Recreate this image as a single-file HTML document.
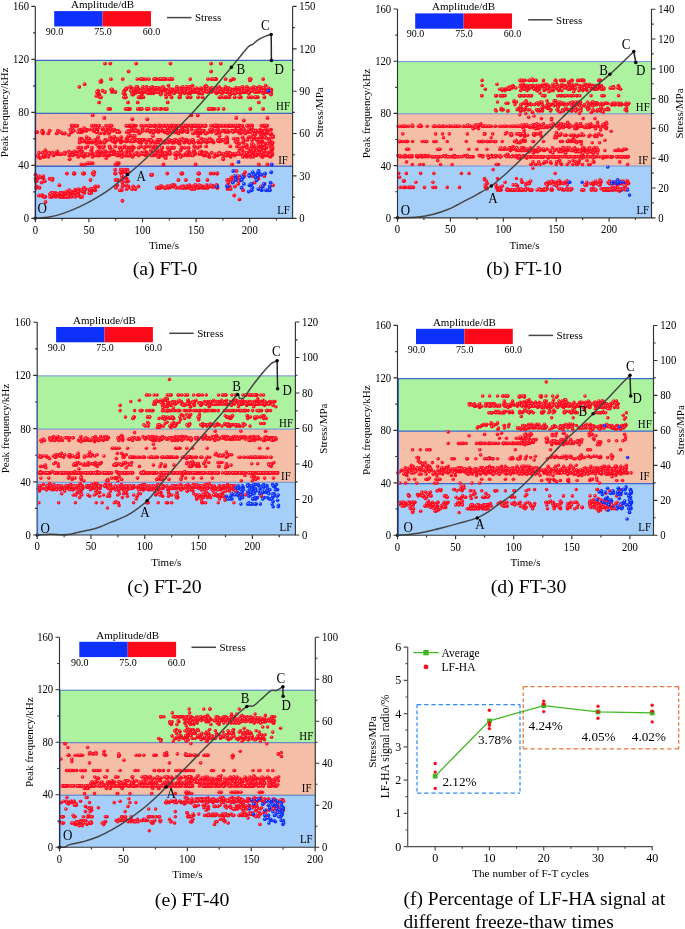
<!DOCTYPE html>
<html lang="en"><head><meta charset="utf-8"><title>Figure</title>
<style>html,body{margin:0;padding:0;background:#fff}svg{display:block;will-change:transform}text{font-family:'Liberation Serif', 'DejaVu Serif', serif;fill:#000}</style>
</head><body>
<svg width="685" height="929" viewBox="0 0 685 929">
<defs>
<radialGradient id="gr" cx="0.38" cy="0.36" r="0.62"><stop offset="0" stop-color="#ffa8bc"/><stop offset="0.36" stop-color="#ff1428"/><stop offset="1" stop-color="#fb081a"/></radialGradient>
<radialGradient id="gb" cx="0.38" cy="0.36" r="0.62"><stop offset="0" stop-color="#b4c2ff"/><stop offset="0.36" stop-color="#1238ff"/><stop offset="1" stop-color="#0a2af4"/></radialGradient>
<marker id="r0" markerUnits="userSpaceOnUse" markerWidth="6" markerHeight="6" refX="3" refY="3" overflow="visible"><circle cx="3" cy="3" r="1.95" fill="url(#gr)"/></marker>
<marker id="b0" markerUnits="userSpaceOnUse" markerWidth="6" markerHeight="6" refX="3" refY="3" overflow="visible"><circle cx="3" cy="3" r="1.95" fill="url(#gb)"/></marker>
<marker id="r1" markerUnits="userSpaceOnUse" markerWidth="6" markerHeight="6" refX="3" refY="3" overflow="visible"><circle cx="3" cy="3" r="1.78" fill="url(#gr)"/></marker>
<marker id="b1" markerUnits="userSpaceOnUse" markerWidth="6" markerHeight="6" refX="3" refY="3" overflow="visible"><circle cx="3" cy="3" r="1.78" fill="url(#gb)"/></marker>
<marker id="r2" markerUnits="userSpaceOnUse" markerWidth="6" markerHeight="6" refX="3" refY="3" overflow="visible"><circle cx="3" cy="3" r="1.78" fill="url(#gr)"/></marker>
<marker id="b2" markerUnits="userSpaceOnUse" markerWidth="6" markerHeight="6" refX="3" refY="3" overflow="visible"><circle cx="3" cy="3" r="1.78" fill="url(#gb)"/></marker>
<marker id="r3" markerUnits="userSpaceOnUse" markerWidth="6" markerHeight="6" refX="3" refY="3" overflow="visible"><circle cx="3" cy="3" r="1.78" fill="url(#gr)"/></marker>
<marker id="b3" markerUnits="userSpaceOnUse" markerWidth="6" markerHeight="6" refX="3" refY="3" overflow="visible"><circle cx="3" cy="3" r="1.78" fill="url(#gb)"/></marker>
<marker id="r4" markerUnits="userSpaceOnUse" markerWidth="6" markerHeight="6" refX="3" refY="3" overflow="visible"><circle cx="3" cy="3" r="1.78" fill="url(#gr)"/></marker>
<marker id="b4" markerUnits="userSpaceOnUse" markerWidth="6" markerHeight="6" refX="3" refY="3" overflow="visible"><circle cx="3" cy="3" r="1.78" fill="url(#gb)"/></marker>
</defs>
<rect width="685" height="929" fill="#fff"/>
<g>
<rect x="35.3" y="60.4" width="257.3" height="53.0" fill="#adf39f"/>
<rect x="35.3" y="113.4" width="257.3" height="53.0" fill="#f5bea7"/>
<rect x="35.3" y="166.3" width="257.3" height="52.0" fill="#a5cff8"/>
<path d="M35.3 60.4H292.6M35.3 113.4H292.6M35.3 166.3H292.6" stroke="#3f62c8" stroke-width="1.4" fill="none"/>
<polyline fill="none" stroke="none" marker-start="url(#r0)" marker-mid="url(#r0)" marker-end="url(#r0)" points="225.8,125.7 154.3,152.8 257.2,147.7 215.0,130.8 266.5,90.8 136.4,139.9 125.5,172.2 164.9,132.1 185.8,125.7 243.1,190.3 155.7,90.8 146.7,154.1 81.7,132.1 144.7,139.9 228.7,90.8 115.4,164.5 240.0,88.2 263.1,152.8 189.7,125.7 160.4,186.5 190.1,90.8 185.6,141.2 218.0,139.9 229.7,89.5 51.0,194.2 154.7,125.7 161.8,186.5 51.6,195.5 215.9,79.1 171.4,79.1 248.8,90.8 114.9,142.5 243.1,128.3 43.5,178.7 129.5,125.7 154.3,89.5 110.1,137.3 205.1,155.4 186.7,187.8 200.4,132.1 141.9,94.6 110.2,108.9 193.1,133.4 108.4,108.9 253.4,154.1 188.6,142.5 214.6,125.7 45.3,150.3 261.6,152.8 230.7,156.7 229.1,93.3 186.3,130.8 178.5,141.2 244.7,152.8 78.2,191.6 141.3,142.5 109.6,146.4 60.9,195.5 200.2,125.7 244.8,89.5 217.0,185.2 242.6,92.0 264.7,125.7 165.8,125.7 233.9,138.6 168.9,187.8 232.0,164.5 132.6,136.0 120.9,155.4 96.0,125.7 187.1,90.8 263.2,133.4 199.5,92.0 246.3,155.4 259.0,92.0 194.9,152.8 170.8,79.1 91.0,189.1 266.0,129.6 97.7,154.1 194.0,89.5 161.6,151.5 165.8,79.1 121.1,173.5 84.3,192.9 115.6,154.1 169.7,129.6 78.4,192.9 98.0,90.8 242.4,130.8 126.3,141.2 240.1,133.4 193.7,152.8 204.7,141.2 259.4,143.8 86.8,142.5 227.3,139.9 191.6,187.8 200.2,186.5 52.6,152.8 102.0,146.4 161.9,130.8 144.0,90.8 82.1,130.8 201.3,142.5 72.8,152.8 212.1,90.8 188.8,151.5 269.9,154.1 185.3,130.8 69.5,195.5 181.7,147.7 165.3,89.5 152.9,136.0 271.2,90.8 240.8,92.0 156.2,89.5 221.4,139.9 191.5,129.6 111.9,154.1 108.5,155.4 177.0,152.8 188.9,141.2 146.8,108.9 112.9,139.9 250.9,89.5 271.2,147.7 160.6,139.9 56.8,133.4 132.3,125.7 141.2,152.8 76.6,152.8 139.9,89.5 86.7,154.1 146.2,142.5 81.3,147.7 228.6,88.2 130.0,125.7 184.0,141.2 138.6,139.9 272.4,154.1 260.6,130.8 72.1,192.9 42.7,152.8 141.7,154.1 80.4,196.8 79.8,141.2 79.6,142.5 175.5,90.8 87.9,163.2 228.4,132.1 141.2,79.1 270.6,146.4 171.6,97.2 188.3,186.5 89.8,129.6 100.1,142.5 164.1,187.8 121.8,147.7 45.3,196.8 108.5,133.4 219.5,141.2 81.7,138.6 268.0,143.8 42.5,177.4 179.6,125.7 126.5,189.1 93.5,172.2 64.7,133.4 172.7,125.7 254.7,133.4 262.3,156.7 49.7,130.8 131.3,141.2 173.1,185.2 252.1,152.8 199.4,187.8 265.3,152.8 81.4,132.1 64.8,152.8 261.1,134.7 257.7,138.6 129.8,155.4 133.1,141.2 205.8,152.8 243.8,130.8 247.9,88.2 190.2,79.1 89.2,142.5 148.4,92.0 238.4,132.1 163.9,125.7 93.0,189.1 269.4,138.6 204.3,125.7 110.2,125.7 213.5,186.5 139.5,141.2 217.1,173.5 219.3,152.8 258.4,178.7 182.9,130.8 271.2,93.3 208.0,155.4 253.8,86.9 159.0,88.2 150.4,88.2 206.8,187.8 171.7,141.2 106.2,158.0 263.1,147.7 164.7,132.1 266.9,92.0 153.4,93.3 95.0,154.1 112.0,92.0 189.1,89.5 55.4,194.2 237.6,138.6 150.6,125.7 127.4,169.7 163.2,155.4 236.8,125.7 211.6,89.5 208.0,154.1 184.7,125.7 113.3,129.6 163.1,88.2 157.1,155.4 142.7,139.9 70.1,192.9 148.9,125.7 267.4,117.9 230.0,125.7 247.3,89.5 273.0,136.0 76.9,190.3 172.7,89.5 244.5,176.1 81.1,130.8 128.7,130.8 179.4,97.2 57.9,130.8 225.6,132.1 178.4,180.0 172.0,141.2 96.1,132.1 212.1,129.6 220.1,92.0 243.2,92.0 211.4,79.1 101.4,81.7 189.2,86.9 190.5,89.5 142.8,130.8 174.2,92.0 186.4,125.7 158.1,152.8 77.9,191.6 78.1,132.1 214.4,108.9 226.7,139.9 153.9,155.4 174.8,141.2 232.0,154.1 53.1,195.5 142.8,139.9 213.5,142.5 120.9,141.2 228.1,180.0 201.1,186.5 147.6,89.5 263.6,155.4 252.3,136.0 154.6,125.7 271.8,145.1 132.1,150.3 163.2,79.1 262.3,90.8 220.7,89.5 53.7,194.2 258.5,151.5 92.7,115.3 234.2,154.1 173.0,142.5 261.3,125.7 266.3,133.4 138.4,186.5 229.4,152.8 77.2,191.6 147.3,119.2 113.6,152.8 258.8,164.5 161.2,90.8 209.8,138.6 122.5,172.2 264.5,125.7 136.4,86.9 189.5,187.8 128.3,172.2 84.0,156.7 229.3,97.2 109.3,152.8 98.0,186.5 262.3,90.8 100.6,152.8 124.6,146.4 115.1,173.5 37.2,132.1 94.1,141.2 255.9,155.4 67.1,196.8 117.6,164.5 158.7,142.5 265.6,155.4 242.6,137.3 271.0,129.6 241.5,132.1 171.9,130.8 102.0,154.1 213.3,186.5 150.6,139.9 121.3,180.0 227.0,155.4 217.3,187.8 125.2,97.2 198.7,92.0"/>
<polyline fill="none" stroke="none" marker-start="url(#r0)" marker-mid="url(#r0)" marker-end="url(#r0)" points="236.7,154.1 39.0,195.5 208.0,141.2 205.1,154.1 220.6,90.8 202.5,97.2 44.7,156.7 226.6,90.8 91.8,152.8 79.0,155.4 227.1,130.8 86.3,155.4 250.3,156.7 229.0,92.0 194.6,125.7 198.1,180.0 37.7,178.7 121.7,152.8 130.1,141.2 197.9,187.8 254.1,130.8 266.6,147.7 178.3,89.5 263.9,125.7 246.9,145.1 84.0,128.3 208.5,108.9 80.8,196.8 176.8,130.8 184.0,186.5 112.8,90.8 172.3,142.5 49.2,152.8 175.7,132.1 215.8,90.8 263.0,147.7 71.7,192.9 183.2,187.8 229.2,125.7 59.5,196.8 204.1,139.9 116.0,139.9 66.9,191.6 209.4,156.7 177.2,125.7 140.7,97.2 174.5,125.7 91.1,192.9 157.8,92.0 118.7,163.2 176.6,130.8 78.1,154.1 75.9,125.7 253.0,151.5 117.9,130.8 210.8,88.2 152.2,130.8 158.1,89.5 186.4,86.9 97.8,128.3 258.3,139.9 105.3,139.9 151.9,141.2 142.9,86.9 168.4,79.1 60.8,196.8 197.7,115.3 188.7,147.7 259.0,132.1 193.3,125.7 159.9,125.7 148.8,79.1 89.0,139.9 179.8,139.9 153.5,130.8 114.5,141.2 141.1,139.9 233.7,90.8 104.4,133.4 159.4,125.7 81.2,190.3 133.9,89.5 261.5,155.4 146.3,130.8 239.5,125.7 203.8,187.8 54.9,195.5 237.9,92.0 92.5,163.2 114.6,138.6 205.3,125.7 134.1,130.8 141.3,142.5 133.2,186.5 91.9,125.7 257.4,147.7 98.0,137.3 188.7,141.2 180.2,90.8 183.8,155.4 199.9,89.5 161.3,90.8 77.6,192.9 159.4,187.8 180.2,88.2 263.8,132.1 139.5,139.9 209.7,141.2 263.3,155.4 125.5,108.9 206.3,186.5 222.4,89.5 179.2,187.8 83.0,190.3 182.3,128.3 164.6,155.4 249.5,152.8 122.2,141.2 240.3,129.6 73.0,154.1 155.1,88.2 221.6,89.5 215.6,79.1 174.8,129.6 69.3,190.3 94.4,190.3 261.0,186.5 203.8,155.4 213.6,173.5 99.3,95.9 144.5,92.0 121.2,151.5 110.3,63.6 251.8,147.7 236.4,90.8 97.4,130.8 234.2,195.5 233.9,79.1 136.9,152.8 239.2,180.0 195.1,186.5 199.0,93.3 95.7,130.8 203.9,152.8 187.7,132.1 213.1,186.5 205.9,90.8 141.4,97.2 160.4,151.5 65.7,195.5 78.4,189.1 150.7,141.2 268.2,155.4 51.5,192.9 178.8,89.5 236.4,88.2 204.9,86.9 170.8,92.0 134.0,130.8 190.2,187.8 155.1,88.2 151.8,89.5 129.4,132.1 161.6,88.2 167.4,186.5 135.1,93.3 126.8,139.9 126.4,151.5 172.2,147.7 250.9,125.7 83.2,130.8 125.5,89.5 237.4,92.0 151.6,174.8 120.8,169.7 69.7,159.3 221.9,93.3 209.4,108.9 146.1,146.4 93.9,125.7 250.8,152.8 81.4,190.3 160.3,187.8 99.6,147.7 269.3,92.0 193.3,125.7 170.3,186.5 96.2,143.8 55.6,192.9 196.0,92.0 150.2,154.1 249.6,79.1 199.7,125.7 63.3,196.8 261.4,89.5 224.9,154.1 60.9,192.9 258.9,149.0 259.7,90.8 194.3,146.4 70.4,129.6 200.5,93.3 197.6,180.0 116.8,154.1 165.8,152.8 236.3,125.7 58.8,154.1 135.2,189.1 39.5,187.8 158.8,139.9 223.2,158.0 146.4,86.9 89.9,190.3 145.2,154.1 125.7,89.5 119.6,132.1 208.1,141.2 205.6,125.7 252.0,143.8 223.5,90.8 159.5,79.1 169.6,154.1 263.4,130.8 159.3,125.7 42.2,195.5 157.5,130.8 258.3,142.5 103.0,154.1 189.2,89.5 82.1,196.8 267.3,130.8 146.2,146.4 84.4,154.1 264.3,130.8 239.5,199.4 265.6,92.0 227.4,142.5 158.1,150.3 240.9,147.7 262.5,88.2 265.7,85.6 179.6,90.8 260.5,90.8 154.0,79.1 204.3,155.4 165.6,94.6 185.7,125.7 88.1,154.1 242.7,92.0 223.8,139.9 257.2,90.8 264.5,149.0 203.8,88.2 71.2,154.1 178.2,92.0 141.1,141.2 148.2,139.9 160.5,155.4 75.3,190.3 218.9,139.9 264.0,154.1 211.7,92.0 219.2,132.1 131.1,130.8 75.2,154.1 102.2,152.8 42.3,130.8 185.9,187.8 220.4,132.1 231.4,177.4 222.2,92.0 110.6,125.7 171.4,125.7 196.8,130.8 211.7,152.8 178.7,125.7 163.4,164.5 219.5,136.0 137.6,139.9 109.9,147.7 150.0,132.1 235.5,90.8 114.2,137.3 271.7,142.5 132.1,88.2 126.7,178.7 65.6,192.9 229.3,89.5 186.1,89.5 176.2,155.4 166.3,125.7 154.9,154.1 156.8,90.8 187.3,132.1 200.3,132.1 43.0,133.4 181.4,186.5 55.1,154.1 160.5,186.5 86.2,130.8 175.7,130.8 153.9,132.1 170.5,130.8 193.4,142.5 150.9,142.5 193.5,92.0 183.2,125.7 249.8,79.1 272.3,143.8 268.6,89.5 177.3,154.1 126.3,125.7 141.3,125.7 51.6,192.9 104.0,146.4 256.2,88.2 156.5,152.8 111.6,151.5 200.4,133.4 260.6,89.5 128.6,71.4 134.9,139.9 79.9,130.8 175.7,132.1 235.7,141.2 56.7,154.1 243.2,142.5 112.7,141.2"/>
<polyline fill="none" stroke="none" marker-start="url(#r0)" marker-mid="url(#r0)" marker-end="url(#r0)" points="186.7,139.9 164.6,156.7 191.2,89.5 216.5,125.7 71.8,125.7 158.4,132.1 83.1,129.6 123.0,185.2 208.6,132.1 212.7,79.1 238.3,176.1 140.0,108.9 126.5,185.2 216.1,79.1 96.2,139.9 144.0,90.8 230.3,125.7 220.1,89.5 260.0,146.4 87.8,141.2 201.2,151.5 147.0,92.0 153.7,147.7 243.5,92.0 60.3,192.9 230.3,94.6 252.9,155.4 195.1,154.1 36.4,132.1 185.3,154.1 256.7,89.5 260.7,89.5 85.5,141.2 70.9,191.6 72.9,129.6 263.1,108.9 182.7,86.9 143.4,97.2 218.0,125.7 124.4,90.8 206.7,142.5 240.9,97.2 174.6,185.2 36.0,181.3 243.3,130.8 183.6,90.8 76.2,152.8 216.5,125.7 231.6,89.5 164.7,130.8 127.8,108.9 181.8,92.0 82.4,155.4 146.8,152.8 75.2,190.3 162.4,79.1 111.2,89.5 82.2,141.2 141.6,125.7 145.6,79.1 142.7,90.8 258.5,90.8 219.7,88.2 189.7,142.5 41.6,182.6 82.2,151.5 130.0,108.9 223.6,108.9 212.2,141.2 156.7,88.2 210.8,130.8 233.1,154.1 144.5,90.8 80.9,154.1 198.2,125.7 239.0,90.8 229.8,186.5 256.5,155.4 265.5,130.8 267.5,90.8 133.0,154.1 261.7,137.3 226.7,139.9 236.4,170.9 251.6,97.2 145.5,155.4 242.9,129.6 207.8,187.8 213.9,125.7 137.3,79.1 165.0,108.9 130.7,155.4 264.6,183.9 251.5,88.2 176.7,86.9 173.0,132.1 210.0,129.6 260.2,132.1 149.7,88.2 162.8,86.9 88.0,155.4 93.4,189.1 86.5,129.6 226.4,97.2 180.0,97.2 235.8,130.8 193.9,142.5 263.1,79.1 180.7,150.3 265.1,137.3 169.6,94.6 78.2,154.1 188.6,93.3 199.3,154.1 150.9,150.3 86.7,137.3 43.1,132.1 240.6,88.2 152.8,88.2 165.8,155.4 251.3,137.3 120.9,154.1 114.2,129.6 160.2,90.8 134.2,187.8 159.0,154.1 132.0,125.7 217.5,155.4 178.1,142.5 140.8,108.9 170.4,79.1 136.1,63.6 206.3,90.8 72.3,192.9 264.4,176.1 199.7,132.1 237.3,90.8 94.2,172.2 251.7,151.5 197.0,92.0 138.7,155.4 125.3,97.2 239.6,130.8 266.1,154.1 246.8,156.7 169.1,132.1 269.5,189.1 141.0,79.1 199.2,92.0 61.3,194.2 221.8,125.7 196.0,130.8 242.3,150.3 126.4,141.2 35.4,174.8 234.9,186.5 237.4,89.5 95.3,190.3 143.0,90.8 257.5,154.1 66.9,173.5 222.5,154.1 206.6,185.2 132.0,189.1 73.9,130.8 69.1,134.7 158.0,130.8 171.4,147.7 165.3,187.8 209.4,90.8 255.2,130.8 51.9,196.8 123.8,93.3 120.4,172.2 158.8,89.5 138.5,92.0 56.7,152.8 226.8,137.3 222.1,90.8 181.8,173.5 211.8,88.2 162.3,147.7 197.6,187.8 206.0,152.8 148.7,125.7 83.9,155.4 140.0,139.9 115.9,187.8 79.2,154.1 115.8,141.2 132.6,156.7 234.7,97.2 109.7,132.1 198.1,97.2 192.1,139.9 211.1,63.6 239.0,181.3 256.4,92.0 218.0,88.2 132.1,141.2 42.4,195.5 93.5,129.6 191.5,189.1 101.0,142.5 40.2,158.0 145.2,88.2 167.4,141.2 197.7,90.8 153.8,108.9 125.6,177.4 271.7,155.4 268.6,154.1 181.6,147.7 194.7,146.4 244.1,129.6 99.2,94.6 74.7,125.7 62.6,196.8 125.1,94.6 228.4,88.2 112.7,154.1 176.4,152.8 82.9,155.4 181.5,125.7 167.4,92.0 151.8,154.1 122.7,79.1 219.2,86.9 255.2,134.7 141.8,108.9 157.7,88.2 78.1,156.7 117.7,180.0 113.3,130.8 79.8,138.6 156.5,79.1 151.1,174.8 151.5,90.8 219.9,125.7 260.8,154.1 45.4,155.4 106.9,155.4 215.2,154.1 270.1,129.6 255.0,97.2 204.7,187.8 242.4,86.9 243.7,89.5 69.0,196.8 59.4,185.2 227.3,185.2 116.0,139.9 197.4,125.7 190.2,93.3 199.9,186.5 226.6,139.9 167.5,125.7 114.3,151.5 269.8,155.4 182.2,130.8 122.4,200.7 171.5,130.8 198.7,132.1 153.4,154.1 257.2,152.8 141.3,97.2 257.6,152.8 202.5,187.8 225.4,89.5 201.5,186.5 271.6,151.5 273.0,185.2 234.2,176.1 224.1,97.2 114.3,137.3 219.1,89.5 131.6,129.6 183.4,89.5 214.7,186.5 160.5,154.1 36.4,181.3 98.1,92.0 262.7,156.7 239.2,143.8 224.4,130.8 212.7,141.2 254.8,90.8 262.7,154.1 128.0,102.4 258.8,102.4 206.1,146.4 257.8,97.2 149.2,89.5 99.5,155.4 230.1,90.8 180.4,94.6 254.2,150.3 182.2,187.8 259.0,86.9 81.8,155.4 195.9,132.1 272.6,142.5 106.2,152.8 92.3,142.5 193.5,125.7 185.9,180.0 115.4,92.0 197.4,89.5 141.7,154.1 138.5,141.2 248.3,132.1 169.9,89.5 220.8,92.0 192.5,186.5 161.0,125.7 121.9,156.7 133.1,94.6 45.5,202.0 246.3,88.2 234.3,178.7 253.5,138.6 227.2,139.9 175.9,158.0 250.8,79.1 166.3,97.2 247.6,88.2 115.6,173.5 82.9,191.6"/>
<polyline fill="none" stroke="none" marker-start="url(#r0)" marker-mid="url(#r0)" marker-end="url(#r0)" points="168.9,89.5 192.4,85.6 200.1,90.8 43.7,196.8 165.9,108.9 246.5,154.1 173.8,125.7 93.5,130.8 191.8,125.7 43.3,156.7 251.2,89.5 183.0,186.5 219.4,141.2 234.7,155.4 64.1,196.8 106.5,154.1 237.0,178.7 127.2,155.4 225.3,154.1 203.8,130.8 246.7,86.9 217.6,92.0 135.8,125.7 102.8,129.6 173.9,142.5 223.5,90.8 160.1,139.9 243.4,92.0 208.4,141.2 248.7,97.2 171.6,90.8 249.4,149.0 211.1,71.4 196.4,92.0 261.2,154.1 209.5,156.7 242.6,92.0 226.5,89.5 188.2,92.0 166.5,130.8 142.0,92.0 226.8,141.2 198.9,173.5 122.5,178.7 71.8,125.7 74.6,151.5 133.7,129.6 205.0,152.8 167.9,92.0 97.0,142.5 201.5,92.0 195.0,185.2 130.1,86.9 159.2,156.7 193.5,154.1 80.0,132.1 242.5,132.1 256.0,130.8 230.8,90.8 201.0,89.5 126.7,88.2 161.5,186.5 155.0,92.0 105.5,141.2 188.2,90.8 90.6,190.3 128.5,186.5 171.3,186.5 84.2,173.5 55.8,196.8 194.0,152.8 189.6,86.9 121.1,137.3 159.5,79.1 248.6,137.3 248.8,89.5 173.3,90.8 255.8,176.1 68.8,151.5 271.3,154.1 149.7,146.4 75.2,194.2 122.2,178.7 64.8,194.2 182.0,138.6 94.5,187.8 138.7,92.0 139.1,92.0 137.8,108.9 264.2,132.1 217.3,132.1 143.7,154.1 229.8,155.4 67.8,191.6 161.9,147.7 66.4,191.6 249.8,90.8 83.5,173.5 117.0,132.1 199.2,185.2 106.0,125.7 105.9,139.9 198.5,180.0 171.2,89.5 263.7,88.2 264.4,151.5 207.9,90.8 141.0,146.4 104.8,141.2 268.5,88.2 126.7,132.1 151.0,88.2 124.0,97.2 190.9,155.4 90.2,189.1 210.5,90.8 160.9,129.6 265.3,143.8 182.3,90.8 134.4,125.7 171.1,125.7 156.4,88.2 204.7,90.8 44.5,196.8 136.4,90.8 85.8,189.1 269.8,133.4 202.5,90.8 167.0,186.5 153.2,132.1 214.8,90.8 216.1,90.8 64.8,152.8 109.3,155.4 139.6,142.5 71.6,132.1 69.2,191.6 76.5,191.6 96.4,95.9 175.6,139.9 141.9,93.3 131.8,141.2 57.1,194.2 63.7,195.5 84.5,141.2 264.2,137.3 202.4,186.5 53.4,155.4 254.0,147.7 250.9,90.8 195.8,185.2 129.4,147.7 185.7,125.7 195.3,125.7 200.5,186.5 125.4,89.5 198.2,136.0 124.1,92.0 63.0,192.9 44.7,181.3 187.5,97.2 270.2,151.5 240.0,93.3 120.8,142.5 246.6,147.7 220.4,141.2 257.8,177.4 242.1,89.5 251.6,146.4 85.3,129.6 205.8,85.6 115.6,180.0 252.1,125.7 122.4,182.6 225.6,154.1 97.6,139.9 65.7,196.8 97.3,151.5 163.4,142.5 78.3,147.7 245.8,155.4 135.2,189.1 169.7,90.8 61.4,194.2 74.4,173.5 164.6,79.1 172.6,141.2 198.4,142.5 208.7,90.8 91.3,191.6 184.3,142.5 94.0,189.1 238.4,152.8 127.7,139.9 191.1,92.0 192.4,154.1 173.8,92.0 98.3,155.4 52.4,194.2 57.1,194.2 207.9,79.1 134.8,90.8 151.7,155.4 109.4,125.7 245.3,88.2 198.1,129.6 253.1,156.7 78.8,195.5 156.6,129.6 263.2,155.4 267.1,152.8 108.5,128.3 272.5,149.0 57.2,194.2 235.9,154.1 166.7,154.1 49.6,178.7 60.7,132.1 169.7,139.9 269.4,139.9 56.8,195.5 230.2,89.5 214.2,156.7 221.4,92.0 102.6,90.8 261.5,143.8 110.3,147.7 152.1,174.8 100.1,133.4 111.6,125.7 83.0,141.2 43.2,176.1 241.4,154.1 181.3,173.5 226.6,152.8 60.9,192.9 77.2,125.7 132.3,119.2 218.3,125.7 179.7,143.8 71.5,196.8 133.4,125.7 131.8,139.9 261.0,137.3 99.7,141.2 174.8,139.9 207.6,155.4 84.9,164.5 183.9,125.7 100.0,97.2 159.0,125.7 170.2,92.0 162.3,130.8 224.2,125.7 150.4,93.3 69.8,154.1 49.4,154.1 68.9,191.6 62.6,133.4 183.9,89.5 74.2,173.5 189.7,142.5 175.0,128.3 244.4,92.0 260.2,129.6 258.2,138.6 137.7,102.4 117.4,152.8 133.9,147.7 122.5,186.5 161.0,93.3 216.0,88.2 136.5,139.9 252.5,146.4 238.6,125.7 254.7,92.0 75.7,192.9 187.6,155.4 77.9,195.5 182.1,90.8 48.3,133.4 194.3,186.5 128.8,151.5 70.0,191.6 174.8,92.0 71.0,191.6 157.3,139.9 128.2,181.3 169.6,90.8 139.7,92.0 189.3,185.2 260.2,89.5 144.4,90.8 248.4,125.7 245.3,154.1 197.7,147.7 130.5,125.7 212.7,88.2 197.0,89.5 87.8,141.2 118.0,155.4 232.9,90.8 176.9,154.1 43.7,155.4 84.6,84.3 236.0,90.8 106.6,130.8 243.0,156.7 155.1,79.1 184.0,125.7 151.3,125.7 239.3,125.7 104.4,117.9 149.1,89.5 151.6,90.8 114.1,154.1 230.7,189.1 146.8,108.9 217.0,154.1 259.3,152.8 239.3,149.0"/>
<polyline fill="none" stroke="none" marker-start="url(#b0)" marker-mid="url(#b0)" marker-end="url(#b0)" points="263.9,183.9 261.7,190.3 271.2,172.2 249.5,185.2 248.7,191.6 271.7,164.5"/>
<polyline fill="none" stroke="none" marker-start="url(#r0)" marker-mid="url(#r0)" marker-end="url(#r0)" points="256.0,132.1 110.9,79.1 267.0,92.0 264.7,89.5 99.2,155.4 133.2,155.4 56.9,152.8 174.1,147.7 82.9,173.5 259.3,89.5 262.3,141.2 164.4,125.7 107.8,155.4 194.4,189.1 162.5,154.1 121.1,141.2 91.4,150.3 92.7,173.5 190.2,89.5 264.4,97.2 226.2,138.6 89.3,192.9 60.3,192.9 161.0,154.1 225.6,79.1 124.8,155.4 251.7,125.7 167.2,173.5 219.5,97.2 254.1,137.3 125.8,97.2 161.1,108.9 188.3,92.0 180.0,154.1 119.2,155.4 211.9,186.5 252.5,176.1 101.2,80.4 101.0,97.2 252.0,139.9 139.1,133.4 217.5,187.8 238.2,183.9 175.4,130.8 193.7,90.8 62.6,195.5 216.4,185.2 263.8,90.8 265.0,137.3 245.8,145.1 166.9,108.9 129.4,152.8 136.3,154.1 230.2,146.4 258.0,90.8 228.4,125.7 142.8,139.9 211.4,139.9 251.3,125.7 236.4,92.0 226.2,155.4 266.6,92.0 106.0,129.6 250.3,108.9 201.4,138.6 117.0,163.2 201.3,125.7 195.2,125.7 155.0,142.5 198.2,173.5 93.8,174.8 202.1,92.0 248.8,155.4 248.2,130.8 246.1,89.5 266.2,125.7 245.3,133.4 176.5,89.5 167.2,125.7 98.2,155.4 126.2,181.3 209.3,186.5 205.5,152.8 250.0,130.8 253.8,145.1 205.8,133.4 259.0,130.8 203.5,89.5 223.7,154.1 114.3,129.6 243.6,139.9 223.2,89.5 52.6,178.7 35.6,178.7 230.7,80.4 79.3,86.9 182.1,132.1 91.1,189.1 259.9,86.9 175.1,90.8 260.4,151.5 145.2,151.5 227.1,130.8 200.7,154.1 265.1,137.3 270.3,93.3 153.3,146.4 94.2,130.8 259.5,143.8 174.3,154.1 273.0,137.3 237.6,139.9 46.2,152.8 99.1,125.7 184.8,93.3 204.0,125.7 112.0,89.5 255.9,88.2 270.2,156.7 157.6,92.0 136.2,154.1 227.5,189.1 92.6,154.1 192.9,155.4 170.0,152.8 68.9,195.5 215.8,125.7 135.0,129.6 267.4,164.5 230.6,154.1 36.6,186.5 127.7,147.7 175.3,89.5 193.1,139.9 254.4,149.0 138.0,130.8 253.9,130.8 39.0,152.8 102.7,128.3 220.1,89.5 196.4,125.7 143.0,79.1 204.1,90.8 195.2,125.7 260.5,150.3 160.4,89.5 124.7,146.4 236.8,142.5 129.1,154.1 226.0,130.8 243.6,141.2 214.0,125.7 98.4,93.3 73.7,173.5 156.1,108.9 188.9,186.5 84.0,155.4 218.1,129.6 257.4,90.8 167.7,102.4 134.2,141.2 208.6,90.8 141.9,79.1 48.4,156.7 53.7,195.5 164.8,152.8 125.7,89.5 175.3,130.8 116.1,164.5 174.5,186.5 178.6,142.5 264.7,147.7 154.9,88.2 87.4,146.4 142.5,128.3 69.3,155.4 122.0,152.8 50.0,194.2 152.3,86.9 189.5,152.8 163.4,125.7 263.8,125.7 112.6,150.3 186.7,90.8 226.4,141.2 103.1,147.7 122.9,147.7 227.1,130.8 58.1,195.5 201.1,92.0 104.9,92.0 164.4,90.8 132.4,125.7 169.2,150.3 156.3,146.4 103.2,155.4 190.3,89.5 181.0,90.8 148.6,108.9 176.2,187.8 220.0,154.1 75.1,196.8 231.2,180.0 268.4,90.8 249.9,80.4 76.1,154.1 263.3,93.3 175.9,125.7 137.0,130.8 94.8,129.6 234.6,130.8 245.0,172.2 139.2,97.2 263.6,154.1 89.4,141.2 89.8,190.3 251.4,90.8 126.5,138.6 225.9,92.0 268.1,90.8 250.7,149.0 217.4,173.5 198.4,132.1 171.0,125.7 79.7,150.3 109.9,139.9 190.7,97.2 197.2,133.4 52.3,180.0 254.7,182.6 155.1,79.1 105.6,151.5 210.6,173.5 138.7,147.7 232.8,125.7 147.0,146.4 115.2,146.4 164.8,141.2 267.8,152.8 41.4,195.5 151.2,90.8 237.6,88.2 199.5,129.6 37.9,155.4 268.0,155.4 115.1,169.7 218.3,141.2 220.6,125.7 178.6,133.4 117.0,155.4 157.3,187.8 265.3,130.8 250.5,154.1 154.8,125.7 200.4,88.2 127.3,155.4 128.5,125.7 223.9,125.7 225.4,142.5 130.9,90.8 91.4,141.2 267.1,138.6 159.6,187.8 270.9,134.7 186.8,186.5 172.7,141.2 150.7,139.9 52.3,195.5 243.7,146.4 144.5,154.1 258.7,139.9 248.9,129.6 220.8,63.6 271.6,149.0 104.2,132.1 260.8,141.2 168.8,130.8 227.1,180.0 264.9,125.7 199.5,130.8 132.4,93.3 134.8,136.0 199.7,130.8 107.6,155.4 265.1,130.8 191.6,125.7 168.1,186.5 261.1,146.4 95.3,139.9 185.8,154.1 71.2,154.1 262.0,90.8 184.9,147.7 168.9,89.5 60.6,154.1 62.5,194.2 160.1,108.9 262.0,90.8 225.5,86.9 56.4,194.2 188.4,89.5 76.4,154.1 214.9,79.1 126.0,154.1 167.7,147.7 145.2,125.7 197.4,89.5 132.0,90.8 236.3,117.9 230.8,154.1 211.6,132.1 216.4,133.4 237.7,130.8 58.9,194.2 203.8,132.1 91.9,147.7 71.1,130.8 81.5,164.5 245.1,89.5"/>
<polyline fill="none" stroke="none" marker-start="url(#b0)" marker-mid="url(#b0)" marker-end="url(#b0)" points="255.6,177.4 241.6,187.8 269.0,190.3 265.0,173.5 256.7,180.0 249.2,174.8 252.7,172.2 251.5,183.9 238.5,161.9"/>
<polyline fill="none" stroke="none" marker-start="url(#r0)" marker-mid="url(#r0)" marker-end="url(#r0)" points="199.1,173.5 216.4,93.3 127.4,137.3 51.0,194.2 92.6,156.7 185.0,139.9 188.0,151.5 89.9,163.2 186.4,186.5 95.2,186.5 168.5,85.6 242.2,125.7 160.8,79.1 180.8,156.7 181.6,89.5 128.5,108.9 51.7,196.8 129.4,136.0 97.0,132.1 205.2,125.7 222.5,130.8 188.0,125.7 267.2,125.7 137.7,130.8 194.0,150.3 271.1,133.4 128.1,125.7 130.6,147.7 216.0,89.5 57.3,151.5 206.1,186.5 132.3,94.6 182.5,139.9 242.3,90.8 179.8,89.5 127.8,108.9 116.9,180.0 239.3,97.2 136.4,130.8 172.3,185.2 259.3,89.5 247.1,152.8 235.3,129.6 123.9,92.0 160.7,94.6 54.8,194.2 233.4,93.3 72.6,125.7 50.1,196.8 121.7,190.3 125.5,141.2 52.9,192.9 251.4,90.8 128.2,187.8 160.4,125.7 173.5,186.5 214.4,125.7 83.9,187.8 119.8,139.9 260.8,155.4 232.1,125.7 269.7,141.2 38.2,156.7 256.0,130.8 187.8,90.8 234.2,125.7 130.2,141.2 206.9,92.0 98.3,146.4 155.6,152.8 187.9,92.0 198.5,125.7 212.8,108.9 64.5,154.1 72.6,155.4 226.1,92.0 147.9,93.3 186.3,125.7 164.1,79.1 168.1,128.3 271.2,89.5 215.5,90.8 161.0,129.6 184.6,90.8 201.6,130.8 70.1,152.8 166.8,141.2 89.7,192.9 163.7,88.2 246.6,92.0 202.7,130.8 80.8,129.6 119.9,190.3 117.6,138.6 263.2,143.8 263.9,90.8 84.6,190.3 246.9,89.5 258.6,145.1 265.4,130.8 119.5,147.7 125.2,155.4 264.2,88.2 155.1,125.7 150.1,130.8 153.0,90.8 180.8,92.0 223.2,159.3 100.6,151.5 230.1,92.0 144.4,90.8 262.5,145.1 150.6,90.8 211.7,130.8 230.4,89.5 191.3,115.3 170.4,63.6 122.0,169.7 85.5,147.7 237.0,146.4 227.2,125.7 153.7,132.1 183.1,187.8 138.2,89.5 174.0,125.7 89.3,138.6 78.5,191.6 198.3,141.2 151.8,141.2 235.5,93.3 176.6,89.5 79.5,155.4 211.0,125.7 154.1,125.7 105.0,63.6 110.7,129.6 251.7,128.3 120.0,138.6 268.9,90.8 176.8,141.2 217.0,92.0 138.1,141.2 205.8,133.4 247.4,139.9 42.2,132.1 149.1,89.5 206.9,86.9 271.0,94.6 105.6,141.2 137.3,86.9 243.4,174.8 245.4,90.8 184.2,141.2 256.8,139.9 259.5,146.4 210.6,185.2 205.8,139.9 238.6,92.0 231.1,125.7 118.0,132.1 112.0,154.1 95.6,155.4 235.5,125.7 165.7,154.1 58.1,194.2 174.2,93.3 168.3,142.5 62.0,194.2 171.4,125.7 91.4,189.1 108.4,154.1 162.8,89.5 236.8,125.7 181.1,130.8 129.1,155.4 191.2,125.7 171.2,89.5 204.4,154.1 186.9,152.8 192.7,89.5 123.7,93.3 260.8,145.1 176.5,152.8 200.1,146.4 261.8,152.8 236.6,142.5 133.6,139.9 194.1,90.8 190.8,125.7 158.6,92.0 191.8,90.8 207.4,180.0 81.6,190.3 190.3,90.8 128.6,155.4 228.5,182.6 167.6,133.4 243.8,120.5 82.5,191.6 264.8,132.1 128.8,136.0 215.4,125.7 166.3,187.8 235.2,88.2 196.2,88.2 226.0,155.4 218.2,108.9 120.9,150.3 83.8,154.1 165.8,158.0 99.1,102.4 260.0,141.2 171.0,129.6 64.6,133.4 38.8,176.1 52.4,195.5 210.3,141.2 122.0,176.1 104.4,151.5 79.2,129.6 238.8,154.1 266.4,154.1 195.6,164.5 250.5,154.1 231.4,130.8 140.7,132.1 165.1,142.5 197.6,90.8 144.3,147.7 138.6,97.2 133.1,141.2 158.3,156.7 169.6,125.7 97.0,92.0 256.1,97.2 211.2,108.9 178.8,130.8 260.6,134.7 206.4,141.2 199.7,152.8 155.4,142.5 169.2,186.5 250.7,132.1 270.8,90.8 90.5,180.0 132.4,146.4 217.3,125.7 158.1,88.2 218.0,90.8 61.2,154.1 91.9,154.1 134.3,89.5 272.5,147.7 235.9,125.7 178.5,154.1 67.7,196.8 217.9,129.6 253.9,150.3 126.8,147.7 156.9,187.8 187.3,129.6 125.0,169.7 220.9,97.2 249.0,93.3 104.6,142.5 261.3,139.9 74.6,190.3 100.3,81.7 141.0,90.8 40.4,177.4 146.3,89.5 201.1,125.7 147.5,129.6 214.9,125.7 172.4,79.1 94.3,141.2 148.6,88.2 170.6,186.5 270.0,155.4 247.0,125.7 202.4,93.3 237.8,125.7 211.8,129.6 172.1,130.8 232.2,79.1 160.4,151.5 233.1,132.1 182.4,173.5 36.3,187.8 171.0,186.5 212.1,186.5 117.2,185.2 264.0,145.1 196.3,130.8 158.3,125.7 91.3,152.8"/>
<polyline fill="none" stroke="none" marker-start="url(#b0)" marker-mid="url(#b0)" marker-end="url(#b0)" points="243.9,183.9 260.8,189.1 241.2,180.0 270.6,182.6 252.3,187.8 258.5,170.9 258.3,189.1 232.8,182.6 227.2,186.5 241.8,176.1 261.3,174.8 257.5,173.5 241.8,180.0 266.0,190.3 269.8,190.3 268.5,90.8 258.5,172.2 227.6,186.5 243.0,177.4 251.7,190.3 254.0,174.8 251.4,183.9 217.0,186.5 269.7,186.5 258.3,174.8 233.3,170.9 235.5,176.1 235.6,178.7 249.4,176.1 257.8,176.1 262.8,186.5 235.6,180.0"/>
<path d="M35.3 218.3C37.8 218.1 45.3 217.8 50.3 216.8C55.3 215.9 60.3 214.3 65.3 212.6C70.3 210.9 75.4 208.8 80.4 206.4C85.4 204.0 90.5 201.4 95.5 198.4C100.5 195.4 105.2 192.6 110.6 188.6C115.9 184.6 122.6 178.8 127.6 174.6C132.6 170.4 136.0 167.4 140.7 163.2C145.4 159.0 150.6 154.3 155.8 149.3C161.0 144.3 166.0 139.5 172.1 133.4C178.2 127.3 186.6 118.9 192.3 112.9C198.0 106.9 201.7 102.7 206.4 97.3C211.1 91.9 216.2 85.4 220.4 80.4C224.6 75.4 228.1 71.3 231.4 67.3C234.7 63.3 237.3 59.9 240.2 56.4C243.1 52.9 246.5 48.5 248.6 46.5C250.7 44.5 251.2 45.4 252.8 44.3C254.5 43.1 256.4 41.0 258.5 39.6C260.6 38.2 263.4 37.0 265.5 36.1C267.6 35.2 270.2 34.7 271.2 34.4" fill="none" stroke="#454545" stroke-width="1.5" stroke-linejoin="round"/>
<path d="M271.2 34.4 L271.4 60.6" fill="none" stroke="#2a2a2a" stroke-width="1.5"/>
<circle cx="35.3" cy="218.3" r="1.75" fill="#000"/>
<circle cx="127.6" cy="174.6" r="1.75" fill="#000"/>
<circle cx="231.4" cy="67.3" r="1.75" fill="#000"/>
<circle cx="271.2" cy="34.4" r="1.75" fill="#000"/>
<circle cx="271.4" cy="60.6" r="1.75" fill="#000"/>
<g stroke="#333" stroke-width="1.15" fill="none">
<path d="M35.3 6.4 V218.3 H292.6 V6.4"/>
<path d="M35.3 218.3h-4.0M35.3 191.8h-2.2M35.3 165.3h-4.0M35.3 138.8h-2.2M35.3 112.4h-4.0M35.3 85.9h-2.2M35.3 59.4h-4.0M35.3 32.9h-2.2M35.3 6.4h-4.0M292.6 218.3h4.0M292.6 197.1h2.2M292.6 175.9h4.0M292.6 154.7h2.2M292.6 133.5h4.0M292.6 112.4h2.2M292.6 91.2h4.0M292.6 70.0h2.2M292.6 48.8h4.0M292.6 27.6h2.2M292.6 6.4h4.0M35.3 218.3v4.0M62.1 218.3v2.2M88.9 218.3v4.0M115.7 218.3v2.2M142.5 218.3v4.0M169.3 218.3v2.2M196.1 218.3v4.0M222.9 218.3v2.2M249.7 218.3v4.0M276.5 218.3v2.2"/>
</g>
<line x1="35.5" y1="60.4" x2="35.5" y2="218.3" stroke="#1d2f63" stroke-width="1.3"/>
<g font-size="11.5">
<text transform="translate(29.0 222.2) scale(.93 1)" text-anchor="end">0</text>
<text transform="translate(29.0 169.2) scale(.93 1)" text-anchor="end">40</text>
<text transform="translate(29.0 116.3) scale(.93 1)" text-anchor="end">80</text>
<text transform="translate(29.0 63.3) scale(.93 1)" text-anchor="end">120</text>
<text transform="translate(29.0 10.3) scale(.93 1)" text-anchor="end">160</text>
<text transform="translate(299.3 222.2) scale(.93 1)">0</text>
<text transform="translate(299.3 179.8) scale(.93 1)">30</text>
<text transform="translate(299.3 137.4) scale(.93 1)">60</text>
<text transform="translate(299.3 95.1) scale(.93 1)">90</text>
<text transform="translate(299.3 52.7) scale(.93 1)">120</text>
<text transform="translate(299.3 10.3) scale(.93 1)">150</text>
<text transform="translate(35.3 233.6) scale(.93 1)" text-anchor="middle">0</text>
<text transform="translate(88.9 233.6) scale(.93 1)" text-anchor="middle">50</text>
<text transform="translate(142.5 233.6) scale(.93 1)" text-anchor="middle">100</text>
<text transform="translate(196.1 233.6) scale(.93 1)" text-anchor="middle">150</text>
<text transform="translate(249.7 233.6) scale(.93 1)" text-anchor="middle">200</text>
</g>
<text x="164.0" y="249.3" font-size="11" text-anchor="middle">Time/s</text>
<text transform="translate(7.5 112.4) rotate(-90)" font-size="11" text-anchor="middle">Peak frequency/kHz</text>
<text transform="translate(322.5 112.4) rotate(-90)" font-size="11" text-anchor="middle">Stress/MPa</text>
<rect x="54.2" y="11.1" width="48.4" height="15.3" fill="#0d31fb"/>
<rect x="102.6" y="11.1" width="48.4" height="15.3" fill="#fd0a1a"/>
<text x="102.6" y="7.9" font-size="11" text-anchor="middle">Amplitude/dB</text>
<g font-size="10" text-anchor="middle"><text x="54.6" y="34.8">90.0</text><text x="103.0" y="34.8">75.0</text><text x="151.4" y="34.8">60.0</text></g>
<line x1="167.0" y1="17.6" x2="191.5" y2="17.6" stroke="#454545" stroke-width="1.5"/>
<text x="195.0" y="21.3" font-size="11">Stress</text>
<g font-size="14.6">
<text transform="translate(37.5 213.0) scale(.89 1)">O</text>
<text transform="translate(136.6 181.2) scale(.89 1)">A</text>
<text transform="translate(236.4 73.7) scale(.89 1)">B</text>
<text transform="translate(260.9 30.0) scale(.89 1)">C</text>
<text transform="translate(274.4 74.0) scale(.89 1)">D</text>
<text transform="translate(276.1 110.2) scale(.89 1)" font-size="12.2">HF</text>
<text transform="translate(278.2 163.8) scale(.89 1)" font-size="12.2">IF</text>
<text transform="translate(277.2 214.1) scale(.89 1)" font-size="12.2">LF</text>
</g>
<text x="165.0" y="274.5" font-size="19.8" text-anchor="middle">(a) FT-0</text>
</g>
<g>
<rect x="397.5" y="61.6" width="254.0" height="52.2" fill="#adf39f"/>
<rect x="397.5" y="113.8" width="254.0" height="52.2" fill="#f5bea7"/>
<rect x="397.5" y="166.0" width="254.0" height="51.8" fill="#a5cff8"/>
<path d="M397.5 61.6H651.5M397.5 113.8H651.5M397.5 166.0H651.5" stroke="#6a8fe0" stroke-width="0.95" fill="none"/>
<polyline fill="none" stroke="none" marker-start="url(#r1)" marker-mid="url(#r1)" marker-end="url(#r1)" points="513.2,184.9 528.3,104.6 506.0,89.3 626.3,149.2 619.7,161.9 523.2,126.2 618.5,188.7 428.0,156.8 533.5,127.5 590.5,151.7 521.1,84.2 623.7,149.2 589.6,127.5 625.1,182.3 579.2,80.4 556.2,164.5 522.8,127.5 606.3,128.8 605.8,156.8 570.8,188.7 580.2,125.0 590.0,135.2 442.5,133.9 545.7,183.6 594.0,103.3 521.8,190.0 510.6,150.5 627.3,104.6 589.9,156.8 504.6,147.9 572.6,104.6 596.0,103.3 569.3,161.9 589.1,164.5 405.5,155.6 521.9,182.3 540.3,102.0 537.4,156.8 526.1,86.7 628.6,183.6 558.8,156.8 595.7,190.0 565.4,125.0 621.8,150.5 528.7,89.3 564.7,95.7 579.1,156.8 520.8,86.7 529.8,190.0 503.6,95.7 542.5,156.8 570.7,103.3 399.6,177.2 516.6,147.9 510.1,190.0 565.1,153.0 512.9,126.2 507.1,88.0 574.1,156.8 409.1,187.4 589.7,147.9 542.7,156.8 541.4,118.6 508.0,103.3 571.5,95.7 554.5,182.3 600.4,85.5 601.1,104.6 420.2,125.0 510.3,150.5 526.8,125.0 498.4,164.5 551.2,163.2 541.0,127.5 556.7,161.9 584.9,126.2 499.9,187.4 536.7,88.0 474.7,126.2 537.0,103.3 548.2,104.6 570.4,103.3 613.6,86.7 468.6,156.8 571.0,84.2 528.2,109.7 484.9,133.9 507.7,154.3 594.0,188.7 621.2,156.8 593.1,156.8 471.4,156.8 513.5,86.7 559.6,88.0 543.9,127.5 496.1,156.8 539.6,150.5 524.6,190.0 537.6,151.7 626.4,156.8 468.9,149.2 627.9,156.8 514.8,190.0 555.5,80.4 607.7,103.3 583.5,190.0 573.3,135.2 408.5,149.2 518.4,126.2 512.8,155.6 591.3,86.7 605.1,127.5 591.2,190.0 594.8,136.4 495.3,126.2 560.6,183.6 522.3,190.0 562.5,190.0 437.7,160.6 531.1,104.6 574.7,103.3 453.7,155.6 502.4,186.1 500.1,188.7 526.7,158.1 423.3,156.8 588.2,149.2 567.1,147.9 543.4,107.1 558.3,156.8 495.4,109.7 521.3,179.8 533.0,88.0 520.2,110.9 421.2,155.6 497.4,190.0 622.4,150.5 556.6,126.2 594.4,88.0 574.0,126.2 478.5,126.2 489.0,156.8 605.3,156.8 566.2,156.8 559.9,135.2 501.3,89.3 586.4,156.8 536.8,90.6 588.4,149.2 408.5,126.2 605.4,103.3 543.0,149.2 614.8,190.0 561.0,133.9 557.1,103.3 561.6,150.5 534.5,127.5 485.3,89.3 594.0,190.0 589.0,108.4 535.8,156.8 557.4,103.3 510.3,133.9 523.2,156.8 584.6,150.5 612.7,188.7 434.6,126.2 530.4,190.0 581.0,110.9 403.4,181.0 590.6,86.7 526.0,100.7 611.4,104.6 555.5,135.2 442.8,126.2 618.9,103.3 597.3,149.2 481.7,95.7 411.8,156.8 531.9,126.2 489.4,156.8 489.3,126.2 412.3,126.2 500.4,95.7 602.0,88.0 580.6,102.0 436.1,156.8 603.6,88.0 561.9,80.4 403.1,126.2 596.0,150.5 537.3,150.5 585.8,84.2 548.2,85.5 558.2,149.2 443.1,126.2 510.2,126.2 621.6,156.8 550.4,151.7 527.9,126.2 523.9,147.9 577.0,126.2 627.3,156.8 439.4,149.2 534.3,135.2 607.7,188.7 574.7,149.2 566.7,150.5 607.5,190.0 619.7,181.0 577.9,109.7 574.7,104.6 587.0,160.6 484.7,126.2 596.1,103.3 574.4,135.2 443.8,155.6 575.8,156.8 592.9,149.2 580.9,150.5 606.9,156.8 549.8,182.3 566.7,183.6 517.6,186.1 525.1,141.5 463.8,126.2 592.8,102.0 563.7,86.7 521.6,95.7 563.9,182.3 527.4,86.7 561.7,103.3 566.5,188.7 524.2,125.0 502.2,95.7 574.7,89.3 571.7,156.8 427.1,126.2 594.9,118.6 587.7,125.0 599.7,182.3 487.0,141.5 553.3,156.8 534.5,125.0 516.1,140.3 540.1,85.5 501.2,190.0 535.7,133.9 406.0,141.5 402.6,141.5 543.4,156.8 589.0,125.0 560.6,103.3 568.9,156.8 586.2,127.5 578.0,127.5 617.6,156.8 437.9,156.8 603.9,88.0 546.6,161.9 439.3,126.2 524.5,109.7 618.0,88.0 538.2,128.8 543.5,141.5 519.4,95.7 596.8,86.7 600.9,182.3 574.8,85.5 603.6,89.3 521.1,190.0 602.7,95.7 551.1,190.0 601.2,89.3 539.0,150.5 571.5,85.5 556.8,88.0 533.3,153.0 494.4,141.5 597.3,110.9 576.2,151.7 551.4,127.5 570.4,156.8 582.1,158.1 524.3,85.5 558.9,128.8 594.2,103.3 567.2,181.0 595.9,190.0 588.7,150.5 584.6,149.2 590.0,104.6 602.0,126.2 562.5,156.8 531.6,164.5 483.4,126.2"/>
<polyline fill="none" stroke="none" marker-start="url(#r1)" marker-mid="url(#r1)" marker-end="url(#r1)" points="610.0,188.7 565.8,126.2 499.8,149.2 617.8,182.3 588.3,149.2 420.4,126.2 522.9,88.0 517.9,158.1 523.2,95.7 551.8,181.0 561.8,90.6 531.6,95.7 535.6,126.2 540.4,149.2 557.7,105.8 512.3,190.0 524.5,95.7 518.1,188.7 532.9,168.3 581.6,156.8 524.0,130.1 521.0,150.5 539.3,125.0 437.6,149.2 582.3,126.2 520.8,110.9 553.0,156.8 537.1,190.0 450.9,149.2 515.9,88.0 621.5,188.7 525.5,156.8 525.2,80.4 548.1,182.3 495.3,141.5 528.9,80.4 533.4,133.9 514.0,190.0 510.8,135.2 563.3,127.5 561.9,103.3 519.3,158.1 532.3,85.5 404.9,156.8 599.9,179.8 595.9,135.2 624.4,156.8 586.7,184.9 599.7,80.4 466.9,155.6 489.7,141.5 405.7,141.5 572.6,150.5 516.9,147.9 627.5,181.0 519.7,142.8 520.7,109.7 609.6,181.0 496.4,95.7 556.5,86.7 593.0,109.7 559.2,188.7 563.5,110.9 419.8,164.5 504.1,149.2 532.4,150.5 593.0,183.6 575.0,140.3 596.7,147.9 580.4,104.6 529.4,126.2 594.0,161.9 520.4,141.5 554.6,103.3 554.6,137.7 408.2,187.4 572.4,88.0 536.6,109.7 600.6,182.3 567.5,109.7 620.7,104.6 618.2,149.2 447.3,156.8 600.4,104.6 499.2,126.2 591.1,95.7 558.3,110.9 512.1,86.7 421.4,126.2 438.6,156.8 585.2,151.7 530.5,104.6 611.0,188.7 509.7,86.7 466.3,156.8 482.9,155.6 459.9,156.8 574.4,141.5 480.8,155.6 502.8,95.7 520.6,85.5 590.6,86.7 575.0,126.2 520.1,95.7 592.8,153.0 592.1,88.0 507.2,188.7 517.1,126.2 524.5,109.7 541.8,86.7 580.9,80.4 582.1,149.2 589.3,150.5 528.0,109.7 606.9,156.8 569.2,125.0 580.5,151.7 592.5,183.6 618.7,104.6 491.1,137.7 519.3,190.0 581.3,141.5 598.2,183.6 595.6,89.3 479.7,155.6 542.5,109.7 439.7,126.2 570.9,190.0 543.1,156.8 537.4,90.6 516.3,126.2 501.8,89.3 514.0,102.0 544.1,156.8 579.4,126.2 524.5,89.3 530.7,181.0 491.8,155.6 570.3,135.2 601.1,108.4 547.9,85.5 534.8,127.5 518.9,155.6 514.4,141.5 503.2,109.7 540.1,110.9 438.9,156.8 538.2,156.8 535.5,80.4 500.5,95.7 598.6,88.0 554.3,156.8 399.9,141.5 445.9,155.6 476.8,126.2 525.1,140.3 464.0,155.6 600.8,127.5 578.5,126.2 521.0,110.9 579.4,113.5 547.5,88.0 538.1,147.9 626.8,110.9 625.4,182.3 575.5,110.9 558.8,90.6 531.0,190.0 535.4,128.8 601.4,135.2 571.5,95.7 465.7,126.2 505.2,95.7 604.2,125.0 516.1,184.9 533.5,86.7 546.3,89.3 596.6,104.6 404.7,187.4 612.7,188.7 452.0,126.2 627.9,104.6 561.6,149.2 533.2,125.0 580.5,123.7 398.8,173.4 524.8,136.4 560.2,182.3 593.5,85.5 494.9,141.5 554.2,105.8 482.7,141.5 527.3,156.8 421.1,155.6 551.0,182.3 472.9,156.8 539.2,126.2 570.0,84.2 592.6,85.5 614.8,103.3 582.6,190.0 600.9,107.1 548.8,156.8 525.8,113.5 548.4,126.2 612.8,190.0 615.8,187.4 586.4,125.0 593.4,184.9 563.9,80.4 489.9,156.8 601.0,181.0 592.3,105.8 558.4,188.7 558.6,182.3 524.2,135.2 617.9,103.3 548.0,108.4 533.5,150.5 558.3,86.7 407.6,141.5 438.2,126.2 533.4,85.5 400.2,187.4 612.3,156.8 552.5,190.0 518.4,108.4 500.0,156.8 611.9,156.8 525.0,85.5 432.9,187.4 575.3,156.8 547.3,188.7 600.3,184.9 487.2,141.5 601.9,95.7 588.2,126.2 618.8,183.6 448.9,126.2 565.2,156.8 582.3,80.4 546.2,107.1 469.7,156.8 620.7,89.3 523.9,86.7 555.0,156.8 541.2,156.8 454.9,126.2 534.4,135.2 422.0,156.8 576.0,156.8 560.2,112.2 528.2,88.0 555.4,86.7 561.5,164.5 592.5,183.6 550.5,126.2 522.2,147.9 526.1,183.6 454.7,155.6 495.3,156.8 620.1,104.6 538.2,103.3 476.1,125.0 399.9,141.5 467.4,155.6 609.7,183.6 620.3,190.0 578.5,151.7 402.1,126.2 592.3,126.2 453.8,126.2 580.6,156.8 501.2,126.2 516.4,178.5 594.9,88.0 572.4,149.2 493.1,169.6 604.4,109.7 539.2,109.7 535.3,126.2 577.1,95.7 624.6,149.2 548.2,126.2 454.7,156.8 513.6,86.7 434.0,126.2 535.5,125.0 506.7,132.6 603.8,125.0 554.2,100.7 489.5,156.8 558.3,85.5 550.4,161.9 529.7,88.0 605.7,188.7 524.4,88.0"/>
<polyline fill="none" stroke="none" marker-start="url(#r1)" marker-mid="url(#r1)" marker-end="url(#r1)" points="603.9,103.3 523.2,140.3 611.7,156.8 456.1,126.2 573.7,91.8 592.1,85.5 420.0,126.2 530.2,190.0 399.5,141.5 535.5,164.5 556.7,186.1 541.3,136.4 563.2,127.5 422.1,141.5 482.7,141.5 541.8,125.0 499.7,89.3 518.2,126.2 579.6,126.2 616.3,156.8 489.5,126.2 564.4,95.7 610.1,88.0 554.7,182.3 541.9,86.7 500.8,147.9 540.0,133.9 563.4,104.6 559.0,151.7 482.6,156.8 588.0,156.8 596.3,183.6 609.6,190.0 520.3,156.8 564.3,190.0 524.6,85.5 512.8,85.5 584.1,150.5 511.6,133.9 521.7,126.2 563.8,147.9 583.7,156.8 549.6,156.8 535.9,88.0 486.9,149.2 556.2,104.6 569.0,127.5 572.1,84.2 553.3,90.6 539.1,86.7 606.7,190.0 589.9,149.2 566.8,125.0 569.1,125.0 528.6,151.7 505.6,89.3 625.1,186.1 593.2,183.6 574.5,141.5 476.9,149.2 405.3,126.2 583.3,88.0 580.0,151.7 586.4,88.0 410.1,187.4 599.4,183.6 591.0,156.8 554.8,156.8 439.0,156.8 508.1,110.9 484.3,133.9 555.5,149.2 554.9,156.8 551.5,118.6 558.5,156.8 623.9,188.7 576.0,108.4 589.0,136.4 546.5,84.2 601.3,103.3 496.3,164.5 539.4,89.3 559.6,181.0 555.7,100.7 602.7,125.0 409.2,156.8 491.5,126.2 400.3,156.8 594.4,151.7 482.2,141.5 466.0,126.2 502.3,95.7 566.8,181.0 501.5,149.2 506.7,190.0 433.3,126.2 582.6,154.3 549.8,105.8 602.9,188.7 530.5,190.0 487.7,155.6 536.1,150.5 619.2,156.8 434.2,141.5 536.2,85.5 468.6,126.2 584.5,156.8 543.0,84.2 491.4,155.6 563.7,125.0 524.2,126.2 555.4,156.8 593.9,88.0 453.3,156.8 435.6,133.9 500.1,156.8 511.7,190.0 550.7,125.0 559.5,183.6 551.7,190.0 582.8,88.0 528.1,182.3 573.7,95.7 588.9,104.6 497.5,102.0 500.1,190.0 521.2,86.7 608.0,108.4 552.4,147.9 603.8,190.0 581.0,135.2 608.1,182.3 607.3,190.0 593.4,156.8 502.6,95.7 442.1,126.2 479.8,141.5 598.5,126.2 550.4,183.6 617.1,190.0 553.2,103.3 555.8,182.3 572.2,80.4 482.1,85.5 591.3,103.3 547.0,149.2 567.6,150.5 519.0,155.6 574.6,150.5 543.7,190.0 526.3,104.6 547.4,184.9 415.9,182.3 561.8,84.2 519.4,133.9 520.8,80.4 492.7,156.8 570.5,88.0 612.6,103.3 537.9,110.9 598.0,88.0 562.0,95.7 628.3,156.8 617.8,184.9 487.2,188.7 509.3,156.8 566.6,88.0 487.6,126.2 428.5,155.6 509.8,89.3 544.0,86.7 606.2,122.4 569.2,147.9 603.9,156.8 522.9,140.3 622.7,181.0 567.7,188.7 536.1,80.4 567.2,164.5 501.2,108.4 609.2,183.6 405.2,187.4 618.0,156.8 584.2,149.2 570.1,85.5 539.7,156.8 518.5,133.9 626.5,104.6 555.9,156.8 554.7,150.5 581.9,133.9 547.5,182.3 433.0,156.8 545.3,85.5 418.2,156.8 403.6,156.8 622.7,156.8 510.8,88.0 523.4,84.2 516.6,102.0 567.6,122.4 624.1,182.3 473.2,156.8 598.1,109.7 569.7,141.5 529.8,95.7 548.6,86.7 540.7,132.6 596.1,136.4 601.4,85.5 574.0,135.2 620.2,190.0 398.2,126.2 521.0,104.6 620.8,190.0 581.6,86.7 519.4,95.7 445.0,156.8 482.1,80.4 524.5,103.3 412.2,125.0 602.1,89.3 535.7,86.7 628.9,103.3 572.7,102.0 538.5,104.6 540.2,149.2 542.1,190.0 545.6,85.5 572.9,150.5 601.9,104.6 539.9,156.8 525.6,190.0 541.6,156.8 421.8,156.8 510.5,126.2 431.6,156.8 532.8,150.5 526.3,88.0 532.0,190.0 524.9,109.7 521.9,109.7 539.3,126.2 537.5,133.9 522.5,149.2 505.1,182.3 478.5,128.8 567.5,182.3 556.3,82.9 597.0,156.8 580.4,88.0 562.7,125.0 567.5,156.8 564.5,80.4 596.1,150.5 521.4,141.5 505.0,90.6 426.3,141.5 573.4,137.7 575.9,151.7 411.6,156.8 497.1,164.5 564.3,104.6 542.6,110.9 597.6,103.3 597.5,122.4 545.0,95.7 521.5,147.9 521.9,126.2 615.3,104.6 433.0,156.8 574.8,128.8 596.1,103.3 514.9,190.0 527.3,149.2 565.7,108.4 608.7,190.0 591.3,85.5 481.4,141.5 620.5,156.8 565.9,135.2 530.6,156.8 513.1,146.6 605.9,103.3 473.1,126.2 597.1,150.5 433.9,173.4 490.4,141.5 574.5,147.9 525.7,184.9 559.0,104.6 572.7,164.5 606.3,103.3 528.3,183.6 505.4,155.6 536.7,123.7 536.8,126.2"/>
<polyline fill="none" stroke="none" marker-start="url(#r1)" marker-mid="url(#r1)" marker-end="url(#r1)" points="560.3,104.6 519.3,126.2 420.6,173.4 520.2,190.0 593.5,153.0 547.4,105.8 564.2,86.7 516.7,156.8 523.8,95.7 506.6,149.2 542.2,190.0 582.0,88.0 506.1,103.3 619.5,191.2 607.5,188.7 586.6,184.9 543.3,156.8 520.7,90.6 581.5,156.8 559.5,156.8 602.6,156.8 538.7,161.9 512.3,88.0 518.1,156.8 570.1,125.0 583.9,80.4 561.3,156.8 514.9,141.5 562.5,141.5 574.8,109.7 585.3,184.9 534.9,151.7 565.3,85.5 601.5,86.7 572.1,150.5 594.9,127.5 570.3,103.3 484.6,133.9 522.7,88.0 590.8,123.7 497.5,190.0 534.0,116.0 535.5,126.2 596.0,103.3 507.1,126.2 557.6,89.3 478.5,141.5 567.9,156.8 556.5,137.7 540.0,164.5 457.5,156.8 436.8,156.8 541.4,156.8 435.6,187.4 526.4,102.0 565.5,126.2 613.1,88.0 498.1,188.7 605.8,190.0 510.6,190.0 594.6,126.2 569.7,190.0 594.6,88.0 569.8,89.3 481.9,95.7 484.4,179.8 592.6,86.7 538.6,86.7 530.2,127.5 597.1,104.6 523.0,80.4 563.4,183.6 613.3,183.6 618.5,104.6 626.7,182.3 495.1,155.6 521.1,150.5 597.0,136.4 418.7,156.8 599.2,86.7 516.5,133.9 588.7,105.8 542.5,104.6 521.7,108.4 582.0,149.2 485.2,126.2 559.6,103.3 529.9,103.3 557.8,86.7 424.7,141.5 529.9,127.5 547.7,156.8 525.6,86.7 513.0,190.0 619.5,150.5 562.6,109.7 570.6,103.3 433.9,141.5 523.5,88.0 586.9,149.2 606.7,127.5 527.6,135.2 565.5,86.7 555.1,173.4 570.0,89.3 539.8,86.7 592.2,88.0 502.2,90.6 627.5,156.8 552.2,156.8 570.8,126.2 594.4,135.2 556.9,109.7 575.9,110.9 577.8,149.2 576.2,126.2 583.6,88.0 567.7,182.3 560.5,126.2 568.1,140.3 416.9,156.8 568.4,82.9 467.9,125.0 593.3,110.9 619.4,183.6 531.3,86.7 504.6,126.2 585.4,89.3 590.5,126.2 411.7,156.8 556.4,88.0 587.1,90.6 544.4,95.7 577.1,136.4 576.3,164.5 434.3,156.8 564.8,109.7 532.6,80.4 612.5,156.8 539.3,188.7 523.2,103.3 554.0,156.8 496.2,110.9 560.6,80.4 586.2,86.7 593.2,182.3 587.4,102.0 596.9,110.9 411.9,155.6 591.9,149.2 567.4,126.2 529.9,126.2 567.6,156.8 520.9,135.2 516.0,184.9 516.6,150.5 598.2,150.5 404.4,181.0 591.3,89.3 585.2,85.5 524.2,132.6 560.9,95.7 502.9,109.7 601.1,188.7 524.0,133.9 486.4,187.4 544.8,150.5 563.5,103.3 435.6,126.2 608.5,190.0 583.8,190.0 520.5,156.8 539.5,156.8 470.0,126.2 583.9,147.9 403.5,126.2 554.0,184.9 499.6,190.0 548.9,88.0 612.0,104.6 591.9,126.2 539.4,103.3 540.2,127.5 572.2,86.7 531.9,190.0 518.5,190.0 531.8,104.6 484.5,178.5 560.9,86.7 578.3,104.6 440.6,164.5 565.8,86.7 501.0,109.7 452.2,156.8 560.7,141.5 530.4,147.9 520.7,156.8 551.3,126.2 589.7,135.2 534.2,156.8 586.9,182.3 571.8,110.9 547.8,103.3 593.2,158.1 583.6,135.2 542.2,149.2 454.9,156.8 551.1,156.8 621.8,183.6 606.0,127.5 579.9,95.7 519.8,80.4 524.3,156.8 621.3,104.6 599.0,184.9 487.7,141.5 529.1,151.7 560.6,163.2 496.4,187.4 546.3,126.2 622.0,104.6 443.5,137.7 609.3,182.3 571.5,156.8 532.1,79.1 604.9,150.5 474.1,127.5 531.3,156.8 493.5,141.5 541.2,109.7 626.5,108.4 595.0,150.5 591.4,112.2 576.7,84.2 599.2,156.8 531.5,156.8 603.1,112.2 538.4,125.0 614.6,104.6 565.8,135.2 478.3,126.2 550.4,104.6 615.3,188.7 519.9,95.7 467.6,126.2 558.1,125.0 540.0,86.7 530.0,156.8 609.4,188.7 581.4,86.7 579.9,89.3 559.5,102.0 412.6,141.5 522.3,190.0 574.9,104.6 595.8,181.0 571.9,141.5 571.3,140.3 550.9,109.7 558.3,107.1 486.2,188.7 536.6,109.7 479.1,155.6 525.3,86.7 608.6,190.0 618.1,104.6 541.6,127.5 626.3,103.3 563.6,86.7 592.8,102.0 521.6,190.0 610.9,88.0 603.4,125.0 605.1,125.0 588.3,108.4 548.0,158.1 533.3,156.8 524.3,103.3 487.4,183.6 528.1,95.7 444.9,126.2 603.6,104.6 604.8,156.8 521.2,86.7 517.0,190.0 578.9,90.6 534.8,104.6 604.4,156.8 475.3,125.0 582.8,90.6 558.2,86.7 568.0,123.7 483.6,141.5 575.5,88.0"/>
<polyline fill="none" stroke="none" marker-start="url(#b1)" marker-mid="url(#b1)" marker-end="url(#b1)" points="616.3,183.6 620.5,183.6 615.5,182.3"/>
<polyline fill="none" stroke="none" marker-start="url(#r1)" marker-mid="url(#r1)" marker-end="url(#r1)" points="582.3,80.4 445.8,126.2 588.6,126.2 403.6,181.0 545.6,107.1 571.4,95.7 570.8,103.3 553.8,86.7 480.9,123.7 564.6,150.5 527.4,85.5 577.6,80.4 459.5,187.4 604.3,123.7 626.1,108.4 550.8,109.7 576.0,102.0 548.8,126.2 600.4,80.4 496.0,184.9 398.7,141.5 471.8,156.8 520.4,135.2 579.2,141.5 544.8,86.7 542.6,156.8 522.1,80.4 612.8,86.7 400.0,126.2 514.1,126.2 622.8,182.3 548.8,86.7 449.9,126.2 547.8,108.4 573.8,105.8 625.0,104.6 554.3,103.3 627.6,183.6 435.3,141.5 495.4,126.2 517.1,109.7 580.7,123.7 532.3,112.2 571.3,110.9 514.9,104.6 418.4,126.2 577.2,95.7 582.5,164.5 563.8,80.4 523.3,150.5 521.3,109.7 447.2,141.5 628.2,182.3 587.4,85.5 522.5,182.3 558.3,149.2 447.2,187.4 571.3,135.2 424.5,187.4 441.6,156.8 420.6,126.2 590.5,103.3 552.9,153.0 467.3,133.9 560.3,127.5 583.3,149.2 599.3,85.5 559.2,160.6 457.6,156.8 610.8,183.6 548.9,108.4 521.9,141.5 619.1,86.7 547.5,127.5 525.8,126.2 593.2,161.9 497.0,84.2 552.8,89.3 403.3,187.4 400.0,156.8 588.2,85.5 557.7,183.6 530.6,156.8 522.1,140.3 416.9,156.8 486.4,181.0 530.5,85.5 508.2,89.3 520.4,133.9 525.7,188.7 564.7,135.2 576.6,142.8 530.0,156.8 559.0,188.7 482.7,156.8 579.4,126.2 600.4,110.9 616.6,150.5 542.4,95.7 547.0,100.7 413.5,187.4 551.3,104.6 521.4,125.0 531.6,126.2 575.0,126.2 533.0,80.4 403.3,156.8 495.6,95.7 557.2,156.8 544.1,90.6 568.7,103.3 560.0,135.2 627.6,104.6 507.5,110.9 533.5,126.2 504.2,89.3 527.7,188.7 567.2,141.5 544.1,188.7 522.0,86.7 612.4,182.3 537.4,156.8 564.0,85.5 524.2,125.0 558.7,181.0 555.8,104.6 493.9,156.8 550.5,104.6 605.1,156.8 564.8,95.7 561.3,103.3 609.9,188.7 558.9,123.7 572.2,103.3 624.2,156.8 525.9,190.0 538.0,85.5 524.4,89.3 601.5,108.4 551.6,188.7 595.3,156.8 586.2,89.3 533.0,161.9 582.4,80.4 432.9,182.3 626.0,103.3 436.1,141.5 473.1,128.8 613.1,88.0 502.2,141.5 552.0,182.3 542.1,190.0 508.8,89.3 537.4,127.5 626.0,156.8 606.9,123.7 567.3,150.5 519.7,114.8 614.0,104.6 408.4,156.8 540.0,93.1 594.1,89.3 523.8,126.2 611.5,156.8 535.2,89.3 559.7,86.7 566.4,149.2 532.7,125.0 523.4,155.6 463.0,126.2 545.1,89.3 581.5,190.0 603.3,190.0 567.3,184.9 412.8,126.2 561.1,126.2 594.7,104.6 525.8,126.2 409.7,155.6 588.7,164.5 513.5,126.2 591.3,112.2 503.0,89.3 579.9,85.5 406.1,156.8 575.9,149.2 609.3,183.6 583.8,105.8 580.1,156.8 578.7,163.2 528.8,156.8 524.5,85.5 485.8,126.2 604.9,140.3 620.8,188.7 526.5,156.8 536.2,164.5 573.1,160.6 533.1,156.8 559.1,149.2 406.6,149.2 592.0,88.0 527.0,95.7 592.7,126.2 520.1,86.7 544.7,190.0 482.5,126.2 490.9,156.8 584.3,84.2 559.9,188.7 533.6,141.5 411.3,187.4 509.4,89.3 589.1,85.5 536.5,103.3 588.7,85.5 518.3,108.4 526.1,150.5 470.3,126.2 511.4,149.2 524.7,103.3 593.2,88.0 612.7,103.3 559.1,89.3 517.1,142.8 600.6,130.1 505.3,155.6 581.5,150.5 558.9,183.6 578.8,161.9 517.6,190.0 563.2,110.9 499.9,155.6 527.2,149.2 597.3,125.0 607.4,108.4 527.7,149.2 594.8,156.8 400.2,141.5 547.8,88.0 547.6,85.5 564.3,103.3 579.3,160.6 406.2,126.2 571.3,80.4 531.3,190.0 579.5,126.2 485.6,187.4 590.7,183.6 579.3,86.7 547.4,107.1 584.9,184.9 497.5,178.5 584.5,127.5 545.9,188.7 575.4,161.9 521.5,141.5 535.1,150.5 611.6,104.6 557.9,135.2 501.6,109.7 538.4,104.6 550.8,126.2 521.1,104.6 505.4,133.9 529.4,183.6 506.8,156.8 407.6,149.2 540.0,190.0 563.4,150.5 510.0,190.0 562.6,147.9 578.1,135.2 535.9,156.8 602.9,158.1 513.6,149.2 523.2,84.2 420.2,155.6 618.2,85.5 570.7,149.2 628.1,156.8 529.8,109.7 578.9,156.8 620.3,156.8 543.4,150.5 565.8,86.7 542.1,107.1 479.7,141.5 568.5,95.7 618.6,95.7"/>
<polyline fill="none" stroke="none" marker-start="url(#b1)" marker-mid="url(#b1)" marker-end="url(#b1)" points="621.8,190.0 629.5,195.1 620.2,182.3 614.8,182.3 611.7,190.0 614.9,182.3 624.4,182.3"/>
<polyline fill="none" stroke="none" marker-start="url(#r1)" marker-mid="url(#r1)" marker-end="url(#r1)" points="559.7,160.6 621.5,183.6 543.7,163.2 532.6,112.2 586.3,107.1 558.0,107.1 550.8,90.6 581.1,80.4 412.3,164.5 416.6,155.6 543.4,123.7 555.8,80.4 625.5,190.0 624.9,186.1 532.9,80.4 572.3,86.7 536.8,103.3 574.7,149.2 604.5,188.7 404.4,155.6 611.2,104.6 571.2,104.6 618.1,88.0 585.0,88.0 568.2,156.8 597.8,109.7 447.8,156.8 511.2,147.9 550.5,156.8 597.2,103.3 593.3,126.2 627.4,188.7 480.0,125.0 522.6,150.5 544.5,95.7 546.1,126.2 449.3,133.9 534.1,89.3 569.0,81.6 423.3,164.5 551.7,126.2 615.1,103.3 512.7,190.0 578.8,102.0 546.0,190.0 587.5,153.0 618.4,190.0 533.0,141.5 557.8,95.7 603.4,125.0 600.0,109.7 466.3,141.5 610.2,183.6 550.6,110.9 625.8,156.8 581.9,89.3 556.5,132.6 583.2,118.6 426.8,141.5 604.3,95.7 562.0,188.7 449.8,156.8 527.9,95.7 541.9,102.0 625.1,109.7 521.1,188.7 448.8,126.2 587.2,127.5 546.6,105.8 572.0,188.7 551.5,119.9 599.6,142.8 459.0,126.2 478.2,125.0 620.5,190.0 534.3,133.9 561.4,151.7 575.5,126.2 457.5,126.2 582.9,149.2 507.5,190.0 580.4,126.2 613.9,88.0 502.4,126.2 425.5,155.6 547.1,184.9 488.6,158.1 624.5,156.8 612.4,187.4 526.8,125.0 544.5,161.9 575.0,156.8 496.1,155.6 563.5,85.5 577.3,164.5 557.3,135.2 564.2,149.2 543.8,149.2 552.9,84.2 610.5,156.8 505.1,126.2 403.5,126.2 548.9,91.8 507.6,190.0 439.9,149.2 549.4,104.6 508.2,190.0 547.6,156.8 590.8,151.7 614.9,183.6 558.9,181.0 499.7,187.4 573.5,156.8 563.6,125.0 614.8,150.5 567.3,104.6 454.3,156.8 592.4,88.0 611.2,190.0 621.2,103.3 597.1,89.3 594.2,147.9 535.9,126.2 522.2,190.0 597.4,153.0 560.5,141.5 533.7,149.2 581.1,108.4 530.9,95.7 482.6,126.2 574.6,105.8 590.8,86.7 567.2,190.0 503.3,149.2 614.0,182.3 517.9,149.2 549.9,150.5 598.8,133.9 521.4,156.8 512.6,86.7 590.2,164.5 623.0,188.7 519.7,156.8 477.3,126.2 539.6,156.8 580.2,126.2 576.4,95.7 576.2,123.7 625.9,181.0 462.1,156.8 461.4,173.4 525.4,108.4 406.4,173.4 568.3,89.3 591.3,188.7 571.9,108.4 511.8,135.2 576.5,128.8 495.9,141.5 608.9,109.7 560.5,95.7 485.5,184.9 603.9,190.0 529.9,80.4 561.5,123.7 597.3,103.3 555.1,80.4 566.4,95.7 544.2,84.2 449.8,156.8 514.1,100.7 610.0,156.8 519.0,150.5 610.1,156.8 568.1,85.5 592.8,86.7 467.9,156.8 579.8,105.8 598.7,80.4 528.7,117.3 602.5,104.6 584.7,156.8 551.7,86.7 489.0,126.2 588.0,126.2 589.5,84.2 621.8,183.6 597.4,86.7 585.8,156.8 520.6,107.1 593.2,105.8 622.4,156.8 544.5,89.3 543.5,80.4 569.6,109.7 564.5,88.0 589.0,156.8 587.8,109.7 538.8,150.5 417.1,155.6 584.5,104.6 553.4,156.8 587.6,86.7 612.9,188.7 567.6,141.5 558.1,95.7 530.7,164.5 397.9,155.6 544.2,127.5 578.7,141.5 576.6,156.8 617.1,156.8 599.3,80.4 558.9,156.8 411.2,187.4 591.8,188.7 515.1,156.8 609.9,156.8 568.9,156.8 531.7,126.2 566.2,108.4 522.0,126.2 595.3,103.3 485.1,186.1 580.9,135.2 611.2,131.3 524.1,109.7 399.8,155.6 511.9,156.8 571.0,150.5 577.3,104.6 546.1,149.2 452.0,164.5 572.2,85.5 425.6,156.8 424.1,155.6 627.6,164.5 581.4,144.1 565.8,126.2 407.3,141.5 533.7,156.8 558.7,150.5 574.2,126.2 469.0,173.4 592.2,142.8 522.4,156.8 495.9,95.7 602.0,156.8 406.5,161.9 516.1,155.6 526.5,105.8 595.6,128.8 562.9,156.8 530.9,86.7 553.3,123.7 405.6,141.5 573.1,150.5 582.6,147.9 565.8,153.0 532.0,126.2 402.8,133.9 575.6,127.5 591.6,190.0 595.6,85.5 492.7,133.9 594.9,88.0 536.4,156.8 476.1,127.5 556.8,156.8 412.0,187.4 604.6,190.0 572.0,105.8 574.4,149.2 606.7,109.7 527.1,90.6 509.4,147.9 496.1,95.7 455.4,156.8 459.1,126.2 501.1,156.8 456.2,126.2 439.3,126.2"/>
<polyline fill="none" stroke="none" marker-start="url(#b1)" marker-mid="url(#b1)" marker-end="url(#b1)" points="612.7,182.3 618.5,182.3 569.8,182.3 569.1,182.3 617.6,179.8 617.1,183.6 611.9,182.3 627.6,190.0 618.3,182.3 582.1,182.3 616.5,182.3 621.4,182.3 607.8,167.0 612.2,183.6 618.1,182.3"/>
<path d="M397.5 217.8C401.0 217.7 412.3 217.6 418.3 217.0C424.3 216.4 428.4 215.5 433.4 214.2C438.4 212.9 443.4 211.3 448.4 209.2C453.4 207.1 458.5 204.2 463.5 201.6C468.5 199.0 474.0 196.2 478.6 193.6C483.2 191.0 487.7 188.5 491.3 186.0C494.9 183.5 497.2 181.3 500.4 178.5C503.6 175.7 507.3 172.5 510.7 169.3C514.1 166.1 517.5 162.8 520.9 159.5C524.3 156.2 527.7 152.8 531.1 149.3C534.5 145.8 537.9 142.2 541.3 138.7C544.7 135.2 548.1 131.9 551.5 128.5C554.9 125.1 558.3 121.5 561.7 118.2C565.1 114.9 568.6 111.6 572.0 108.4C575.4 105.2 578.8 102.0 582.2 98.8C585.6 95.6 589.0 92.3 592.4 89.2C595.8 86.1 599.7 82.9 602.6 80.4C605.5 77.9 606.4 77.5 609.9 74.3C613.4 71.1 619.5 65.3 623.5 61.5C627.5 57.7 632.1 53.2 633.8 51.5" fill="none" stroke="#454545" stroke-width="1.5" stroke-linejoin="round"/>
<path d="M633.8 51.5 L635.8 62.5" fill="none" stroke="#2a2a2a" stroke-width="1.5"/>
<circle cx="397.5" cy="217.8" r="1.75" fill="#000"/>
<circle cx="491.3" cy="186.0" r="1.75" fill="#000"/>
<circle cx="609.9" cy="74.3" r="1.75" fill="#000"/>
<circle cx="633.8" cy="51.5" r="1.75" fill="#000"/>
<circle cx="635.8" cy="62.5" r="1.75" fill="#000"/>
<g stroke="#333" stroke-width="1.15" fill="none">
<path d="M397.5 9.1 V217.8 H651.5 V9.1"/>
<path d="M397.5 217.8h-4.0M397.5 191.7h-2.2M397.5 165.6h-4.0M397.5 139.5h-2.2M397.5 113.4h-4.0M397.5 87.3h-2.2M397.5 61.2h-4.0M397.5 35.1h-2.2M397.5 9.0h-4.0M651.5 217.8h4.0M651.5 202.9h2.2M651.5 188.0h4.0M651.5 173.1h2.2M651.5 158.2h4.0M651.5 143.3h2.2M651.5 128.4h4.0M651.5 113.5h2.2M651.5 98.6h4.0M651.5 83.7h2.2M651.5 68.8h4.0M651.5 53.9h2.2M651.5 39.0h4.0M651.5 24.1h2.2M651.5 9.2h4.0M397.5 217.8v4.0M423.9 217.8v2.2M450.4 217.8v4.0M476.9 217.8v2.2M503.3 217.8v4.0M529.8 217.8v2.2M556.2 217.8v4.0M582.6 217.8v2.2M609.1 217.8v4.0M635.5 217.8v2.2"/>
</g>
<g font-size="11.5">
<text transform="translate(391.2 221.7) scale(.93 1)" text-anchor="end">0</text>
<text transform="translate(391.2 169.5) scale(.93 1)" text-anchor="end">40</text>
<text transform="translate(391.2 117.3) scale(.93 1)" text-anchor="end">80</text>
<text transform="translate(391.2 65.1) scale(.93 1)" text-anchor="end">120</text>
<text transform="translate(391.2 12.9) scale(.93 1)" text-anchor="end">160</text>
<text transform="translate(658.2 221.7) scale(.93 1)">0</text>
<text transform="translate(658.2 191.9) scale(.93 1)">20</text>
<text transform="translate(658.2 162.1) scale(.93 1)">40</text>
<text transform="translate(658.2 132.3) scale(.93 1)">60</text>
<text transform="translate(658.2 102.5) scale(.93 1)">80</text>
<text transform="translate(658.2 72.7) scale(.93 1)">100</text>
<text transform="translate(658.2 42.9) scale(.93 1)">120</text>
<text transform="translate(658.2 13.1) scale(.93 1)">140</text>
<text transform="translate(397.5 233.1) scale(.93 1)" text-anchor="middle">0</text>
<text transform="translate(450.4 233.1) scale(.93 1)" text-anchor="middle">50</text>
<text transform="translate(503.3 233.1) scale(.93 1)" text-anchor="middle">100</text>
<text transform="translate(556.2 233.1) scale(.93 1)" text-anchor="middle">150</text>
<text transform="translate(609.1 233.1) scale(.93 1)" text-anchor="middle">200</text>
</g>
<text x="524.5" y="248.8" font-size="11" text-anchor="middle">Time/s</text>
<text transform="translate(369.5 113.5) rotate(-90)" font-size="11" text-anchor="middle">Peak frequency/kHz</text>
<text transform="translate(682.5 113.5) rotate(-90)" font-size="11" text-anchor="middle">Stress/MPa</text>
<rect x="415.2" y="13.4" width="48.4" height="15.3" fill="#0d31fb"/>
<rect x="463.6" y="13.4" width="48.4" height="15.3" fill="#fd0a1a"/>
<text x="463.6" y="10.2" font-size="11" text-anchor="middle">Amplitude/dB</text>
<g font-size="10" text-anchor="middle"><text x="415.6" y="37.1">90.0</text><text x="464.0" y="37.1">75.0</text><text x="512.4" y="37.1">60.0</text></g>
<line x1="528.1" y1="19.8" x2="552.6" y2="19.8" stroke="#454545" stroke-width="1.5"/>
<text x="556.1" y="23.5" font-size="11">Stress</text>
<g font-size="14.6">
<text transform="translate(400.8 214.8) scale(.89 1)">O</text>
<text transform="translate(488.2 203.2) scale(.89 1)">A</text>
<text transform="translate(599.2 74.7) scale(.89 1)">B</text>
<text transform="translate(621.8 49.2) scale(.89 1)">C</text>
<text transform="translate(636.1 75.2) scale(.89 1)">D</text>
<text transform="translate(635.8 111.2) scale(.89 1)" font-size="12.2">HF</text>
<text transform="translate(638.3 163.5) scale(.89 1)" font-size="12.2">IF</text>
<text transform="translate(636.5 213.5) scale(.89 1)" font-size="12.2">LF</text>
</g>
<text x="524.0" y="274.5" font-size="19.8" text-anchor="middle">(b) FT-10</text>
</g>
<g>
<rect x="37.2" y="375.9" width="258.2" height="53.2" fill="#adf39f"/>
<rect x="37.2" y="429.1" width="258.2" height="53.2" fill="#f5bea7"/>
<rect x="37.2" y="482.3" width="258.2" height="52.7" fill="#a5cff8"/>
<path d="M37.2 375.9H295.4M37.2 429.1H295.4M37.2 482.3H295.4" stroke="#6a90d8" stroke-width="1.0" fill="none"/>
<polyline fill="none" stroke="none" marker-start="url(#r2)" marker-mid="url(#r2)" marker-end="url(#r2)" points="231.7,454.7 105.6,485.9 226.4,404.1 190.6,489.8 80.0,440.4 52.2,437.8 109.2,472.9 201.6,489.8 249.0,395.0 91.4,463.8 222.0,496.3 203.0,502.8 259.4,404.1 158.2,489.8 140.1,410.6 156.0,472.9 76.7,456.0 238.9,405.4 174.6,488.5 255.9,457.3 226.7,417.1 115.6,488.5 177.2,457.3 234.1,402.8 254.0,478.1 153.2,472.9 168.6,489.8 121.6,487.2 260.6,423.5 225.3,401.5 243.8,410.6 250.9,404.1 130.1,487.2 98.2,439.1 234.8,472.9 208.7,401.5 61.3,472.9 96.5,489.8 214.4,472.9 88.3,472.9 200.0,472.9 40.6,485.9 147.6,422.2 57.3,485.9 100.9,485.9 251.4,457.3 79.6,485.9 259.4,410.6 175.0,404.1 231.5,424.8 108.6,437.8 97.9,440.4 255.2,439.1 176.3,488.5 264.7,404.1 252.4,480.7 168.2,405.4 257.0,410.6 120.9,437.8 170.4,410.6 167.3,410.6 76.6,472.9 100.7,436.5 173.9,423.5 233.6,439.1 47.2,485.9 177.0,485.9 97.8,472.9 222.1,404.1 270.8,472.9 175.6,485.9 233.0,410.6 38.3,472.9 210.4,402.8 162.6,436.5 254.0,436.5 273.3,437.8 63.9,472.9 77.8,462.5 223.8,437.8 132.7,488.5 155.8,472.9 226.4,457.3 61.6,472.9 66.3,487.2 47.8,487.2 187.7,410.6 203.6,472.9 40.9,478.1 254.8,418.4 120.6,488.5 185.6,487.2 180.6,419.6 185.7,436.5 218.9,439.1 222.1,488.5 250.5,417.1 229.2,472.9 96.0,484.6 240.6,437.8 204.5,401.5 237.9,493.7 236.1,426.1 184.3,457.3 223.3,437.8 218.8,488.5 133.1,457.3 205.0,436.5 213.6,400.2 125.7,487.2 206.2,487.2 216.8,402.8 252.5,437.8 133.4,487.2 154.6,401.5 165.3,405.4 272.3,463.8 189.7,439.1 122.5,436.5 232.4,415.8 202.7,426.1 134.4,417.1 254.6,476.8 193.7,487.2 224.4,410.6 88.5,454.7 267.5,448.2 188.3,400.2 76.4,488.5 109.0,484.6 242.5,402.8 61.0,437.8 132.0,472.9 263.5,472.9 163.0,402.8 128.1,487.2 239.0,426.1 50.3,472.9 39.2,456.0 270.7,402.8 159.9,476.8 221.0,401.5 88.3,440.4 226.4,472.9 194.4,472.9 183.8,457.3 94.3,483.3 119.9,437.8 149.2,472.9 106.7,480.7 263.4,472.9 162.6,485.9 235.7,437.8 219.6,495.0 151.5,457.3 162.1,457.3 245.3,402.8 154.9,472.9 158.1,424.8 61.3,453.4 265.4,457.3 80.2,493.7 58.3,488.5 41.0,440.4 163.2,485.9 196.8,466.4 75.9,457.3 60.7,456.0 87.0,439.1 185.1,472.9 159.4,440.4 64.9,472.9 207.4,410.6 181.5,472.9 227.7,426.1 249.9,457.3 107.4,508.0 196.2,457.3 154.4,472.9 231.8,417.1 65.1,437.8 187.1,485.9 252.1,404.1 151.8,439.1 218.3,472.9 195.4,437.8 201.0,485.9 212.5,436.5 139.7,457.3 210.5,426.1 223.9,401.5 46.9,472.9 154.7,487.2 207.1,439.1 190.0,472.9 189.8,423.5 166.7,410.6 199.5,414.5 266.8,457.3 223.2,487.2 164.2,400.2 197.5,395.0 176.8,472.9 242.1,472.9 113.3,487.2 83.5,472.9 159.6,401.5 124.2,463.8 69.2,487.2 180.4,489.8 172.1,437.8 242.5,402.8 174.5,485.9 197.4,496.3 195.0,472.9 159.5,476.8 249.5,457.3 174.6,437.8 246.1,395.0 84.1,439.1 173.9,465.1 178.0,395.0 90.8,487.2 168.0,487.2 230.7,401.5 162.3,487.2 106.7,472.9 50.4,485.9 177.8,439.1 207.2,448.2 64.3,487.2 113.9,488.5 254.0,402.8 196.5,496.3 171.3,410.6 92.3,472.9 142.0,410.6 172.6,472.9 118.8,472.9 254.3,402.8 101.3,462.5 136.4,487.2 190.8,439.1 157.4,485.9 69.9,457.3 250.6,404.1 264.2,423.5 200.0,410.6 173.4,408.0 150.7,457.3 139.2,488.5 227.0,417.1 264.0,401.5 229.3,485.9 124.7,472.9 204.5,489.8 157.4,489.8 236.1,436.5 264.1,401.5 128.0,463.8 237.4,401.5 200.2,487.2 39.8,485.9 167.4,472.9 90.9,440.4 254.9,402.8 174.7,440.4 195.9,400.2 222.4,436.5 63.5,488.5 211.3,472.9 186.9,457.3 123.2,489.8 268.9,437.8 51.7,489.8 88.4,465.1 198.0,410.6 167.6,489.8 233.0,424.8 263.0,457.3 194.4,405.4 87.3,487.2 162.8,472.9 72.5,489.8 154.1,404.1 107.6,472.9 255.6,457.3 169.1,402.8 187.5,437.8 173.5,472.9 167.7,410.6 219.1,487.2 138.5,489.8 191.2,472.9 261.3,457.3 229.7,418.4 173.2,418.4 244.3,410.6 196.0,439.1 171.1,405.4 151.3,457.3 267.3,439.1 228.4,489.8 227.6,472.9 161.1,426.1 260.8,395.0 242.1,404.1 182.4,457.3 204.3,437.8 39.6,491.1 154.3,488.5 76.2,472.9 117.8,480.7 91.7,484.6 197.3,495.0 96.0,472.9 137.9,439.1 183.0,404.1 189.8,472.9 249.5,395.0 187.2,439.1 206.0,404.1 268.5,463.8 162.8,410.6 266.9,410.6 251.4,472.9 143.8,424.8 263.4,404.1 269.4,401.5 210.2,423.5 136.2,498.9 170.3,404.1 126.8,493.7 68.1,488.5 168.6,457.3 169.4,487.2 207.0,488.5 198.4,439.1 81.2,476.8 229.6,437.8 249.9,493.7 261.1,401.5 53.1,439.1 186.7,414.5 247.5,415.8 123.8,462.5 179.7,401.5 245.4,472.9 223.8,485.9 206.6,402.8 171.6,495.0 234.5,404.1 115.4,478.1 183.0,404.1 169.1,410.6 40.3,485.9 248.4,402.8"/>
<polyline fill="none" stroke="none" marker-start="url(#r2)" marker-mid="url(#r2)" marker-end="url(#r2)" points="167.2,395.0 198.7,395.0 53.6,489.8 139.5,485.9 166.9,457.3 236.7,400.2 198.1,463.8 81.8,488.5 161.0,492.4 212.8,404.1 256.4,472.9 160.6,472.9 58.1,463.8 220.3,495.0 274.4,472.9 96.2,502.8 143.4,457.3 257.8,472.9 238.7,410.6 215.9,424.8 170.6,402.8 235.9,472.9 162.1,439.1 167.4,406.7 147.7,472.9 69.1,440.4 69.5,488.5 189.8,437.8 257.0,402.8 202.1,472.9 187.9,400.2 58.4,472.9 156.4,400.2 276.0,439.1 74.4,463.8 206.9,426.1 182.9,472.9 245.5,437.8 194.5,472.9 185.7,404.1 272.9,404.1 95.7,472.9 222.0,426.1 59.6,487.2 248.8,472.9 76.7,465.1 112.4,487.2 130.2,463.8 181.8,436.5 233.5,437.8 49.9,487.2 141.6,485.9 171.1,395.0 258.3,478.1 88.4,439.1 95.9,487.2 129.6,439.1 234.7,410.6 114.3,502.8 124.1,457.3 199.3,466.4 69.7,437.8 181.2,478.1 190.9,406.7 180.6,487.2 58.8,440.4 215.1,487.2 167.8,502.8 64.7,454.7 175.9,495.0 139.6,439.1 180.6,437.8 123.0,457.3 164.9,476.8 155.9,440.4 200.4,410.6 176.9,472.9 181.8,440.4 232.7,410.6 55.7,439.1 227.6,404.1 98.9,472.9 201.8,502.8 78.3,472.9 173.8,418.4 205.3,488.5 144.0,437.8 58.7,502.8 123.8,456.0 59.6,487.2 205.6,466.4 241.1,410.6 213.4,424.8 90.9,472.9 68.1,488.5 193.1,491.1 211.1,485.9 115.4,485.9 168.1,439.1 240.4,472.9 253.8,405.4 185.4,485.9 168.9,437.8 209.1,437.8 216.0,453.4 264.6,478.1 201.5,457.3 48.6,472.9 164.8,417.1 167.4,410.6 211.5,472.9 59.0,456.0 169.0,493.7 125.5,472.9 95.4,484.6 233.4,489.8 99.6,463.8 167.1,422.2 207.4,457.3 233.4,472.9 43.5,439.1 59.3,485.9 137.3,496.3 190.2,406.7 78.6,440.4 41.4,456.0 210.1,472.9 220.9,437.8 186.8,395.0 38.7,489.8 257.8,398.9 146.4,395.0 263.7,418.4 172.7,417.1 69.0,476.8 146.5,485.9 226.4,452.1 74.4,472.9 94.8,456.0 236.4,426.1 196.5,472.9 51.9,471.6 251.8,463.8 116.3,458.6 230.1,485.9 162.3,417.1 204.6,485.9 97.1,466.4 247.2,402.8 131.0,457.3 142.6,484.6 161.2,463.8 227.3,436.5 54.8,488.5 154.4,472.9 126.1,467.7 68.5,456.0 255.5,439.1 146.6,410.6 122.1,465.1 70.4,487.2 245.0,401.5 266.5,437.8 233.5,402.8 236.0,424.8 266.5,410.6 219.7,487.2 251.6,457.3 212.3,478.1 87.5,487.2 221.9,462.5 71.7,485.9 199.6,487.2 169.0,395.0 256.2,457.3 191.6,466.4 192.2,461.2 233.8,472.9 175.6,488.5 208.5,472.9 122.6,440.4 165.0,466.4 124.0,489.8 270.2,401.5 166.4,400.2 217.5,424.8 202.5,395.0 189.2,466.4 182.1,472.9 225.0,395.0 162.6,410.6 273.2,472.9 277.8,472.9 223.5,488.5 270.7,457.3 40.4,457.3 56.4,472.9 137.2,457.3 155.4,404.1 273.9,462.5 63.4,472.9 55.4,462.5 80.5,472.9 213.2,404.1 261.6,410.6 89.5,454.7 198.5,465.1 183.2,415.8 129.2,488.5 205.9,488.5 94.2,437.8 160.0,485.9 87.6,472.9 115.4,448.2 204.7,495.0 181.9,437.8 142.1,472.9 222.9,492.4 106.8,436.5 207.0,437.8 179.1,472.9 208.7,462.5 183.3,488.5 183.7,472.9 162.1,472.9 253.6,401.5 203.0,439.1 117.8,472.9 204.9,472.9 91.3,454.7 99.8,463.8 268.2,437.8 213.6,487.2 154.1,395.0 57.5,487.2 258.9,404.1 87.1,485.9 272.0,437.8 257.1,395.0 230.5,404.1 177.2,410.6 128.2,439.1 215.0,410.6 152.8,472.9 143.8,472.9 193.0,401.5 120.0,437.8 96.9,483.3 213.2,437.8 269.1,465.1 266.0,436.5 245.2,439.1 232.5,472.9 187.2,462.5 186.7,463.8 261.3,495.0 149.4,485.9 179.8,410.6 95.7,491.1 173.4,472.9 198.3,472.9 47.1,485.9 116.0,488.5 167.2,457.3 276.2,472.9 269.4,404.1 220.5,489.8 110.6,484.6 232.3,404.1 77.3,487.2 43.5,488.5 213.1,437.8 68.0,472.9 70.6,472.9 239.3,488.5 67.6,437.8 84.4,456.0 78.1,453.4 151.9,436.5 133.6,485.9 199.1,472.9 220.5,496.3 198.1,463.8 180.0,448.2 140.5,493.7 229.9,439.1 175.1,472.9 173.3,422.2 227.7,410.6 85.8,437.8 88.3,485.9 209.6,404.1 131.0,465.1 233.6,436.5 234.3,472.9 147.9,417.1 82.9,488.5 226.5,463.8 141.7,410.6 115.7,465.1 244.0,457.3 231.8,395.0 144.3,487.2 256.3,404.1 254.3,440.4 53.9,484.6 194.6,401.5 81.3,479.4 241.3,480.7 225.6,472.9 145.3,426.1 90.6,456.0 151.0,436.5 219.9,454.7 171.7,502.8 155.7,436.5 215.2,495.0 207.2,457.3 243.3,472.9 258.6,472.9 132.8,472.9 257.5,439.1 175.1,401.5 181.7,485.9 45.9,472.9 39.1,456.0 198.4,402.8 50.1,488.5 206.6,492.4 162.9,408.0 259.7,457.3 160.6,437.8 81.2,440.4 208.1,437.8 106.7,437.8 160.9,484.6 201.7,472.9 130.4,457.3 251.9,439.1 225.1,424.8 223.6,454.7 262.4,402.8 230.1,426.1 148.2,426.1 206.9,424.8 175.7,448.2 74.8,487.2 172.1,485.9 248.9,401.5 86.0,465.1 126.7,472.9 186.0,472.9 162.7,496.3 109.0,472.9 160.1,426.1 40.5,471.6 88.1,462.5"/>
<polyline fill="none" stroke="none" marker-start="url(#r2)" marker-mid="url(#r2)" marker-end="url(#r2)" points="161.4,401.5 141.8,487.2 172.3,401.5 196.0,410.6 208.7,402.8 237.8,472.9 235.4,395.0 96.9,439.1 180.0,437.8 186.9,424.8 62.4,472.9 226.0,472.9 243.6,472.9 190.8,414.5 149.5,472.9 164.8,466.4 118.4,439.1 249.0,404.1 163.9,457.3 70.5,488.5 248.6,401.5 167.5,417.1 252.9,395.0 270.6,437.8 57.9,487.2 57.0,487.2 218.3,410.6 171.1,395.0 252.3,472.9 157.4,427.4 202.3,404.1 217.8,437.8 126.3,454.7 208.0,496.3 41.9,472.9 176.4,424.8 166.9,457.3 195.8,495.0 122.4,439.1 237.5,472.9 246.0,404.1 154.7,401.5 202.7,426.1 258.0,404.1 190.2,472.9 260.9,472.9 183.1,439.1 251.6,472.9 53.5,487.2 38.0,488.5 97.6,487.2 139.4,400.2 74.5,488.5 225.0,404.1 196.3,472.9 61.7,493.7 230.4,404.1 240.4,437.8 55.6,454.7 138.4,457.3 230.4,439.1 217.3,472.9 187.9,472.9 207.2,401.5 218.4,472.9 90.6,456.0 160.5,479.4 72.5,456.0 150.0,439.1 42.4,472.9 222.2,488.5 85.3,440.4 239.9,410.6 190.9,437.8 275.0,401.5 80.6,472.9 264.8,440.4 171.6,457.3 105.6,484.6 200.5,457.3 235.5,400.2 113.7,465.1 194.2,402.8 142.9,489.8 178.6,410.6 264.2,415.8 107.5,485.9 87.8,456.0 239.1,437.8 215.6,404.1 274.5,401.5 218.5,395.0 142.6,472.9 221.7,493.7 69.4,485.9 221.8,401.5 218.0,472.9 146.5,502.8 233.9,502.8 80.2,439.1 70.7,484.6 214.0,404.1 157.1,472.9 217.4,495.0 226.4,437.8 92.9,487.2 124.4,491.1 146.3,437.8 201.3,489.8 245.8,395.0 253.3,436.5 163.2,418.4 167.6,472.9 156.7,437.8 240.2,426.1 74.9,472.9 184.8,405.4 229.1,424.8 133.5,457.3 77.9,456.0 51.1,485.9 43.4,484.6 123.4,472.9 222.4,487.2 127.4,472.9 119.1,505.4 89.7,496.3 103.5,495.0 118.8,472.9 70.1,454.7 54.0,440.4 216.6,489.8 205.3,435.2 127.1,485.9 190.5,402.8 166.0,400.2 134.5,457.3 183.3,457.3 120.3,487.2 46.3,472.9 225.6,439.1 167.3,439.1 244.4,457.3 153.5,404.1 40.3,457.3 230.7,418.4 216.4,424.8 177.6,440.4 122.5,472.9 162.8,418.4 157.6,484.6 107.0,439.1 225.7,491.1 169.6,418.4 95.5,465.1 219.2,466.4 167.8,402.8 265.5,431.3 138.1,437.8 223.1,437.8 222.6,437.8 147.4,417.1 81.0,487.2 104.4,485.9 227.8,454.7 207.8,493.7 222.8,495.0 260.4,439.1 209.0,483.3 231.4,439.1 250.1,436.5 143.6,485.9 256.7,478.1 232.9,402.8 161.7,485.9 258.5,410.6 170.9,457.3 81.3,493.7 226.0,395.0 238.9,457.3 202.4,489.8 187.5,491.1 61.8,487.2 99.0,472.9 166.1,418.4 239.5,404.1 254.3,472.9 53.9,463.8 134.6,437.8 107.8,479.4 115.8,501.5 43.2,472.9 224.5,436.5 263.6,395.0 254.5,457.3 171.0,417.1 151.8,488.5 118.4,502.8 209.5,402.8 175.3,437.8 217.9,462.5 88.4,485.9 162.8,410.6 109.6,495.0 212.2,489.8 39.0,472.9 73.0,489.8 251.0,395.0 144.5,484.6 232.7,415.8 225.2,415.8 149.4,417.1 260.7,457.3 192.8,465.1 169.0,495.0 137.6,478.1 106.0,439.1 229.5,437.8 82.5,485.9 111.3,487.2 108.3,472.9 73.7,488.5 240.1,437.8 252.6,410.6 186.2,485.9 201.3,437.8 189.2,404.1 65.4,472.9 193.2,478.1 102.1,502.8 100.1,488.5 146.4,448.2 254.5,472.9 213.2,491.1 160.4,472.9 230.8,401.5 221.8,495.0 260.5,417.1 105.5,484.6 230.1,410.6 209.1,406.7 184.6,437.8 47.0,457.3 192.7,457.3 235.2,485.9 225.3,487.2 273.1,405.4 203.7,463.8 152.4,436.5 199.9,410.6 86.2,472.9 52.2,488.5 204.9,410.6 171.7,437.8 133.1,418.4 160.9,400.2 211.0,401.5 242.5,404.1 152.6,457.3 164.3,472.9 206.9,493.7 147.3,502.8 127.6,448.2 250.8,440.4 117.7,495.0 78.3,457.3 220.2,462.5 217.9,489.8 147.6,472.9 213.6,436.5 205.7,424.8 174.6,410.6 273.9,437.8 90.2,488.5 188.6,485.9 138.8,487.2 176.0,402.8 81.1,491.1 131.6,462.5 132.4,487.2 177.3,487.2 170.5,404.1 118.5,437.8 227.7,466.4 225.8,395.0 223.3,485.9 120.1,405.4 106.8,439.1 139.7,488.5 127.4,496.3 178.7,410.6 74.2,487.2 238.3,424.8 143.9,489.8 205.8,459.9 62.9,472.9 158.2,502.8 247.5,492.4 215.2,472.9 57.6,472.9 204.6,424.8 271.2,466.4 74.2,488.5 83.3,465.1 98.9,485.9 270.2,439.1 67.8,472.9 200.6,424.8 200.9,405.4 241.5,472.9 243.0,395.0 210.3,439.1 164.8,405.4 240.7,410.6 174.0,426.1 169.0,479.4 262.7,457.3 171.6,488.5 53.5,436.5 185.0,487.2 81.1,472.9 100.3,463.8 119.8,463.8 222.5,472.9 228.5,454.7 248.1,410.6 177.0,437.8 90.5,489.8 75.8,495.0 252.7,439.1 163.8,472.9 276.0,439.1 76.1,487.2 41.2,440.4 264.7,437.8 189.7,457.3 60.9,472.9 161.5,495.0 177.4,472.9 154.4,440.4 193.7,487.2 212.1,472.9 189.9,457.3 187.6,488.5 261.1,472.9 225.7,410.6 179.0,400.2 97.7,472.9 198.8,488.5 116.4,471.6 80.2,483.3 72.1,472.9 200.6,402.8 184.7,418.4 87.9,495.0 165.1,478.1 214.7,440.4"/>
<polyline fill="none" stroke="none" marker-start="url(#r2)" marker-mid="url(#r2)" marker-end="url(#r2)" points="199.2,472.9 157.6,437.8 122.9,439.1 41.7,472.9 197.8,472.9 217.2,404.1 165.3,398.9 221.4,400.2 63.8,472.9 267.4,402.8 245.4,495.0 226.1,466.4 238.8,404.1 124.6,485.9 75.6,495.0 65.0,487.2 232.0,439.1 186.0,457.3 261.4,496.3 254.7,417.1 206.3,410.6 181.6,395.0 72.1,479.4 91.1,472.9 196.9,498.9 228.7,437.8 105.6,472.9 240.3,457.3 256.5,395.0 220.1,488.5 224.2,496.3 238.2,401.5 76.2,457.3 229.4,488.5 209.6,405.4 228.3,472.9 165.8,472.9 218.6,466.4 81.5,489.8 165.1,423.5 91.5,472.9 195.6,410.6 273.4,440.4 134.6,410.6 239.6,439.1 275.5,437.8 93.4,463.8 119.2,476.8 170.5,472.9 191.6,487.2 225.2,402.8 211.4,485.9 158.8,485.9 69.7,488.5 205.0,410.6 45.0,488.5 79.0,469.0 162.9,404.1 145.4,437.8 48.2,457.3 198.3,465.1 254.0,437.8 162.3,479.4 143.3,489.8 182.9,487.2 230.1,404.1 224.7,497.6 125.7,462.5 130.8,472.9 254.4,457.3 223.4,496.3 229.9,472.9 104.6,472.9 217.3,423.5 139.4,489.8 244.1,410.6 38.9,502.8 70.4,487.2 161.0,487.2 93.0,488.5 176.5,496.3 163.8,487.2 232.9,485.9 219.4,401.5 264.3,401.5 123.5,493.7 187.7,395.0 222.5,395.0 74.9,465.1 90.7,472.9 271.5,463.8 191.1,457.3 96.8,488.5 74.6,472.9 173.1,488.5 103.9,456.0 259.1,457.3 255.7,395.0 107.2,487.2 218.5,404.1 191.8,485.9 89.9,440.4 209.8,405.4 222.4,487.2 178.7,395.0 99.0,485.9 255.6,457.3 268.8,404.1 49.5,472.9 259.5,401.5 159.7,492.4 234.8,472.9 180.0,488.5 57.2,439.1 172.9,485.9 145.3,439.1 248.8,404.1 148.6,472.9 107.6,496.3 94.7,441.7 268.6,437.8 268.7,472.9 196.4,472.9 153.9,472.9 179.5,487.2 247.5,457.3 80.1,439.1 41.3,472.9 46.2,472.9 65.1,488.5 149.1,472.9 59.2,454.7 97.2,471.6 209.7,495.0 188.4,426.1 157.5,457.3 210.3,401.5 85.7,472.9 141.3,472.9 111.7,478.1 175.5,404.1 168.5,492.4 186.4,458.6 219.5,497.6 259.6,448.2 101.5,439.1 192.7,472.9 129.8,485.9 52.8,488.5 161.0,437.8 253.8,476.8 172.0,440.4 61.6,485.9 66.7,437.8 232.8,424.8 219.3,424.8 117.3,453.4 235.3,439.1 206.1,488.5 115.5,463.8 250.7,395.0 176.9,402.8 174.2,410.6 67.8,487.2 204.7,462.5 255.6,395.0 82.8,487.2 122.3,497.6 44.4,466.4 236.4,472.9 57.8,454.7 80.9,436.5 78.4,456.0 119.3,493.7 196.2,457.3 183.9,487.2 106.6,472.9 143.0,489.8 48.5,488.5 253.8,472.9 265.5,472.9 130.7,457.3 105.5,485.9 170.0,472.9 219.5,485.9 116.6,448.2 178.7,439.1 118.7,491.1 156.0,487.2 41.7,472.9 257.7,472.9 272.0,440.4 219.5,404.1 58.4,466.4 145.5,472.9 181.0,479.4 264.5,405.4 186.8,448.2 175.4,436.5 177.9,497.6 272.7,401.5 77.8,472.9 229.2,417.1 103.3,472.9 140.7,472.9 40.5,466.4 149.4,410.6 217.5,496.3 147.3,487.2 195.6,465.1 212.4,437.8 133.6,417.1 209.7,457.3 236.0,410.6 188.1,457.3 191.0,463.8 245.0,475.5 172.0,424.8 184.2,472.9 248.3,437.8 161.5,439.1 116.8,465.1 267.8,410.6 162.9,457.3 229.0,488.5 271.1,457.3 177.0,497.6 174.3,487.2 144.4,457.3 215.6,493.7 194.6,472.9 226.7,400.2 56.0,439.1 237.5,439.1 170.9,427.4 276.3,472.9 217.0,424.8 78.5,472.9 206.1,404.1 231.5,424.8 250.2,401.5 201.9,485.9 190.9,440.4 106.6,472.9 46.4,489.8 86.9,487.2 49.6,483.3 47.7,487.2 116.4,478.1 258.7,437.8 73.1,437.8 73.0,437.8 157.1,395.0 201.7,472.9 77.3,492.4 235.6,424.8 200.4,497.6 209.6,439.1 230.2,426.1 255.4,418.4 173.9,457.3 85.7,472.9 231.4,437.8 263.5,423.5 111.9,488.5 155.0,488.5 203.3,410.6 71.6,472.9 218.2,456.0 73.2,495.0 94.1,463.8 57.1,487.2 114.9,465.1 182.3,475.5 240.9,431.3 239.4,401.5 137.0,439.1 260.8,472.9 261.3,404.1 235.8,401.5 110.3,472.9 112.3,448.2 273.4,478.1 246.7,405.4 176.5,497.6 254.6,395.0 112.8,448.2 155.7,495.0 146.4,488.5 157.2,401.5 225.2,437.8 162.1,400.2 205.4,410.6 253.4,472.9 206.3,395.0 206.0,487.2 92.2,487.2 66.7,487.2 257.1,400.2 187.4,472.9 157.2,457.3 69.6,489.8 205.7,484.6 111.1,487.2 108.1,480.7 191.6,439.1 125.6,487.2 149.7,395.0 259.9,472.9 173.8,472.9 193.1,401.5 255.6,479.4 148.1,472.9 120.1,410.6 181.2,404.1 202.2,472.9 77.4,488.5 161.7,475.5 46.4,456.0 189.9,489.8 115.5,489.8 43.4,466.4 143.0,436.5 246.0,410.6 156.7,479.4 179.9,417.1 275.9,406.7 143.5,471.6 199.2,485.9 236.8,436.5 172.4,457.3 213.0,410.6 222.1,437.8 227.9,423.5"/>
<polyline fill="none" stroke="none" marker-start="url(#b2)" marker-mid="url(#b2)" marker-end="url(#b2)" points="237.5,492.4 231.7,495.0 235.4,491.1 274.3,493.7 275.0,487.2 262.7,485.9 272.5,497.6 239.7,493.7 239.4,488.5 230.6,496.3 268.3,491.1 277.7,489.8 273.4,485.9 239.1,496.3 253.4,491.1 252.9,498.9 267.1,485.9 259.0,485.9 278.5,505.4 250.7,485.9 272.1,504.1 249.0,502.8 242.4,495.0"/>
<polyline fill="none" stroke="none" marker-start="url(#r2)" marker-mid="url(#r2)" marker-end="url(#r2)" points="240.0,472.9 96.4,493.7 255.5,457.3 118.9,476.8 188.1,410.6 225.1,500.2 94.8,440.4 260.8,410.6 152.6,472.9 107.2,439.1 83.2,440.4 176.6,457.3 102.4,439.1 54.9,488.5 245.4,410.6 188.7,404.1 267.4,437.8 172.7,439.1 115.8,487.2 193.7,493.7 107.3,439.1 214.0,495.0 241.3,404.1 80.9,441.7 39.6,472.9 168.4,496.3 148.3,502.8 99.1,440.4 264.5,472.9 161.9,457.3 216.5,495.0 86.6,485.9 189.8,457.3 225.5,467.7 153.4,444.3 248.9,472.9 106.6,472.9 209.0,487.2 75.0,478.1 194.9,487.2 201.7,404.1 215.2,431.3 81.8,495.0 267.2,472.9 49.8,439.1 104.5,436.5 147.1,395.0 91.5,488.5 130.0,485.9 227.4,417.1 72.5,478.1 122.3,488.5 203.6,497.6 192.2,465.1 42.1,472.9 110.6,491.1 159.0,418.4 175.3,426.1 121.4,435.2 152.5,472.9 149.9,417.1 153.8,439.1 128.1,465.1 201.9,457.3 42.0,472.9 152.6,440.4 206.8,485.9 263.0,400.2 132.2,437.8 243.0,426.1 198.3,463.8 149.0,457.3 199.7,495.0 250.8,402.8 63.6,457.3 162.5,405.4 151.5,457.3 257.3,400.2 74.6,472.9 155.8,457.3 165.0,410.6 242.9,437.8 252.3,492.4 92.4,454.7 166.8,410.6 84.2,463.8 72.9,456.0 158.9,437.8 99.7,492.4 134.7,457.3 99.3,487.2 147.0,488.5 187.9,484.6 263.6,472.9 121.0,487.2 92.7,463.8 132.9,457.3 165.4,472.9 218.4,424.8 185.3,410.6 152.1,485.9 216.8,401.5 194.8,485.9 210.7,497.6 83.8,480.7 249.6,402.8 145.7,472.9 128.6,472.9 119.3,448.2 172.1,423.5 121.3,437.8 154.0,485.9 225.9,472.9 177.0,492.4 162.7,457.3 203.6,472.9 210.0,485.9 173.3,423.5 56.9,489.8 193.6,395.0 203.6,493.7 219.3,404.1 209.9,424.8 229.1,424.8 179.0,422.2 205.6,493.7 121.7,487.2 142.2,488.5 268.1,472.9 247.7,401.5 191.8,462.5 204.7,489.8 196.2,472.9 73.0,472.9 158.7,478.1 163.0,488.5 115.7,478.1 181.3,414.5 195.4,472.9 131.2,457.3 161.9,439.1 184.2,410.6 143.0,487.2 54.5,472.9 205.7,502.8 134.6,432.6 192.5,448.2 241.7,401.5 269.8,472.9 68.3,472.9 159.9,495.0 144.3,457.3 131.0,487.2 94.3,495.0 152.3,487.2 264.1,437.8 151.9,489.8 275.9,472.9 207.6,472.9 173.9,457.3 250.0,426.1 55.8,457.3 182.3,436.5 133.3,487.2 136.8,439.1 60.3,456.0 183.1,488.5 222.1,487.2 176.4,402.8 149.6,489.8 49.2,472.9 44.5,440.4 186.8,491.1 45.9,467.7 196.7,498.9 229.8,454.7 98.3,492.4 227.6,484.6 219.6,498.9 56.8,472.9 185.7,487.2 151.5,457.3 92.5,487.2 190.5,462.5 123.1,454.7 129.9,457.3 216.2,424.8 95.1,487.2 93.9,484.6 231.6,402.8 257.2,404.1 130.9,457.3 182.0,488.5 204.1,410.6 202.7,487.2 97.5,472.9 148.6,423.5 234.1,472.9 190.9,463.8 48.1,485.9 256.4,417.1 153.1,410.6 266.4,404.1 245.1,436.5 65.8,485.9 138.4,493.7 219.2,485.9 74.7,487.2 170.2,437.8 179.1,401.5 120.3,488.5 176.1,423.5 67.6,487.2 108.3,488.5 63.0,456.0 148.2,489.8 257.7,417.1 190.9,466.4 147.8,488.5 118.0,437.8 130.7,488.5 228.3,424.8 180.5,484.6 167.4,398.9 71.0,472.9 145.2,487.2 259.3,472.9 267.1,410.6 259.4,472.9 205.2,487.2 73.6,465.1 172.8,418.4 244.3,472.9 158.4,488.5 64.7,491.1 97.1,454.7 132.9,418.4 179.5,439.1 207.5,497.6 141.8,472.9 114.5,478.1 210.8,424.8 126.4,487.2 49.6,437.8 97.7,463.8 174.8,426.1 93.8,472.9 189.6,417.1 121.7,479.4 196.6,487.2 230.1,472.9 41.2,457.3 268.3,439.1 266.2,418.4 125.4,417.1 92.0,485.9 199.5,395.0 213.9,437.8 168.4,402.8 252.4,457.3 117.8,502.8 257.8,436.5 161.6,488.5 188.3,417.1 165.0,437.8 75.4,463.8 258.5,437.8 96.1,472.9 197.6,437.8 54.9,472.9 84.5,457.3 148.0,436.5 77.8,485.9 216.5,436.5 69.4,454.7 212.2,472.9 203.1,472.9 166.8,485.9 59.1,440.4 169.5,379.4 201.3,498.9 258.9,472.9 141.0,487.2 111.7,472.9 139.4,466.4 225.6,436.5 196.8,484.6 151.4,410.6 177.3,495.0 54.9,440.4 207.4,493.7 178.9,448.2 181.3,487.2 190.4,410.6 204.4,472.9 231.1,465.1 167.2,472.9 220.4,495.0 49.5,458.6 217.4,472.9 273.3,472.9 185.6,472.9 198.8,410.6 151.3,439.1 152.9,439.1 231.8,485.9 160.0,466.4 211.7,410.6 257.8,400.2 193.1,462.5 235.8,472.9 193.8,404.1 129.9,439.1 51.6,439.1 75.3,487.2 68.3,478.1 74.2,488.5 195.8,463.8 210.8,401.5 103.3,440.4 247.0,415.8 53.2,456.0 118.9,485.9 227.2,439.1 211.9,424.8 204.2,436.5 105.0,485.9 162.6,487.2 79.6,497.6 229.4,488.5 202.6,423.5 153.4,465.1 206.2,487.2 193.6,487.2 167.5,401.5 205.1,437.8"/>
<polyline fill="none" stroke="none" marker-start="url(#b2)" marker-mid="url(#b2)" marker-end="url(#b2)" points="243.5,489.8 236.2,488.5 271.2,498.9 254.1,492.4 278.3,506.7 255.9,504.1 251.4,493.7 255.1,497.6 243.2,487.2 276.4,489.8 272.9,493.7 273.3,495.0 259.7,493.7 252.7,493.7 227.9,498.9 263.2,492.4 266.5,492.4 248.8,496.3 263.8,487.2 238.3,485.9 275.3,489.8"/>
<polyline fill="none" stroke="none" marker-start="url(#r2)" marker-mid="url(#r2)" marker-end="url(#r2)" points="192.3,489.8 222.9,456.0 166.1,410.6 154.7,487.2 216.4,435.2 257.9,457.3 161.2,402.8 99.6,496.3 165.1,457.3 215.3,488.5 182.7,437.8 276.5,472.9 118.8,440.4 48.0,472.9 55.2,437.8 198.8,419.6 102.8,472.9 216.5,439.1 202.5,495.0 214.2,485.9 207.1,485.9 132.8,439.1 95.2,462.5 180.3,401.5 249.0,440.4 88.3,472.9 184.8,471.6 178.7,436.5 181.4,437.8 220.9,456.0 166.4,439.1 163.5,426.1 213.9,495.0 197.0,437.8 50.6,440.4 262.4,415.8 155.8,457.3 169.8,426.1 74.4,488.5 243.2,423.5 111.9,488.5 233.8,400.2 210.8,410.6 121.9,472.9 133.6,502.8 127.3,489.8 242.8,410.6 54.7,487.2 202.2,424.8 264.9,404.1 189.7,424.8 184.9,395.0 214.7,426.1 185.6,478.1 243.1,436.5 133.7,495.0 239.7,404.1 73.6,485.9 41.7,441.7 176.8,437.8 176.3,457.3 48.8,478.1 189.4,410.6 183.4,439.1 277.3,472.9 208.6,496.3 218.2,502.8 58.0,436.5 94.3,440.4 78.0,462.5 207.7,424.8 89.8,452.1 81.2,485.9 223.5,436.5 85.8,439.1 238.3,406.7 164.9,419.6 120.9,465.1 113.2,487.2 215.1,454.7 205.2,484.6 165.4,398.9 176.9,402.8 94.3,440.4 257.7,463.8 198.1,417.1 250.6,402.8 181.5,489.8 201.8,501.5 239.9,495.0 245.2,424.8 188.0,415.8 258.1,437.8 204.8,495.0 108.7,487.2 133.4,485.9 163.8,417.1 159.5,427.4 268.4,439.1 59.3,487.2 263.4,440.4 67.3,485.9 78.9,488.5 171.7,488.5 180.3,472.9 75.8,485.9 110.2,488.5 217.4,401.5 190.4,457.3 173.0,418.4 261.0,472.9 204.5,410.6 266.7,439.1 218.2,404.1 80.8,488.5 167.8,410.6 254.8,404.1 247.7,418.4 164.7,406.7 109.6,496.3 187.7,402.8 71.6,472.9 208.5,410.6 240.7,436.5 207.7,488.5 226.0,472.9 77.3,472.9 119.4,472.9 106.0,437.8 194.4,457.3 212.3,488.5 104.9,472.9 188.8,457.3 227.2,487.2 159.6,424.8 157.1,479.4 170.7,457.3 208.1,437.8 204.9,436.5 217.9,472.9 193.4,484.6 200.9,402.8 76.5,488.5 79.1,472.9 223.0,401.5 121.6,453.4 156.5,493.7 265.0,404.1 96.4,439.1 166.2,502.8 210.9,487.2 99.7,472.9 154.9,491.1 168.3,410.6 224.8,423.5 271.1,472.9 43.6,456.0 227.7,456.0 193.6,485.9 166.2,405.4 246.1,395.0 131.0,488.5 218.0,410.6 168.3,457.3 222.7,404.1 229.5,491.1 181.4,401.5 218.4,439.1 223.1,395.0 226.4,485.9 183.1,405.4 265.0,401.5 67.2,485.9 198.2,496.3 166.0,472.9 216.6,454.7 271.1,465.1 235.3,402.8 152.1,410.6 141.1,410.6 231.9,488.5 227.4,456.0 250.8,472.9 126.8,489.8 172.8,402.8 121.4,484.6 41.3,472.9 73.4,487.2 92.9,437.8 208.2,495.0 75.3,487.2 67.1,437.8 130.8,401.5 144.6,472.9 270.5,410.6 103.3,439.1 204.2,495.0 171.1,457.3 196.7,497.6 99.5,472.9 222.2,487.2 109.7,472.9 207.5,485.9 176.7,448.2 148.7,437.8 215.8,404.1 144.6,437.8 230.8,437.8 78.8,489.8 201.4,478.1 108.8,493.7 168.3,488.5 190.2,457.3 60.9,489.8 133.1,485.9 144.0,472.9 169.3,457.3 77.4,492.4 66.3,472.9 60.3,489.8 71.9,472.9 187.9,457.3 235.9,491.1 119.4,472.9 199.3,417.1 106.5,472.9 80.3,463.8 95.4,436.5 117.0,463.8 203.7,472.9 266.5,472.9 117.1,489.8 210.3,472.9 132.6,440.4 227.9,489.8 232.9,472.9 52.2,488.5 187.6,404.1 253.7,406.7 75.4,502.8 153.9,457.3 253.0,437.8 259.0,410.6 193.6,410.6 78.1,456.0 39.5,488.5 142.4,457.3 154.5,448.2 143.0,457.3 167.4,472.9 167.4,457.3 71.7,472.9 165.3,465.1 125.0,472.9 74.7,471.6 252.8,402.8 200.0,404.1 246.0,404.1 193.2,402.8 232.2,487.2 45.3,465.1 46.9,489.8 189.0,457.3 251.9,476.8 205.1,489.8 226.7,404.1 62.4,440.4 242.5,400.2 231.4,405.4 41.6,488.5 138.7,485.9 230.8,410.6 163.0,437.8 225.2,402.8 273.9,439.1 257.4,400.2 125.9,492.4 182.3,436.5 196.9,487.2 80.9,478.1 151.4,439.1 54.8,457.3"/>
<polyline fill="none" stroke="none" marker-start="url(#b2)" marker-mid="url(#b2)" marker-end="url(#b2)" points="273.4,496.3 250.1,493.7 240.0,498.9 240.3,497.6 236.1,487.2 256.1,504.1 231.9,498.9 264.2,497.6 260.4,504.1 238.0,488.5 254.9,504.1 258.2,484.6 269.9,489.8 271.9,498.9 266.2,485.9 230.1,498.9 254.6,489.8 254.0,493.7 247.6,504.1 253.3,487.2 238.8,493.7 241.0,489.8 255.3,489.8 251.9,489.8 267.7,488.5 255.8,484.6 257.4,497.6 251.9,489.8 253.0,498.9 263.0,491.1 272.6,484.6 247.5,485.9 255.8,498.9 232.1,493.7 253.9,484.6 277.0,496.3 265.2,491.1 251.2,492.4 250.8,495.0 249.9,488.5 255.8,491.1 262.8,498.9 248.2,491.1 242.2,492.4 240.9,504.1 252.4,504.1 226.4,496.3 269.0,493.7 242.3,485.9 262.9,492.4 255.5,488.5 248.0,484.6 252.7,498.9 274.1,495.0 249.4,504.1 273.2,496.3 269.3,498.9 273.4,485.9 248.3,493.7 267.2,497.6 273.2,506.7 263.6,484.6 277.6,500.2 251.1,504.1 237.5,495.0 255.5,498.9 278.2,495.0 247.9,485.9 255.5,497.6 273.1,501.5 242.6,497.6 251.6,485.9 258.9,491.1 234.6,495.0 276.4,484.6 260.3,488.5"/>
<path d="M37.2 535.0C39.4 534.9 46.1 534.2 50.2 534.2C54.3 534.2 58.6 534.7 62.0 534.7C65.3 534.7 67.2 534.7 70.3 534.2C73.3 533.7 76.9 532.5 80.3 531.7C83.7 531.0 87.1 530.5 90.4 529.7C93.8 528.9 97.1 527.9 100.4 526.7C103.8 525.5 107.2 523.8 110.5 522.4C113.8 521.0 117.2 519.9 120.5 518.4C123.8 516.9 126.2 516.3 130.6 513.4C135.0 510.5 141.4 506.5 147.1 500.8C152.8 495.1 158.9 486.3 165.0 479.0C171.1 471.7 177.1 464.4 183.7 456.8C190.2 449.2 197.5 441.3 204.3 433.5C211.1 425.7 219.1 416.6 224.6 410.1C230.1 403.6 234.9 396.6 237.4 394.6C239.9 392.6 238.4 397.9 239.6 398.3C240.8 398.7 242.9 398.6 244.5 397.2C246.1 395.8 246.5 393.9 249.2 390.2C251.9 386.5 257.3 379.3 260.8 375.0C264.3 370.7 268.1 366.6 270.2 364.5C272.3 362.4 272.5 362.8 273.7 362.2C274.9 361.6 276.5 361.0 277.1 360.8" fill="none" stroke="#454545" stroke-width="1.5" stroke-linejoin="round"/>
<path d="M277.1 360.8 L277.6 388.8" fill="none" stroke="#2a2a2a" stroke-width="1.5"/>
<circle cx="37.2" cy="535.0" r="1.75" fill="#000"/>
<circle cx="147.1" cy="500.8" r="1.75" fill="#000"/>
<circle cx="237.4" cy="394.6" r="1.75" fill="#000"/>
<circle cx="277.1" cy="360.8" r="1.75" fill="#000"/>
<circle cx="277.6" cy="388.8" r="1.75" fill="#000"/>
<g stroke="#333" stroke-width="1.15" fill="none">
<path d="M37.2 322.1 V535.0 H295.4 V322.1"/>
<path d="M37.2 535.0h-4.0M37.2 508.4h-2.2M37.2 481.8h-4.0M37.2 455.2h-2.2M37.2 428.6h-4.0M37.2 402.0h-2.2M37.2 375.4h-4.0M37.2 348.8h-2.2M37.2 322.2h-4.0M295.4 535.0h4.0M295.4 517.2h2.2M295.4 499.5h4.0M295.4 481.8h2.2M295.4 464.0h4.0M295.4 446.2h2.2M295.4 428.5h4.0M295.4 410.8h2.2M295.4 393.0h4.0M295.4 375.2h2.2M295.4 357.5h4.0M295.4 339.8h2.2M295.4 322.0h4.0M37.2 535.0v4.0M64.1 535.0v2.2M91.0 535.0v4.0M117.9 535.0v2.2M144.8 535.0v4.0M171.7 535.0v2.2M198.6 535.0v4.0M225.5 535.0v2.2M252.4 535.0v4.0M279.3 535.0v2.2"/>
</g>
<line x1="37.4" y1="375.9" x2="37.4" y2="535.0" stroke="#4565b8" stroke-width="1.3"/>
<g font-size="11.5">
<text transform="translate(30.9 538.9) scale(.93 1)" text-anchor="end">0</text>
<text transform="translate(30.9 485.7) scale(.93 1)" text-anchor="end">40</text>
<text transform="translate(30.9 432.5) scale(.93 1)" text-anchor="end">80</text>
<text transform="translate(30.9 379.3) scale(.93 1)" text-anchor="end">120</text>
<text transform="translate(30.9 326.1) scale(.93 1)" text-anchor="end">160</text>
<text transform="translate(302.1 538.9) scale(.93 1)">0</text>
<text transform="translate(302.1 503.4) scale(.93 1)">20</text>
<text transform="translate(302.1 467.9) scale(.93 1)">40</text>
<text transform="translate(302.1 432.4) scale(.93 1)">60</text>
<text transform="translate(302.1 396.9) scale(.93 1)">80</text>
<text transform="translate(302.1 361.4) scale(.93 1)">100</text>
<text transform="translate(302.1 325.9) scale(.93 1)">120</text>
<text transform="translate(37.2 550.3) scale(.93 1)" text-anchor="middle">0</text>
<text transform="translate(91.0 550.3) scale(.93 1)" text-anchor="middle">50</text>
<text transform="translate(144.8 550.3) scale(.93 1)" text-anchor="middle">100</text>
<text transform="translate(198.6 550.3) scale(.93 1)" text-anchor="middle">150</text>
<text transform="translate(252.4 550.3) scale(.93 1)" text-anchor="middle">200</text>
</g>
<text x="166.3" y="566.0" font-size="11" text-anchor="middle">Time/s</text>
<text transform="translate(9.0 428.6) rotate(-90)" font-size="11" text-anchor="middle">Peak frequency/kHz</text>
<text transform="translate(326.5 428.6) rotate(-90)" font-size="11" text-anchor="middle">Stress/MPa</text>
<rect x="56.1" y="327.0" width="48.4" height="15.3" fill="#0d31fb"/>
<rect x="104.5" y="327.0" width="48.4" height="15.3" fill="#fd0a1a"/>
<text x="104.5" y="323.8" font-size="11" text-anchor="middle">Amplitude/dB</text>
<g font-size="10" text-anchor="middle"><text x="56.5" y="350.7">90.0</text><text x="104.9" y="350.7">75.0</text><text x="153.3" y="350.7">60.0</text></g>
<line x1="169.2" y1="333.3" x2="193.7" y2="333.3" stroke="#454545" stroke-width="1.5"/>
<text x="197.2" y="337.0" font-size="11">Stress</text>
<g font-size="14.6">
<text transform="translate(40.5 532.8) scale(.89 1)">O</text>
<text transform="translate(140.2 517.0) scale(.89 1)">A</text>
<text transform="translate(232.2 390.5) scale(.89 1)">B</text>
<text transform="translate(271.9 356.4) scale(.89 1)">C</text>
<text transform="translate(282.5 395.0) scale(.89 1)">D</text>
<text transform="translate(279.1 426.8) scale(.89 1)" font-size="12.2">HF</text>
<text transform="translate(281.1 479.5) scale(.89 1)" font-size="12.2">IF</text>
<text transform="translate(279.6 531.2) scale(.89 1)" font-size="12.2">LF</text>
</g>
<text x="164.5" y="592.7" font-size="19.8" text-anchor="middle">(c) FT-20</text>
</g>
<g>
<rect x="397.5" y="378.7" width="256.0" height="52.5" fill="#adf39f"/>
<rect x="397.5" y="431.1" width="256.0" height="52.4" fill="#f5bea7"/>
<rect x="397.5" y="483.6" width="256.0" height="51.6" fill="#a5cff8"/>
<path d="M397.5 378.7H653.5M397.5 431.1H653.5M397.5 483.6H653.5" stroke="#3a68d0" stroke-width="1.2" fill="none"/>
<polyline fill="none" stroke="none" marker-start="url(#r3)" marker-mid="url(#r3)" marker-end="url(#r3)" points="469.9,471.6 526.4,456.2 565.3,411.4 412.5,502.3 470.5,506.1 519.9,471.6 522.5,405.0 594.1,439.6 579.6,474.1 539.3,402.4 572.9,442.1 433.7,474.1 573.9,405.0 521.9,466.4 595.6,504.9 623.3,426.8 620.0,494.6 565.5,470.3 469.6,508.7 467.2,508.7 526.9,411.4 536.9,403.7 580.3,457.5 508.9,469.0 486.6,458.8 581.3,440.8 612.4,474.1 402.9,502.3 599.4,472.9 573.1,467.7 609.4,490.8 560.9,469.0 472.0,472.9 402.5,504.9 568.0,405.0 467.7,470.3 625.6,417.8 550.3,472.9 471.7,506.1 407.1,469.0 502.5,503.6 523.8,402.4 528.6,470.3 545.2,426.8 495.3,471.6 535.3,467.7 484.8,497.2 579.3,406.3 589.2,472.9 492.6,474.1 581.9,475.4 400.3,503.6 446.5,497.2 528.2,471.6 561.0,439.6 625.3,425.5 574.6,411.4 534.7,425.5 491.6,470.3 507.8,396.0 615.7,429.3 603.7,470.3 570.6,439.6 496.6,424.2 598.5,402.4 528.1,411.4 547.4,479.3 481.8,443.4 543.9,411.4 467.0,471.6 549.5,405.0 524.6,396.0 624.4,419.1 550.7,407.5 600.5,403.7 567.5,472.9 591.0,501.0 416.7,483.1 611.2,454.9 523.2,466.4 437.1,490.8 570.1,507.4 610.0,425.5 549.9,411.4 452.1,470.3 627.5,472.9 562.3,440.8 542.2,412.7 577.1,480.5 526.3,474.1 480.3,426.8 602.8,401.1 472.0,472.9 549.9,479.3 477.3,428.0 601.3,426.8 495.5,411.4 562.8,429.3 516.2,438.3 591.4,428.0 503.2,503.6 570.5,405.0 448.0,470.3 495.5,412.7 489.4,470.3 563.9,470.3 442.1,470.3 457.6,503.6 613.3,469.0 429.7,466.4 615.1,428.0 465.0,471.6 532.6,406.3 513.1,458.8 485.1,443.4 471.0,504.9 503.0,443.4 567.4,469.0 583.6,425.5 517.0,472.9 530.5,472.9 460.8,471.6 533.3,471.6 506.7,469.0 488.0,504.9 418.4,461.3 604.8,506.1 524.0,402.4 475.2,471.6 548.1,466.4 520.7,472.9 526.7,466.4 569.2,503.6 426.7,449.8 519.0,443.4 522.1,405.0 417.8,494.6 597.4,467.7 612.5,469.0 601.3,507.4 547.3,474.1 565.3,405.0 606.0,471.6 521.4,471.6 446.2,467.7 574.0,402.4 609.8,472.9 587.0,469.0 564.6,440.8 420.9,462.6 447.1,503.6 497.0,490.8 436.0,511.3 530.1,470.3 499.7,412.7 487.1,506.1 522.1,443.4 451.4,470.3 512.1,443.4 525.3,503.6 534.2,460.0 524.5,429.3 501.8,504.9 460.6,498.5 427.9,479.3 535.3,402.4 510.4,471.6 455.9,504.9 430.7,495.9 594.9,469.0 587.9,470.3 568.4,406.3 571.1,456.2 565.5,439.6 542.0,403.7 576.4,405.0 512.3,503.6 616.7,508.7 606.0,508.7 505.1,469.0 439.6,489.5 449.4,470.3 581.1,471.6 442.9,470.3 412.6,512.5 520.6,438.3 517.4,406.3 622.4,472.9 451.4,475.4 505.8,396.0 604.9,507.4 545.8,502.3 495.5,443.4 531.3,402.4 481.7,479.3 522.2,443.4 437.5,506.1 612.6,470.3 598.2,428.0 456.3,471.6 465.3,470.3 472.3,474.1 535.9,406.3 579.3,428.0 560.3,405.0 503.3,396.0 535.9,470.3 520.4,456.2 524.1,438.3 525.3,443.4 522.5,412.7 583.3,407.5 603.5,501.0 568.9,456.2 552.3,426.8 484.8,472.9 562.5,442.1 577.6,474.1 470.4,495.9 422.7,470.3 595.5,426.8 526.3,471.6 559.0,401.1 426.7,497.2 516.6,443.4 407.2,472.9 539.2,403.7 490.3,424.2 438.8,479.3 438.1,470.3 571.9,405.0 520.4,470.3 458.4,443.4 616.2,466.4 483.8,470.3 503.8,470.3 504.1,425.5 527.6,469.0 479.8,483.1 564.2,442.1 529.7,467.7 546.2,401.1 526.9,405.0 602.3,502.3 585.9,428.0 479.6,407.5 531.0,403.7 594.9,467.7 590.9,430.6 557.5,396.0 525.7,472.9 559.1,403.7 520.1,502.3 580.6,402.4 530.0,428.0 413.9,472.9 454.7,471.6 419.9,467.7 545.9,396.0 610.0,471.6 598.8,506.1 587.7,449.8 555.0,480.5 619.5,428.0 558.7,403.7 459.1,512.5 529.1,470.3 470.4,508.7 460.1,470.3 534.7,503.6 565.7,406.3 565.7,424.2 423.0,465.2 425.2,471.6 455.7,470.3 471.3,498.5 597.4,403.7 469.6,469.0 531.4,474.1 558.5,472.9 619.1,472.9 558.6,457.5 581.8,439.6 564.4,405.0 620.8,474.1 507.8,406.3 465.8,469.0 482.7,497.2 612.4,456.2 533.5,426.8 445.5,471.6 537.0,467.7 484.1,470.3 594.0,507.4 473.2,470.3 525.0,439.6 606.5,424.2 561.6,471.6 505.2,502.3 516.9,466.4 549.0,407.5 511.1,458.8 620.0,489.5 545.2,403.7 541.3,470.3 589.3,433.2 621.7,428.0 438.5,470.3 493.7,403.7 589.2,435.7 617.6,403.7 471.9,470.3 521.3,396.0 568.1,469.0 576.6,502.3 564.3,426.8 537.2,469.0 481.9,467.7 484.8,472.9 559.1,405.0 536.2,470.3 502.0,471.6 556.0,443.4 609.1,472.9 616.3,472.9 482.7,396.0 526.9,426.8 399.2,503.6 585.9,406.3 462.0,489.5 560.8,503.6 590.2,405.0 533.6,442.1 486.5,471.6 437.9,502.3 532.1,469.0 594.4,403.7 482.9,469.0 566.7,470.3 620.8,466.4 544.6,472.9 548.5,472.9 436.1,510.0"/>
<polyline fill="none" stroke="none" marker-start="url(#r3)" marker-mid="url(#r3)" marker-end="url(#r3)" points="607.1,469.0 470.3,403.7 569.6,469.0 600.5,469.0 526.2,507.4 550.7,501.0 508.4,426.8 616.3,469.0 564.3,411.4 420.7,511.3 479.7,406.3 455.0,470.3 457.7,503.6 535.8,469.0 445.5,471.6 606.3,469.0 430.5,492.1 601.3,402.4 517.0,467.7 603.8,471.6 420.7,494.6 524.8,444.7 600.6,507.4 624.3,472.9 616.0,467.7 597.4,444.7 553.5,399.9 525.7,434.4 483.9,504.9 602.9,467.7 460.6,443.4 497.3,406.3 525.9,406.3 518.3,458.8 553.2,412.7 606.2,472.9 507.2,506.1 601.4,467.7 547.0,407.5 532.7,508.7 503.6,443.4 562.4,439.6 465.7,497.2 428.6,502.3 463.5,470.3 613.4,428.0 609.1,470.3 607.8,417.8 556.4,406.3 508.8,406.3 599.7,444.7 400.4,502.3 625.9,425.5 504.3,425.5 527.7,405.0 547.4,458.8 599.2,442.1 599.8,472.9 479.9,403.7 532.2,403.7 588.3,449.8 488.7,470.3 532.2,426.8 529.8,435.7 523.3,425.5 527.2,467.7 608.0,467.7 524.7,472.9 482.5,508.7 602.8,425.5 589.6,425.5 522.7,402.4 452.1,458.8 577.4,406.3 600.8,457.5 579.2,471.6 483.7,507.4 491.1,422.9 433.9,504.9 607.7,474.1 501.4,466.4 519.5,503.6 449.6,471.6 475.1,469.0 573.3,471.6 476.0,497.2 567.9,403.7 586.8,471.6 583.7,470.3 464.9,497.2 495.3,490.8 422.0,492.1 528.3,469.0 589.9,480.5 572.4,425.5 547.7,405.0 569.9,403.7 622.9,440.8 603.0,411.4 599.8,405.0 514.6,497.2 579.2,406.3 631.1,472.9 554.7,411.4 440.3,470.3 560.8,470.3 461.6,497.2 603.6,428.0 426.2,474.1 573.5,443.4 555.9,403.7 573.4,469.0 474.3,470.3 621.0,471.6 514.0,405.0 579.5,458.8 552.6,396.0 568.9,425.5 494.7,490.8 522.1,428.0 505.2,466.4 570.2,406.3 464.4,470.3 488.8,412.7 453.2,471.6 455.4,475.4 562.8,426.8 620.6,449.8 473.1,470.3 504.0,405.0 566.4,458.8 441.9,469.0 567.9,442.1 555.7,506.1 520.2,472.9 566.7,470.3 520.8,429.3 522.6,425.5 528.8,438.3 525.3,495.9 489.5,504.9 522.8,467.7 467.2,470.3 598.1,498.5 597.9,412.7 566.8,403.7 562.0,405.0 467.0,458.8 559.9,472.9 553.5,410.1 511.4,497.2 543.0,412.7 585.6,402.4 440.8,490.8 521.1,471.6 559.9,471.6 550.5,442.1 529.1,399.9 498.1,411.4 525.3,470.3 446.1,495.9 500.5,412.7 527.7,428.0 529.4,467.7 563.5,470.3 608.3,407.5 597.5,489.5 492.4,467.7 512.4,467.7 486.3,467.7 485.3,471.6 506.2,396.0 466.1,472.9 543.8,426.8 604.3,472.9 586.0,471.6 527.9,402.4 612.1,426.8 518.4,458.8 557.9,504.9 590.0,506.1 503.9,411.4 585.8,406.3 559.4,428.0 447.4,497.2 453.7,469.0 524.9,428.0 524.8,425.5 492.7,458.8 563.5,407.5 623.2,426.8 487.9,495.9 551.8,444.7 539.2,428.0 553.0,475.4 607.6,406.3 526.3,402.4 433.0,474.1 490.3,412.7 588.0,469.0 617.6,425.5 580.4,456.2 493.5,424.2 499.5,438.3 407.2,471.6 560.8,426.8 550.6,470.3 552.4,503.6 447.0,469.0 447.3,470.3 488.8,470.3 562.5,442.1 581.6,471.6 548.8,471.6 428.8,493.3 476.4,443.4 591.3,470.3 529.7,439.6 602.8,426.8 617.4,472.9 488.9,443.4 454.3,458.8 599.7,426.8 570.5,502.3 427.4,479.3 523.7,396.0 525.7,437.0 515.7,469.0 467.9,474.1 593.9,426.8 411.9,502.3 615.0,466.4 555.6,504.9 610.0,408.8 533.4,439.6 600.8,442.1 600.8,510.0 547.1,440.8 577.3,412.7 618.0,403.7 513.7,472.9 578.5,457.5 505.9,472.9 461.6,503.6 434.2,504.9 538.0,426.8 507.0,502.3 486.1,474.1 551.9,456.2 411.4,465.2 607.7,426.8 578.1,504.9 475.2,469.0 601.7,467.7 486.3,425.5 436.1,479.3 592.8,472.9 607.7,405.0 562.7,469.0 524.2,405.0 600.7,503.6 489.7,443.4 408.9,470.3 583.5,470.3 484.6,434.4 571.5,504.9 524.4,470.3 469.2,403.7 521.6,438.3 419.8,462.6 476.6,475.4 596.6,508.7 590.3,470.3 461.2,486.9 600.0,471.6 617.9,470.3 591.2,428.0 481.6,506.1 429.3,449.8 488.0,467.7 483.7,504.9 552.4,440.8 427.0,466.4 448.1,466.4 611.9,425.5 521.1,469.0 425.1,462.6 606.9,474.1 435.6,503.6 462.6,495.9 492.1,403.7 593.6,499.7 613.8,401.1 620.5,471.6 613.3,492.1 481.7,470.3 544.0,472.9 458.0,502.3 481.9,506.1 431.1,470.3 565.2,471.6 591.7,470.3 564.5,443.4 589.2,470.3 619.5,490.8 407.5,503.6 486.3,508.7 536.4,426.8 475.1,406.3 490.3,503.6 572.3,472.9 475.8,458.8 440.7,508.7 457.2,469.0 600.1,442.1 582.1,472.9 529.6,439.6 617.9,426.8 476.5,469.0 445.7,507.4 625.8,424.2 546.0,406.3 552.3,434.4 529.3,471.6 498.0,429.3 589.2,407.5 528.9,426.8 548.5,406.3 603.5,405.0 484.2,470.3 518.8,472.9 410.2,503.6 517.5,405.0 579.3,403.7 554.6,480.5 538.2,406.3 615.6,428.0 475.8,406.3 559.7,405.0 530.1,469.0 576.9,470.3 498.1,503.6 505.8,443.4 580.0,470.3"/>
<polyline fill="none" stroke="none" marker-start="url(#r3)" marker-mid="url(#r3)" marker-end="url(#r3)" points="560.3,457.5 549.2,471.6 598.0,503.6 529.3,403.7 555.6,466.4 579.4,402.4 584.6,410.1 521.3,416.5 546.2,381.9 489.7,403.7 490.0,443.4 555.6,469.0 582.3,428.0 597.1,405.0 529.7,443.4 527.5,467.7 527.6,443.4 594.4,402.4 416.9,469.0 530.8,467.7 447.4,471.6 429.2,494.6 525.5,406.3 595.8,412.7 451.5,469.0 477.9,507.4 590.1,407.5 556.2,433.2 525.6,402.4 430.8,507.4 567.8,472.9 524.1,428.0 605.5,407.5 609.3,470.3 612.7,507.4 590.0,470.3 541.1,406.3 533.4,442.1 492.4,412.7 589.3,471.6 541.9,407.5 532.1,467.7 447.9,472.9 482.3,471.6 616.4,471.6 505.6,443.4 583.5,457.5 504.0,471.6 448.8,471.6 610.7,406.3 487.9,470.3 432.5,502.3 424.1,495.9 412.0,502.3 598.6,511.3 525.3,440.8 518.8,438.3 483.5,424.2 538.4,472.9 414.4,469.0 537.0,469.0 492.0,405.0 479.8,449.8 560.6,508.7 413.5,503.6 585.4,471.6 408.8,479.3 510.8,469.0 480.5,474.1 442.5,472.9 563.0,469.0 549.2,470.3 522.4,440.8 484.5,470.3 488.9,495.9 550.5,449.8 539.2,470.3 489.6,472.9 415.0,502.3 438.5,510.0 505.5,403.7 520.1,458.8 420.3,449.8 554.0,440.8 550.3,469.0 589.3,402.4 461.8,467.7 481.5,470.3 609.1,469.0 491.9,426.8 539.3,426.8 505.3,411.4 580.3,470.3 574.0,502.3 552.8,402.4 590.0,426.8 598.5,470.3 397.9,472.9 535.3,405.0 409.6,502.3 444.1,502.3 609.8,474.1 566.5,437.0 610.4,504.9 517.6,458.8 606.2,471.6 559.7,472.9 576.2,489.5 563.1,456.2 555.7,435.7 544.6,471.6 612.0,476.7 547.4,439.6 560.1,501.0 623.5,470.3 561.8,406.3 421.4,467.7 522.1,469.0 526.1,490.8 602.0,504.9 453.2,479.3 474.9,508.7 481.8,406.3 578.5,457.5 486.7,508.7 478.8,506.1 466.9,470.3 461.6,469.0 471.9,483.1 545.5,405.0 427.9,506.1 506.9,467.7 465.5,470.3 626.3,465.2 459.8,471.6 581.7,456.2 530.9,471.6 537.8,407.5 481.7,490.8 611.9,403.7 420.1,470.3 517.6,471.6 527.6,443.4 591.4,502.3 616.7,440.8 588.8,456.2 517.9,503.6 583.9,457.5 536.2,439.6 417.2,467.7 544.9,426.8 551.6,417.8 568.6,405.0 586.2,403.7 570.9,442.1 543.6,471.6 597.9,442.1 553.5,469.0 470.6,508.7 457.9,470.3 627.2,472.9 448.3,470.3 492.8,470.3 504.7,406.3 463.3,443.4 545.5,428.0 558.0,406.3 599.8,457.5 454.5,489.5 486.1,508.7 412.6,469.0 485.4,506.1 489.5,457.5 525.5,429.3 465.2,469.0 463.8,470.3 524.1,506.1 553.9,442.1 497.4,434.4 526.7,426.8 596.8,469.0 621.0,494.6 536.7,472.9 529.9,470.3 526.5,426.8 410.0,469.0 473.5,508.7 428.0,494.6 412.6,449.8 494.3,470.3 440.9,489.5 538.7,405.0 560.7,470.3 590.4,502.3 589.6,503.6 498.4,471.6 520.0,402.4 531.5,442.1 534.6,489.5 456.1,471.6 564.5,406.3 606.2,507.4 566.9,425.5 603.7,412.7 498.5,443.4 591.6,470.3 568.3,471.6 406.0,469.0 546.2,438.3 595.2,469.0 613.9,469.0 610.9,506.1 476.5,471.6 611.2,502.3 460.6,471.6 534.6,470.3 529.3,435.7 547.3,442.1 535.5,405.0 580.5,456.2 443.3,504.9 449.4,471.6 529.3,439.6 496.1,405.0 493.3,467.7 530.1,440.8 598.4,426.8 556.8,442.1 605.8,493.3 607.2,425.5 487.6,471.6 457.0,490.8 514.2,502.3 558.6,472.9 593.1,425.5 569.5,472.9 616.4,425.5 592.5,503.6 521.1,471.6 611.6,508.7 482.6,467.7 504.7,506.1 598.6,503.6 529.5,403.7 562.1,442.1 563.3,444.7 525.1,472.9 577.1,442.1 602.3,502.3 479.4,472.9 590.1,424.2 425.9,479.3 621.8,426.8 447.4,471.6 414.0,502.3 604.4,402.4 607.7,408.8 413.1,466.4 592.0,471.6 552.4,435.7 470.5,490.8 528.5,405.0 482.5,508.7 554.8,467.7 613.3,428.0 504.9,471.6 599.4,405.0 466.7,470.3 524.2,469.0 533.0,403.7 591.5,470.3 462.2,501.0 611.3,472.9 433.0,506.1 523.8,470.3 521.7,471.6 539.8,469.0 570.4,457.5 574.1,406.3 505.4,479.3 476.1,471.6 427.6,465.2 485.0,472.9 618.6,426.8 541.5,396.0 585.0,474.1 608.9,470.3 408.2,494.6 540.1,426.8 603.6,504.9 526.7,443.4 410.1,507.4 626.4,472.9 519.5,412.7 434.5,483.1 529.8,405.0 431.2,503.6 423.3,495.9 487.9,405.0 556.7,481.8 575.3,458.8 519.2,396.0 421.2,474.1 528.6,425.5 484.5,458.8 503.0,503.6 437.9,502.3 525.8,434.4 546.6,489.5 442.9,504.9 598.2,503.6 484.9,471.6 506.4,474.1 518.7,443.4 598.4,428.0 467.3,471.6 609.4,471.6 583.9,403.7 523.7,438.3 523.8,396.0 490.0,470.3 494.7,470.3 611.7,471.6 612.7,474.1 582.4,507.4 517.5,403.7 511.5,471.6 434.0,508.7 571.5,443.4 534.6,471.6 415.9,471.6 600.5,412.7 600.6,467.7 421.5,494.6 554.5,457.5 517.4,428.0 526.4,470.3 532.8,405.0 614.3,470.3 431.2,503.6 408.0,469.0 484.2,506.1 493.7,403.7 510.1,458.8"/>
<polyline fill="none" stroke="none" marker-start="url(#r3)" marker-mid="url(#r3)" marker-end="url(#r3)" points="456.7,470.3 581.9,507.4 512.7,443.4 448.1,502.3 479.0,508.7 520.2,443.4 595.8,471.6 575.1,474.1 588.5,401.1 440.0,472.9 591.5,434.4 530.5,504.9 512.4,495.9 573.7,470.3 487.4,403.7 598.9,401.1 459.5,470.3 596.0,471.6 436.4,504.9 456.1,497.2 484.4,504.9 406.6,504.9 475.3,471.6 489.4,471.6 624.6,434.4 503.6,412.7 497.5,396.0 580.2,405.0 520.9,405.0 592.7,471.6 528.3,443.4 570.6,472.9 626.2,469.0 598.6,471.6 528.4,470.3 555.2,440.8 607.2,405.0 595.5,402.4 413.0,511.3 565.8,456.2 484.3,497.2 596.9,470.3 626.4,412.7 589.9,503.6 501.5,433.2 493.8,425.5 523.6,471.6 610.7,506.1 399.9,503.6 595.2,405.0 569.2,424.2 590.6,405.0 545.0,428.0 528.7,424.2 543.9,407.5 493.9,470.3 528.8,411.4 524.3,397.3 608.2,504.9 556.4,443.4 549.2,403.7 582.9,469.0 615.9,503.6 554.3,425.5 435.2,472.9 534.6,405.0 508.9,471.6 527.6,472.9 474.1,508.7 452.1,458.8 526.9,467.7 596.1,406.3 583.8,425.5 501.2,471.6 523.1,471.6 435.3,507.4 581.3,471.6 402.5,502.3 441.3,506.1 601.4,474.1 525.0,408.8 437.3,490.8 510.6,471.6 459.2,471.6 519.0,458.8 493.7,443.4 607.6,508.7 548.9,405.0 483.4,470.3 428.2,501.0 598.5,405.0 595.9,435.7 577.3,470.3 463.8,471.6 602.3,407.5 510.6,474.1 592.8,469.0 558.5,443.4 496.9,472.9 470.3,403.7 620.2,470.3 577.2,507.4 425.7,492.1 598.7,426.8 462.2,443.4 588.2,469.0 530.8,506.1 590.9,466.4 567.3,443.4 624.3,425.5 615.8,475.4 531.5,411.4 574.1,442.1 430.5,469.0 523.3,426.8 610.5,403.7 623.4,467.7 526.7,428.0 472.6,405.0 609.5,405.0 568.6,481.8 509.0,424.2 609.8,467.7 529.1,406.3 437.0,479.3 618.9,426.8 441.6,469.0 556.5,442.1 553.2,502.3 567.8,503.6 464.0,488.2 503.7,443.4 506.2,406.3 482.1,506.1 623.8,471.6 506.0,472.9 511.6,457.5 406.1,503.6 497.4,467.7 512.4,457.5 492.0,403.7 476.3,508.7 410.1,470.3 442.0,472.9 556.5,397.3 500.1,467.7 495.1,470.3 474.4,493.3 428.4,470.3 426.4,469.0 455.2,469.0 436.9,475.4 526.8,443.4 564.5,399.9 475.1,469.0 591.9,470.3 463.2,470.3 485.3,469.0 548.2,407.5 533.5,405.0 567.2,470.3 488.4,508.7 618.2,428.0 562.5,428.0 523.4,471.6 513.8,443.4 498.5,469.0 589.9,471.6 509.6,405.0 487.8,497.2 612.7,471.6 422.1,495.9 488.4,403.7 519.2,471.6 581.5,442.1 510.7,406.3 607.9,506.1 544.7,424.2 533.1,442.1 483.7,470.3 519.3,397.3 580.8,472.9 616.5,401.1 460.3,498.5 479.8,443.4 544.5,471.6 590.8,507.4 579.4,405.0 581.7,457.5 597.2,502.3 418.3,495.9 470.3,490.8 600.4,470.3 608.8,440.8 468.5,471.6 406.8,475.4 544.4,470.3 608.3,425.5 617.2,506.1 553.0,405.0 496.3,412.7 485.8,406.3 561.7,442.1 602.8,426.8 569.0,424.2 526.1,443.4 471.4,471.6 475.0,506.1 611.5,470.3 622.9,470.3 589.6,470.3 417.5,494.6 425.6,506.1 538.2,406.3 444.8,469.0 497.5,458.8 562.2,401.1 561.5,442.1 526.8,470.3 446.4,502.3 552.5,428.0 497.6,422.9 547.2,471.6 544.2,428.0 497.6,469.0 487.9,469.0 581.4,428.0 504.3,401.1 562.8,406.3 495.3,490.8 567.8,480.5 547.1,470.3 589.6,403.7 532.1,403.7 609.7,405.0 612.7,402.4 462.5,504.9 591.2,403.7 444.1,506.1 466.9,458.8 622.8,471.6 403.8,504.9 502.0,412.7 550.3,457.5 488.2,470.3 402.2,506.1 605.7,412.7 403.8,474.1 443.2,471.6 458.0,498.5 406.5,503.6 413.4,503.6 597.0,406.3 592.3,479.3 607.4,501.0 611.5,469.0 622.3,425.5 408.7,502.3 520.8,403.7 570.9,443.4 585.2,467.7 524.1,469.0 484.0,508.7 604.7,466.4 571.5,412.7 592.3,502.3 406.8,470.3 438.2,458.8 515.7,469.0 482.3,507.4 565.4,403.7 534.5,428.0 529.8,426.8 499.1,474.1 431.2,495.9 617.0,405.0 618.6,428.0 606.9,510.0 480.8,469.0 528.4,469.0 562.9,470.3 554.5,457.5 623.2,415.2 533.0,428.0 566.8,435.7 513.4,443.4 511.7,471.6 606.3,502.3 503.2,506.1 432.6,504.9 613.8,428.0 533.4,412.7 520.2,506.1 611.7,428.0 566.8,469.0 508.0,407.5 491.9,467.7 472.1,405.0 531.4,471.6 571.4,424.2 517.2,443.4 575.2,412.7 577.2,471.6 548.2,502.3 587.9,456.2 547.1,438.3 596.8,489.5 601.2,426.8 410.7,471.6 493.8,425.5 568.8,471.6 564.4,443.4 442.7,474.1 481.5,472.9 541.6,480.5 509.4,412.7 525.5,458.8 579.3,444.7 498.4,428.0 522.9,403.7 567.4,508.7 413.4,503.6 493.0,458.8 476.5,472.9 563.4,469.0 530.7,457.5 430.0,469.0 489.9,458.8 519.3,428.0 464.7,470.3 448.2,443.4 527.3,474.1 442.2,462.6"/>
<polyline fill="none" stroke="none" marker-start="url(#b3)" marker-mid="url(#b3)" marker-end="url(#b3)" points="631.1,503.6 608.4,510.0 605.2,492.1 620.1,507.4 630.8,490.8 605.8,499.7 628.9,504.9 629.4,512.5 617.8,506.1 601.4,501.0 630.0,504.9"/>
<polyline fill="none" stroke="none" marker-start="url(#r3)" marker-mid="url(#r3)" marker-end="url(#r3)" points="620.4,429.3 564.9,471.6 556.7,471.6 469.7,403.7 438.4,472.9 533.5,506.1 617.3,428.0 437.0,510.0 624.5,425.5 591.2,471.6 520.8,437.0 581.3,454.9 582.2,402.4 521.3,467.7 404.1,502.3 536.1,471.6 480.0,443.4 590.3,470.3 490.9,467.7 578.4,475.4 602.9,507.4 399.8,483.1 472.1,508.7 429.3,471.6 593.0,504.9 548.7,412.7 513.4,479.3 606.8,507.4 517.7,428.0 521.7,469.0 441.8,467.7 585.6,470.3 425.9,466.4 600.7,506.1 469.3,405.0 553.9,471.6 595.3,408.8 487.7,470.3 533.8,406.3 487.2,506.1 610.8,502.3 603.5,403.7 525.3,458.8 498.6,412.7 409.9,471.6 437.7,466.4 529.8,472.9 560.2,402.4 574.9,407.5 524.8,434.4 606.1,474.1 408.0,502.3 568.4,479.3 541.4,412.7 437.0,507.4 567.7,474.1 596.1,471.6 445.3,504.9 605.4,503.6 488.1,443.4 491.1,443.4 564.2,412.7 485.4,508.7 492.4,469.0 571.8,411.4 557.6,405.0 612.4,456.2 590.3,479.3 546.4,426.8 571.6,426.8 554.1,508.7 564.1,470.3 611.0,506.1 572.3,495.9 567.1,506.1 475.6,469.0 525.0,508.7 543.0,428.0 590.7,457.5 414.7,479.3 570.8,412.7 483.2,470.3 521.7,467.7 491.1,471.6 565.2,471.6 480.6,443.4 503.5,403.7 612.7,428.0 589.3,406.3 554.2,469.0 583.8,428.0 503.7,443.4 548.9,469.0 504.2,412.7 522.2,443.4 598.9,457.5 612.3,456.2 564.9,472.9 429.4,478.0 601.9,401.1 513.9,490.8 594.7,456.2 549.9,429.3 528.4,428.0 563.4,433.2 608.7,466.4 413.3,504.9 482.9,425.5 525.7,405.0 459.5,467.7 409.4,495.9 546.5,426.8 527.9,443.4 574.7,508.7 494.5,403.7 403.8,503.6 567.0,470.3 518.3,469.0 573.7,474.1 555.2,426.8 581.0,470.3 458.6,471.6 412.1,504.9 575.1,406.3 536.1,424.2 500.4,502.3 544.3,471.6 473.4,494.6 475.5,471.6 474.5,406.3 529.1,466.4 599.5,483.1 523.3,411.4 522.1,406.3 535.6,402.4 609.7,470.3 567.6,443.4 471.2,506.1 614.5,407.5 588.1,405.0 511.8,503.6 522.1,474.1 468.9,474.1 589.8,501.0 622.8,467.7 616.8,405.0 484.3,443.4 520.8,469.0 591.9,470.3 573.3,467.7 512.6,401.1 472.8,506.1 566.1,411.4 619.9,471.6 423.2,495.9 570.7,465.2 489.6,466.4 560.4,425.5 592.2,434.4 579.2,440.8 588.3,470.3 567.7,507.4 401.7,470.3 608.0,406.3 595.8,469.0 540.8,396.0 507.8,443.4 513.6,503.6 535.5,474.1 470.4,469.0 430.2,504.9 488.3,470.3 575.5,502.3 569.2,426.8 505.4,490.8 530.2,433.2 527.9,502.3 492.2,405.0 623.5,428.0 529.0,407.5 520.0,403.7 433.9,471.6 589.1,470.3 546.4,469.0 575.1,411.4 499.2,471.6 530.4,470.3 548.7,502.3 594.5,502.3 541.6,428.0 470.6,470.3 519.9,403.7 519.7,411.4 562.5,457.5 573.2,417.8 499.7,405.0 513.9,469.0 430.1,449.8 624.9,425.5 525.3,442.1 574.9,470.3 565.1,402.4 483.7,469.0 533.2,426.8 524.5,466.4 485.9,471.6 481.4,506.1 603.1,466.4 599.2,508.7 566.7,470.3 472.2,471.6 618.1,469.0 408.3,503.6 486.6,424.2 512.9,471.6 573.2,471.6 524.0,472.9 565.8,399.9 579.2,428.0 400.0,503.6 523.2,471.6 603.3,407.5 432.4,462.6 556.7,442.1 616.2,466.4 410.5,508.7 456.9,469.0 503.3,471.6 568.6,467.7 553.3,503.6 541.0,397.3 549.1,403.7 577.3,440.8 542.3,412.7 507.8,396.0 423.7,470.3 601.0,412.7 512.7,412.7 505.0,469.0 440.1,479.3 599.8,407.5 487.9,504.9 474.3,403.7 481.4,425.5 480.2,467.7 544.8,406.3 425.2,498.5 445.7,471.6 549.4,481.8 606.7,403.7 596.6,502.3 565.1,469.0 573.0,408.8 459.0,504.9 518.2,470.3 508.6,443.4 534.8,425.5 572.8,424.2 541.3,405.0 427.2,503.6 522.0,506.1 565.2,456.2 596.2,405.0 577.4,442.1 475.1,493.3 481.0,470.3 558.2,471.6 536.3,405.0 592.9,429.3 558.4,465.2 406.2,471.6 521.1,470.3 499.8,474.1 436.9,506.1 549.7,471.6 525.7,469.0 537.4,406.3 599.1,506.1 531.5,471.6 609.2,426.8 562.4,406.3 475.2,471.6 624.9,426.8 452.6,470.3 567.6,474.1 435.2,511.3 542.1,411.4 436.1,504.9 466.1,443.4 554.3,426.8 540.2,396.0 520.5,443.4 615.7,470.3 405.4,472.9 559.3,507.4 561.9,472.9 601.1,499.7 594.8,405.0 409.1,503.6 542.7,428.0 576.2,465.2 507.2,405.0 488.8,403.7 576.7,470.3 616.6,495.9 590.0,495.9 514.1,405.0 586.2,424.2 501.0,471.6 531.7,424.2 610.0,426.8 559.1,470.3 485.6,403.7 594.0,470.3 619.6,470.3 572.0,412.7 508.5,469.0 564.7,412.7 599.1,412.7 571.4,405.0 499.7,406.3 626.2,467.7 593.1,471.6 625.2,439.6 610.7,472.9 531.4,434.4 544.5,401.1 563.2,429.3"/>
<polyline fill="none" stroke="none" marker-start="url(#b3)" marker-mid="url(#b3)" marker-end="url(#b3)" points="604.9,502.3 618.4,488.2 607.0,502.3 621.5,492.1 624.1,503.6 613.3,506.1 631.0,508.7 629.3,495.9 625.0,489.5 619.3,498.5 618.3,488.2 613.5,493.3 602.8,502.3 619.4,426.8 620.9,503.6 626.3,504.9"/>
<polyline fill="none" stroke="none" marker-start="url(#r3)" marker-mid="url(#r3)" marker-end="url(#r3)" points="405.3,467.7 607.6,457.5 507.5,472.9 524.2,403.7 619.4,469.0 593.1,456.2 460.0,483.1 458.6,467.7 469.0,435.7 504.4,428.0 491.6,412.7 478.7,504.9 521.7,443.4 424.8,506.1 411.5,472.9 575.0,406.3 503.7,443.4 542.3,405.0 567.9,428.0 506.2,506.1 599.9,429.3 556.8,406.3 559.2,428.0 595.0,495.9 485.8,493.3 596.6,478.0 606.5,501.0 481.3,443.4 567.0,402.4 593.4,438.3 488.7,405.0 527.3,443.4 595.6,474.1 625.6,437.0 512.0,411.4 417.0,457.5 460.7,502.3 563.4,495.9 604.3,428.0 601.0,472.9 471.3,508.7 445.0,467.7 617.9,403.7 528.7,403.7 511.4,443.4 431.0,469.0 515.2,469.0 566.0,426.8 444.6,506.1 549.6,474.1 519.3,474.1 561.4,502.3 506.4,438.3 596.4,456.2 538.6,472.9 548.2,470.3 606.5,499.7 470.7,470.3 527.8,471.6 611.9,504.9 401.4,470.3 400.0,471.6 585.0,396.0 472.3,471.6 568.9,411.4 607.7,507.4 490.8,406.3 568.0,469.0 527.9,401.1 534.4,504.9 529.2,412.7 549.1,408.8 529.0,470.3 528.8,489.5 593.3,426.8 585.9,471.6 472.9,471.6 486.1,508.7 467.2,458.8 525.6,470.3 616.7,480.5 404.4,506.1 502.5,396.0 513.4,403.7 526.4,471.6 469.4,467.7 530.0,503.6 557.9,442.1 507.9,472.9 464.9,469.0 572.4,426.8 442.1,472.9 526.7,401.1 608.3,471.6 611.1,469.0 605.1,506.1 560.4,480.5 527.7,467.7 533.3,426.8 530.9,426.8 555.9,456.2 444.3,495.9 413.6,508.7 591.8,471.6 617.8,407.5 511.0,403.7 404.5,470.3 404.2,503.6 478.0,426.8 526.0,435.7 452.8,471.6 462.1,490.8 419.2,474.1 523.2,507.4 480.6,506.1 553.4,506.1 537.1,470.3 399.5,503.6 528.5,426.8 613.2,403.7 512.4,469.0 600.2,425.5 460.1,489.5 477.9,405.0 418.4,457.5 600.4,456.2 491.3,506.1 405.6,483.1 551.6,443.4 405.9,474.1 501.4,469.0 493.8,474.1 589.4,470.3 418.4,458.8 457.7,469.0 560.2,428.0 487.0,470.3 549.7,470.3 595.6,403.7 549.7,495.9 555.8,426.8 428.8,503.6 530.5,406.3 571.8,426.8 557.6,407.5 458.7,470.3 617.1,502.3 491.8,412.7 475.2,470.3 425.8,470.3 477.7,508.7 622.6,480.5 463.8,485.7 552.1,406.3 547.4,508.7 434.3,472.9 605.8,506.1 473.7,508.7 577.4,442.1 502.2,412.7 558.1,442.1 500.2,502.3 546.8,504.9 621.0,504.9 543.4,425.5 584.4,457.5 522.2,440.8 544.1,403.7 603.6,406.3 480.7,454.9 616.8,470.3 512.1,443.4 426.9,503.6 623.0,425.5 563.1,425.5 477.0,504.9 597.0,480.5 588.1,474.1 520.3,471.6 614.9,472.9 505.7,469.0 421.7,493.3 547.3,406.3 437.7,479.3 561.0,426.8 548.6,471.6 534.0,439.6 616.8,470.3 408.7,495.9 494.2,406.3 556.3,469.0 409.9,467.7 590.4,472.9 575.7,472.9 556.9,405.0 564.1,433.2 455.0,472.9 529.3,406.3 576.3,405.0 553.2,479.3 478.4,506.1 489.6,396.0 595.2,469.0 585.6,426.8 444.0,507.4 430.6,469.0 515.3,449.8 510.2,470.3 588.9,428.0 556.2,472.9 468.9,471.6 529.0,412.7 448.2,431.9 418.1,469.0 461.6,502.3 517.6,403.7 477.9,470.3 422.6,463.9 535.4,456.2 576.5,405.0 511.5,471.6 546.3,442.1 459.6,469.0 447.0,470.3 562.6,403.7 519.7,412.7 537.6,428.0 437.2,483.1 509.3,405.0 449.0,471.6 460.8,489.5 484.6,506.1 527.5,469.0 509.0,405.0 441.4,506.1 540.1,475.4 587.2,405.0 489.0,458.8 576.4,425.5 536.0,470.3 611.1,472.9 573.4,458.8 472.6,504.9 453.7,489.5 489.3,406.3 576.2,405.0 473.8,490.8 533.7,440.8 555.8,456.2 616.6,403.7 412.8,467.7 553.1,426.8 486.0,504.9 560.4,507.4 492.5,458.8 547.2,440.8 489.6,479.3 592.1,479.3 563.8,466.4 538.6,424.2 514.8,490.8 469.4,470.3 590.5,449.8 477.9,506.1 504.5,472.9 405.8,471.6 621.6,425.5 508.9,411.4 490.0,469.0 524.7,405.0 542.1,470.3 614.5,508.7 545.1,471.6 543.7,470.3 610.8,471.6 511.6,471.6 514.9,504.9 619.1,470.3 515.4,443.4 526.8,494.6 611.9,458.8 572.7,429.3 625.2,470.3 531.0,406.3 543.8,406.3 530.8,440.8 580.1,458.8"/>
<polyline fill="none" stroke="none" marker-start="url(#b3)" marker-mid="url(#b3)" marker-end="url(#b3)" points="601.5,492.1 601.4,490.8 631.5,492.1 620.4,494.6 623.7,502.3 630.1,502.3 597.0,499.7 612.9,490.8 630.8,492.1 607.1,497.2 629.4,499.7 627.1,519.0 611.7,501.0 630.8,502.3 599.1,492.1 624.8,501.0 607.4,488.2 631.2,493.3 631.0,492.1 630.0,508.7 630.6,489.5 621.6,508.7 610.9,499.7 630.1,504.9 617.8,494.6 626.1,486.9 606.9,503.6 610.2,493.3 625.0,488.2 622.5,489.5 624.0,489.5 608.7,503.6 608.7,499.7 630.1,489.5 605.5,498.5 628.6,508.7 622.3,503.6 630.6,497.2 629.2,494.6 629.1,508.7 602.3,494.6 611.2,493.3 617.3,492.1 630.8,507.4 625.7,493.3 604.8,425.5 631.5,502.3 629.8,499.7 631.3,501.0 618.9,493.3 622.3,507.4 627.6,457.5 618.0,492.1 617.2,508.7 608.8,504.9 629.6,512.5 628.6,495.9"/>
<path d="M397.5 535.2C399.7 535.0 406.1 534.8 410.8 534.2C415.5 533.6 420.5 532.8 425.9 531.7C431.3 530.6 438.0 528.9 443.4 527.5C448.8 526.1 452.9 525.0 458.5 523.4C464.1 521.8 472.3 519.9 477.3 517.9C482.3 515.9 485.0 513.9 488.6 511.6C492.2 509.3 494.6 507.0 498.7 504.1C502.8 501.2 508.1 498.1 513.0 494.1C517.9 490.1 522.7 485.8 528.1 480.3C533.5 474.9 539.8 467.7 545.6 461.4C551.5 455.1 555.3 450.6 563.2 442.6C571.1 434.7 584.7 422.1 593.1 413.7C601.5 405.3 607.2 398.8 613.4 392.4C619.5 386.0 627.2 378.1 630.0 375.3" fill="none" stroke="#454545" stroke-width="1.5" stroke-linejoin="round"/>
<path d="M630.0 375.3 L630.7 395.9" fill="none" stroke="#2a2a2a" stroke-width="1.5"/>
<circle cx="397.5" cy="535.2" r="1.75" fill="#000"/>
<circle cx="477.3" cy="517.9" r="1.75" fill="#000"/>
<circle cx="593.1" cy="413.7" r="1.75" fill="#000"/>
<circle cx="630.0" cy="375.3" r="1.75" fill="#000"/>
<circle cx="630.7" cy="395.9" r="1.75" fill="#000"/>
<g stroke="#333" stroke-width="1.15" fill="none">
<path d="M397.5 325.3 V535.2 H653.5 V325.3"/>
<path d="M397.5 535.2h-4.0M397.5 509.0h-2.2M397.5 482.8h-4.0M397.5 456.5h-2.2M397.5 430.3h-4.0M397.5 404.1h-2.2M397.5 377.9h-4.0M397.5 351.6h-2.2M397.5 325.4h-4.0M653.5 535.2h4.0M653.5 517.7h2.2M653.5 500.3h4.0M653.5 482.8h2.2M653.5 465.3h4.0M653.5 447.8h2.2M653.5 430.4h4.0M653.5 412.9h2.2M653.5 395.4h4.0M653.5 377.9h2.2M653.5 360.5h4.0M653.5 343.0h2.2M653.5 325.5h4.0M397.5 535.2v4.0M426.6 535.2v2.2M455.6 535.2v4.0M484.6 535.2v2.2M513.7 535.2v4.0M542.8 535.2v2.2M571.8 535.2v4.0M600.9 535.2v2.2M629.9 535.2v4.0"/>
</g>
<line x1="398.5" y1="378.7" x2="398.5" y2="535.2" stroke="#3b62c4" stroke-width="1.0"/>
<g font-size="11.5">
<text transform="translate(391.2 539.1) scale(.93 1)" text-anchor="end">0</text>
<text transform="translate(391.2 486.7) scale(.93 1)" text-anchor="end">40</text>
<text transform="translate(391.2 434.2) scale(.93 1)" text-anchor="end">80</text>
<text transform="translate(391.2 381.8) scale(.93 1)" text-anchor="end">120</text>
<text transform="translate(391.2 329.3) scale(.93 1)" text-anchor="end">160</text>
<text transform="translate(660.2 539.1) scale(.93 1)">0</text>
<text transform="translate(660.2 504.2) scale(.93 1)">20</text>
<text transform="translate(660.2 469.2) scale(.93 1)">40</text>
<text transform="translate(660.2 434.2) scale(.93 1)">60</text>
<text transform="translate(660.2 399.3) scale(.93 1)">80</text>
<text transform="translate(660.2 364.4) scale(.93 1)">100</text>
<text transform="translate(660.2 329.4) scale(.93 1)">120</text>
<text transform="translate(397.5 550.5) scale(.93 1)" text-anchor="middle">0</text>
<text transform="translate(455.6 550.5) scale(.93 1)" text-anchor="middle">50</text>
<text transform="translate(513.7 550.5) scale(.93 1)" text-anchor="middle">100</text>
<text transform="translate(571.8 550.5) scale(.93 1)" text-anchor="middle">150</text>
<text transform="translate(629.9 550.5) scale(.93 1)" text-anchor="middle">200</text>
</g>
<text x="525.5" y="566.2" font-size="11" text-anchor="middle">Time/s</text>
<text transform="translate(369.5 430.2) rotate(-90)" font-size="11" text-anchor="middle">Peak frequency/kHz</text>
<text transform="translate(684.0 430.2) rotate(-90)" font-size="11" text-anchor="middle">Stress/MPa</text>
<rect x="416.0" y="328.8" width="48.4" height="15.3" fill="#0d31fb"/>
<rect x="464.4" y="328.8" width="48.4" height="15.3" fill="#fd0a1a"/>
<text x="464.4" y="325.6" font-size="11" text-anchor="middle">Amplitude/dB</text>
<g font-size="10" text-anchor="middle"><text x="416.4" y="352.5">90.0</text><text x="464.8" y="352.5">75.0</text><text x="513.2" y="352.5">60.0</text></g>
<line x1="528.6" y1="335.4" x2="553.1" y2="335.4" stroke="#454545" stroke-width="1.5"/>
<text x="556.6" y="339.1" font-size="11">Stress</text>
<g font-size="14.6">
<text transform="translate(403.4 532.0) scale(.89 1)">O</text>
<text transform="translate(475.2 528.8) scale(.89 1)">A</text>
<text transform="translate(578.4 415.7) scale(.89 1)">B</text>
<text transform="translate(626.1 371.2) scale(.89 1)">C</text>
<text transform="translate(632.6 403.2) scale(.89 1)">D</text>
<text transform="translate(637.8 427.6) scale(.89 1)" font-size="12.2">HF</text>
<text transform="translate(639.8 480.4) scale(.89 1)" font-size="12.2">IF</text>
<text transform="translate(638.3 530.6) scale(.89 1)" font-size="12.2">LF</text>
</g>
<text x="528.5" y="592.7" font-size="19.8" text-anchor="middle">(d) FT-30</text>
</g>
<g>
<rect x="59.5" y="690.2" width="255.8" height="52.5" fill="#adf39f"/>
<rect x="59.5" y="742.7" width="255.8" height="52.5" fill="#f5bea7"/>
<rect x="59.5" y="795.2" width="255.8" height="52.0" fill="#a5cff8"/>
<path d="M59.5 690.2H315.3M59.5 742.7H315.3M59.5 795.2H315.3" stroke="#4a78cc" stroke-width="1.0" fill="none"/>
<polyline fill="none" stroke="none" marker-start="url(#r4)" marker-mid="url(#r4)" marker-end="url(#r4)" points="197.6,782.1 253.5,718.0 273.0,801.3 253.9,815.4 241.4,720.6 227.9,815.4 186.2,720.6 193.0,718.0 164.5,753.9 270.9,785.9 217.8,716.7 254.1,801.3 251.1,782.1 267.8,770.5 92.0,785.9 147.0,778.2 233.6,792.3 269.4,778.2 249.7,718.0 265.1,721.8 61.2,802.6 259.9,737.2 93.5,770.5 275.9,785.9 254.4,782.1 187.3,798.7 71.6,823.1 228.3,782.1 90.5,807.7 88.4,816.7 248.7,739.8 208.6,814.1 201.8,800.0 191.0,720.6 218.6,780.8 274.8,782.1 229.3,785.9 191.9,779.5 69.7,785.9 174.6,823.1 242.7,739.8 100.8,785.9 80.6,801.3 177.8,782.1 260.9,797.5 204.7,778.2 146.7,785.9 229.7,801.3 146.2,777.0 184.4,782.1 204.9,755.2 185.5,753.9 160.7,716.7 196.0,719.3 215.7,800.0 228.5,801.3 224.6,785.9 240.2,716.7 188.7,718.0 260.5,782.1 233.6,729.5 246.2,733.4 191.3,777.0 200.4,779.5 238.1,785.9 187.1,716.7 257.4,721.8 86.2,797.5 264.2,782.1 259.0,720.6 218.7,777.0 233.7,719.3 68.9,755.2 205.7,785.9 228.9,785.9 118.7,753.9 188.4,785.9 209.7,780.8 203.5,738.5 61.7,816.7 166.2,802.6 215.2,780.8 226.0,716.7 110.3,783.4 248.9,719.3 142.6,785.9 168.4,785.9 76.6,770.5 139.9,783.4 191.2,802.6 139.0,782.1 217.1,783.4 132.6,777.0 245.3,785.9 160.0,778.2 203.9,755.2 210.5,719.3 223.4,815.4 187.5,801.3 237.6,719.3 207.4,715.4 248.2,733.4 275.7,778.2 269.2,782.1 74.4,803.9 242.1,738.5 228.7,732.1 217.6,780.8 160.3,780.8 77.8,785.9 281.5,756.4 197.8,720.6 255.1,714.1 107.0,783.4 142.8,782.1 247.9,739.8 203.1,782.1 223.4,801.3 202.8,801.3 76.3,803.9 225.1,718.0 242.8,815.4 246.9,785.9 181.0,778.2 185.5,785.9 167.0,755.2 206.9,815.4 80.4,785.9 215.2,814.1 243.5,733.4 273.9,720.6 231.9,720.6 64.6,743.6 147.1,785.9 198.0,798.7 83.9,823.1 207.5,798.7 254.4,782.1 196.7,716.7 100.0,782.1 212.9,802.6 185.2,802.6 252.3,779.5 240.9,798.7 246.1,785.9 190.4,719.3 179.7,785.9 115.0,785.9 177.1,716.7 133.0,820.5 205.7,716.7 108.6,784.6 275.5,800.0 263.2,801.3 131.2,783.4 175.7,785.9 223.6,737.2 214.5,824.4 194.8,732.1 194.6,779.5 127.7,785.9 255.6,810.3 160.3,785.9 186.2,725.7 235.2,792.3 64.2,785.9 145.0,783.4 264.4,783.4 134.1,782.1 186.5,793.6 176.6,802.6 205.9,801.3 197.7,729.5 189.4,723.1 225.1,806.4 232.2,797.5 184.2,719.3 216.5,733.4 63.8,785.9 235.9,782.1 185.6,770.5 60.9,759.0 188.2,735.9 203.8,738.5 211.8,782.1 229.6,733.4 200.4,798.7 155.6,783.4 69.1,802.6 118.9,819.3 264.5,801.3 209.0,779.5 191.8,798.7 162.6,785.9 176.9,724.4 196.3,720.6 255.3,800.0 247.0,806.4 208.4,720.6 254.3,777.0 166.5,802.6 203.3,719.3 218.0,720.6 63.0,816.7 229.5,798.7 257.9,719.3 236.6,714.1 239.1,732.1 121.7,816.7 237.2,807.7 120.1,770.5 232.8,730.8 87.9,816.7 255.5,801.3 174.3,785.9 97.1,782.1 114.2,802.6 185.6,755.2 189.9,779.5 188.7,778.2 245.1,785.9 137.2,785.9 222.7,784.6 259.9,782.1 147.4,783.4 227.5,801.3 219.3,721.8 247.2,719.3 210.0,782.1 242.9,785.9 203.9,807.7 120.4,782.1 210.2,780.8 272.6,718.0 254.0,777.0 232.2,779.5 192.4,720.6 214.2,815.4 205.0,777.0 125.7,783.4 266.3,720.6 186.9,735.9 257.3,737.2 274.0,723.1 250.0,785.9 200.7,762.9 268.5,719.3 91.7,810.3 248.1,801.3 251.1,814.1 175.0,730.8 254.2,806.4 259.3,732.1 240.1,782.1 175.2,716.7 261.5,721.8 202.5,798.7 201.8,798.7 270.8,720.6 201.1,800.0 65.9,809.0 187.4,716.7 242.6,800.0 216.7,801.3 116.2,820.5 184.5,801.3 208.6,721.8 69.5,802.6 219.5,719.3 90.1,816.7 243.4,720.6 120.1,801.3 254.6,806.4 130.2,785.9 256.9,778.2 224.5,720.6 107.3,770.5 241.0,719.3 94.7,777.0 117.9,820.5 251.4,778.2 193.8,755.2 219.1,724.4 247.4,801.3 131.5,782.1 67.2,785.9 194.5,732.1 236.4,719.3 231.4,737.2 83.0,770.5 201.9,733.4 248.6,785.9 89.9,823.1 269.2,785.9 200.0,783.4 123.6,785.9 207.5,778.2 209.9,801.3 239.1,721.8 219.2,777.0 220.1,779.5 80.2,785.9 246.2,778.2 77.9,755.2 195.6,755.2 122.1,788.5 272.9,716.7 133.9,782.1 270.3,779.5"/>
<polyline fill="none" stroke="none" marker-start="url(#r4)" marker-mid="url(#r4)" marker-end="url(#r4)" points="245.5,737.2 132.5,820.5 100.0,785.9 216.0,719.3 118.7,782.1 171.2,785.9 263.5,780.8 135.4,770.5 206.7,719.3 263.8,812.8 252.3,718.0 273.0,779.5 191.5,801.3 234.5,770.5 225.9,720.6 156.6,785.9 67.2,785.9 218.4,777.0 270.2,719.3 223.5,770.5 93.8,770.5 128.0,780.8 188.1,770.5 97.9,778.2 74.9,823.1 129.6,785.9 217.5,720.6 231.0,802.6 203.3,800.0 244.2,807.7 218.0,806.4 231.0,738.5 85.8,785.9 220.5,735.9 141.8,782.1 78.7,755.2 229.4,806.4 255.9,719.3 213.6,815.4 87.2,797.5 95.1,770.5 234.0,785.9 208.3,782.1 160.2,821.8 244.9,801.3 252.6,738.5 192.1,733.4 192.7,720.6 242.6,733.4 186.0,792.3 83.3,816.7 212.2,735.9 225.9,814.1 237.0,785.9 76.9,785.9 186.4,719.3 148.2,816.7 186.7,782.1 63.0,785.9 188.3,793.6 220.4,778.2 231.1,792.3 192.8,785.9 190.5,770.5 277.2,801.3 142.6,785.9 268.8,785.9 91.6,782.1 234.5,798.7 269.7,719.3 181.8,802.6 210.4,782.1 136.6,820.5 189.1,709.0 188.9,816.7 203.1,718.0 164.5,777.0 207.9,809.0 256.7,718.0 181.2,785.9 183.3,716.7 271.8,720.6 71.1,785.9 195.2,738.5 208.5,801.3 221.7,782.1 228.4,815.4 80.1,823.1 209.0,785.9 90.2,811.6 70.6,801.3 145.7,778.2 76.4,821.8 153.0,785.9 71.8,761.6 224.3,820.5 238.1,797.5 148.7,809.0 247.0,785.9 138.0,770.5 228.0,815.4 247.0,719.3 190.1,777.0 235.4,782.1 236.3,719.3 246.4,807.7 187.6,816.7 231.9,716.7 164.0,716.7 236.5,778.2 244.1,785.9 242.0,807.7 88.5,823.1 87.1,788.5 204.4,785.9 275.4,785.9 184.8,723.1 210.3,801.3 207.4,777.0 223.0,797.5 251.9,779.5 252.2,719.3 190.0,785.9 219.3,785.9 264.5,739.8 223.0,785.9 179.0,721.8 124.1,783.4 186.8,755.2 226.8,734.7 185.3,785.9 275.6,778.2 175.5,738.5 223.5,716.7 73.1,815.4 277.8,784.6 189.4,801.3 254.2,782.1 223.5,785.9 247.4,716.7 218.0,782.1 132.8,785.9 253.0,770.5 74.6,805.2 191.7,793.6 165.2,755.2 254.2,778.2 152.8,782.1 190.8,785.9 227.5,719.3 249.1,782.1 263.8,738.5 199.3,737.2 234.0,770.5 243.1,812.8 278.8,811.6 139.0,755.2 266.8,743.6 104.0,823.1 186.8,783.4 207.9,785.9 118.5,820.5 202.4,737.2 237.4,809.0 221.1,785.9 185.5,737.2 122.7,816.7 130.3,820.5 253.7,814.1 114.8,782.1 66.3,785.9 251.2,733.4 168.1,777.0 118.0,777.0 241.7,779.5 169.2,802.6 210.7,719.3 217.6,801.3 175.1,716.7 262.1,738.5 81.2,824.4 188.7,777.0 244.5,806.4 237.4,721.8 266.5,810.3 223.4,802.6 227.2,720.6 202.3,719.3 218.3,719.3 185.4,738.5 247.4,730.8 252.1,801.3 260.4,735.9 190.4,783.4 260.5,738.5 241.9,741.1 156.0,816.7 158.7,738.5 218.5,721.8 87.2,816.7 106.8,816.7 274.0,785.9 219.7,721.8 253.8,775.7 210.9,719.3 201.4,735.9 154.8,820.5 198.3,718.0 206.6,732.1 274.4,805.2 259.8,734.7 80.7,770.5 153.3,778.2 79.0,785.9 250.7,716.7 219.6,815.4 254.1,777.0 204.1,719.3 242.5,806.4 261.6,720.6 166.5,801.3 256.0,816.7 262.9,737.2 231.2,723.1 252.4,801.3 102.1,782.1 135.1,785.9 186.5,801.3 271.6,784.6 63.9,801.3 176.3,784.6 181.7,716.7 178.8,785.9 186.8,812.8 91.6,823.1 191.1,816.7 187.6,798.7 232.4,801.3 201.1,800.0 236.1,785.9 215.9,779.5 156.2,785.9 150.0,816.7 235.2,800.0 271.0,719.3 182.9,738.5 228.6,739.8 117.2,793.6 213.6,780.8 221.7,802.6 105.7,821.8 203.7,800.0 125.6,780.8 176.3,729.5 220.4,819.3 260.2,779.5 229.9,719.3 185.7,739.8 124.0,782.1 260.6,723.1 231.2,779.5 251.0,783.4 153.2,823.1 164.5,782.1 213.4,738.5 190.6,724.4 212.8,798.7 194.6,733.4 261.4,720.6 263.5,721.8 63.6,823.1 237.4,719.3 246.8,815.4 204.6,815.4 278.5,753.9 85.8,785.9 206.9,718.0 224.8,820.5 251.0,738.5 157.4,777.0 211.5,784.6 169.6,819.3 210.3,738.5 227.2,738.5 265.9,814.1 262.3,792.3 172.3,712.9 256.0,798.7 224.1,782.1 162.9,783.4 233.6,733.4 274.3,779.5 269.3,783.4 205.3,779.5 132.4,785.9 70.2,770.5 192.5,718.0 250.3,785.9 139.6,755.2 95.8,752.6 231.6,737.2 201.3,720.6 132.0,777.0 213.4,737.2 69.3,802.6 246.4,780.8 143.7,785.9 217.8,785.9 269.0,810.3 271.6,737.2"/>
<polyline fill="none" stroke="none" marker-start="url(#r4)" marker-mid="url(#r4)" marker-end="url(#r4)" points="199.2,783.4 216.4,801.3 185.5,770.5 282.0,807.7 187.7,777.0 230.6,806.4 276.5,812.8 233.7,802.6 110.8,785.9 273.8,720.6 115.9,777.0 198.1,800.0 102.1,823.1 242.6,779.5 186.1,741.1 230.5,720.6 156.6,783.4 239.6,782.1 172.1,721.8 179.8,801.3 80.6,824.4 109.4,783.4 182.0,737.2 123.0,819.3 252.6,812.8 220.6,738.5 206.7,721.8 208.4,809.0 189.6,712.9 196.1,782.1 207.6,755.2 177.0,737.2 222.4,800.0 95.5,782.1 81.0,755.2 222.4,720.6 210.9,724.4 189.1,783.4 188.9,785.9 99.9,784.6 227.1,718.0 251.5,785.9 137.4,819.3 274.7,716.7 88.2,788.5 66.9,797.5 227.9,815.4 223.3,818.0 196.2,798.7 178.2,720.6 124.4,785.9 249.9,732.1 258.1,719.3 263.2,801.3 181.0,735.9 233.0,719.3 187.0,720.6 171.1,778.2 174.8,738.5 224.1,785.9 175.8,770.5 218.9,798.7 82.6,755.2 244.8,718.0 196.3,801.3 212.6,778.2 196.2,800.0 74.2,770.5 225.8,719.3 104.5,821.8 176.2,777.0 249.6,720.6 75.2,816.7 241.1,737.2 206.5,785.9 226.0,800.0 151.6,793.6 192.2,718.0 210.3,778.2 237.0,777.0 74.1,801.3 230.3,720.6 86.9,824.4 238.1,739.8 239.6,778.2 92.8,785.9 164.9,785.9 188.9,733.4 228.4,720.6 242.6,805.2 120.0,785.9 201.7,718.0 262.9,721.8 218.1,785.9 186.8,779.5 192.6,732.1 268.0,800.0 88.0,785.9 233.2,730.8 170.2,723.1 135.8,785.9 246.7,785.9 278.7,777.0 251.6,720.6 253.9,785.9 98.5,778.2 237.5,801.3 214.0,720.6 256.1,730.8 268.4,805.2 67.6,770.5 206.6,802.6 181.1,802.6 241.1,806.4 174.8,783.4 217.6,785.9 169.6,785.9 231.2,814.1 112.3,782.1 172.1,785.9 264.7,798.7 119.7,785.9 215.7,815.4 197.8,737.2 151.8,823.1 116.8,820.5 200.6,798.7 239.4,721.8 242.6,738.5 186.3,785.9 188.6,779.5 64.7,785.9 75.0,755.2 163.1,770.5 179.8,716.7 221.6,798.7 273.4,783.4 119.5,755.2 242.6,782.1 165.5,783.4 59.9,821.8 152.9,816.7 153.4,785.9 193.7,815.4 212.4,815.4 200.1,716.7 212.3,814.1 219.9,805.2 221.8,815.4 213.2,798.7 122.0,785.9 80.5,755.2 241.1,802.6 209.0,800.0 117.7,793.6 195.9,806.4 247.2,785.9 270.9,785.9 251.0,720.6 264.5,783.4 90.8,809.0 229.5,719.3 131.1,816.7 273.4,800.0 133.7,820.5 212.0,785.9 93.0,783.4 210.4,780.8 136.1,755.2 236.5,806.4 95.6,782.1 187.9,780.8 244.9,806.4 242.9,735.9 169.2,783.4 249.7,812.8 218.4,734.7 244.7,812.8 76.3,770.5 166.9,801.3 273.7,798.7 242.3,809.0 235.2,801.3 214.0,806.4 244.4,719.3 203.9,779.5 260.2,809.0 193.8,724.4 71.7,802.6 175.4,800.0 194.5,805.2 187.0,755.2 264.7,802.6 172.3,778.2 256.1,783.4 238.1,792.3 200.6,738.5 176.2,785.9 232.5,815.4 130.8,821.8 244.0,737.2 188.7,792.3 184.5,803.9 103.7,824.4 215.7,821.8 245.9,815.4 239.4,806.4 189.8,723.1 161.2,778.2 239.2,807.7 108.5,782.1 239.8,720.6 262.8,727.0 215.3,806.4 144.2,777.0 259.4,800.0 110.1,788.5 250.9,718.0 135.9,802.6 255.9,800.0 257.8,735.9 275.1,800.0 76.3,824.4 159.0,738.5 281.4,809.0 154.1,770.5 210.7,783.4 265.3,778.2 65.6,743.6 251.1,814.1 156.2,755.2 68.5,755.2 211.5,783.4 100.2,785.9 92.3,782.1 201.3,800.0 196.9,777.0 216.3,719.3 244.9,720.6 241.2,815.4 217.2,723.1 210.1,800.0 239.1,723.1 241.0,792.3 241.1,785.9 271.2,785.9 189.4,755.2 111.0,783.4 71.8,759.0 250.9,735.9 168.4,770.5 147.3,820.5 150.4,777.0 190.5,730.8 85.2,770.5 247.3,783.4 164.0,785.9 127.8,780.8 178.7,785.9 191.2,821.8 242.1,800.0 82.0,820.5 189.9,721.8 192.1,821.8 206.0,779.5 256.1,779.5 197.6,735.9 97.9,770.5 144.8,785.9 133.9,821.8 68.6,755.2 273.0,800.0 234.0,735.9 216.8,783.4 104.5,785.9 254.2,783.4 88.0,807.7 212.9,815.4 98.4,807.7 217.5,719.3 273.0,800.0 231.1,785.9 283.3,810.3 123.8,783.4 216.8,778.2 168.8,785.9 254.8,720.6 146.5,785.9 222.2,719.3 236.5,805.2 181.0,782.1 186.6,792.3 141.4,782.1 89.5,802.6 234.6,720.6 207.8,734.7 84.1,770.5 262.1,777.0 240.8,802.6 189.5,755.2 214.9,720.6 248.8,814.1 233.2,798.7 233.0,755.2 79.5,785.9 143.8,780.8 173.3,741.1 219.3,785.9 191.2,783.4 272.3,782.1"/>
<polyline fill="none" stroke="none" marker-start="url(#r4)" marker-mid="url(#r4)" marker-end="url(#r4)" points="77.2,821.8 257.5,798.7 166.3,777.0 209.4,800.0 105.4,755.2 167.3,777.0 209.0,800.0 274.0,784.6 158.9,788.5 75.0,824.4 206.2,810.3 197.4,780.8 159.0,816.7 111.1,785.9 232.7,733.4 193.0,723.1 63.5,816.7 276.6,785.9 119.0,782.1 158.8,816.7 192.4,730.8 247.3,720.6 251.6,737.2 188.1,777.0 186.4,720.6 243.2,814.1 183.4,802.6 195.1,733.4 244.2,734.7 255.5,778.2 260.4,737.2 215.4,815.4 185.0,730.8 210.8,785.9 191.4,785.9 223.4,735.9 229.1,780.8 255.3,798.7 265.6,721.8 190.7,729.5 250.7,800.0 193.2,729.5 187.8,801.3 223.1,782.1 100.0,770.5 139.7,783.4 247.7,733.4 210.9,815.4 244.7,812.8 274.7,805.2 267.1,720.6 206.0,721.8 251.3,738.5 232.0,733.4 209.1,737.2 124.7,819.3 194.4,806.4 151.9,821.8 235.1,782.1 164.6,755.2 230.7,720.6 67.8,747.5 245.0,777.0 171.5,783.4 262.5,801.3 68.5,803.9 203.7,785.9 167.4,785.9 83.5,820.5 264.7,720.6 244.1,728.2 208.5,716.7 152.7,788.5 254.0,785.9 140.2,785.9 220.2,800.0 167.2,785.9 254.2,779.5 247.4,718.0 259.3,812.8 157.8,777.0 128.1,821.8 216.0,716.7 240.4,805.2 75.4,823.1 201.4,801.3 129.9,820.5 85.8,820.5 205.1,737.2 244.0,809.0 175.2,738.5 258.9,770.5 281.0,800.0 136.3,780.8 177.9,785.9 258.1,812.8 219.8,792.3 215.7,785.9 238.5,782.1 178.4,782.1 88.6,815.4 243.4,780.8 151.9,816.7 218.7,778.2 185.3,797.5 254.1,797.5 66.5,770.5 177.5,737.2 248.5,805.2 125.4,780.8 104.7,777.0 191.1,735.9 148.5,816.7 220.5,737.2 191.7,816.7 241.7,807.7 207.9,815.4 262.6,737.2 218.2,720.6 258.0,718.0 179.6,716.7 171.3,777.0 117.4,820.5 207.0,734.7 91.1,821.8 185.7,770.5 204.6,716.7 257.5,738.5 209.1,734.7 235.2,792.3 263.1,780.8 147.2,783.4 255.3,719.3 191.1,802.6 242.3,815.4 187.5,770.5 154.6,755.2 241.9,715.4 228.2,823.1 66.6,801.3 208.8,800.0 215.2,785.9 238.7,806.4 150.6,780.8 265.3,715.4 264.5,811.6 233.1,721.8 273.2,723.1 231.3,800.0 224.7,778.2 234.2,782.1 252.0,785.9 241.5,801.3 191.4,716.7 136.7,820.5 243.4,720.6 102.1,785.9 281.5,802.6 224.1,815.4 179.8,770.5 263.7,720.6 166.9,778.2 225.7,734.7 175.6,716.7 243.5,720.6 87.9,823.1 64.9,785.9 207.8,800.0 268.8,720.6 120.9,820.5 192.9,819.3 204.0,784.6 85.4,806.4 178.5,780.8 193.5,770.5 170.6,801.3 161.2,739.8 248.4,733.4 117.3,785.9 259.3,800.0 226.4,784.6 73.1,823.1 271.6,716.7 187.4,798.7 175.3,811.6 199.8,734.7 214.7,784.6 179.5,737.2 260.7,792.3 92.1,816.7 209.5,718.0 188.4,815.4 186.6,737.2 132.7,777.0 213.5,770.5 198.8,814.1 134.0,785.9 133.4,785.9 90.9,783.4 226.4,782.1 257.8,721.8 202.9,778.2 231.3,798.7 236.1,809.0 226.5,779.5 118.9,820.5 90.3,785.9 240.2,751.3 260.5,782.1 132.1,782.1 243.4,737.2 204.6,785.9 236.7,792.3 215.4,730.8 195.8,730.8 252.1,800.0 233.9,815.4 215.3,738.5 180.0,777.0 265.1,734.7 209.5,800.0 268.4,798.7 202.7,737.2 188.9,716.7 233.0,756.4 135.4,820.5 210.5,779.5 211.1,779.5 141.9,777.0 73.7,785.9 172.1,735.9 171.3,782.1 178.9,739.8 188.9,801.3 224.2,716.7 95.3,782.1 137.2,820.5 208.0,755.2 242.5,809.0 190.5,785.9 251.7,721.8 259.7,720.6 254.2,723.1 198.3,805.2 247.0,809.0 144.6,777.0 249.2,798.7 247.6,720.6 187.1,755.2 189.5,719.3 150.8,821.8 134.8,821.8 234.2,809.0 188.6,815.4 244.1,738.5 249.9,780.8 70.7,770.5 211.5,770.5 230.9,721.8 236.2,738.5 239.2,815.4 258.0,814.1 92.1,816.7 232.8,809.0 189.3,782.1 232.4,757.7 260.5,800.0 206.2,755.2 93.0,753.9 87.6,747.5 208.4,806.4 230.5,777.0 198.1,782.1 209.9,709.0 248.9,780.8 210.5,785.9 268.8,778.2 205.6,733.4 128.0,785.9 243.6,802.6 208.3,783.4 105.2,785.9 182.2,716.7 188.2,739.8 272.8,732.1 209.7,729.5 121.0,785.9 230.6,800.0 232.8,800.0 257.2,737.2 261.2,782.1 233.3,801.3 246.8,815.4 159.9,820.5 149.3,830.8 89.5,762.9 261.6,780.8 220.0,720.6"/>
<polyline fill="none" stroke="none" marker-start="url(#b4)" marker-mid="url(#b4)" marker-end="url(#b4)" points="249.2,805.2 282.9,824.4 275.7,814.1 272.8,811.6 270.6,820.5 274.6,800.0 283.3,820.5 282.0,806.4 282.5,800.0 271.1,802.6 273.7,806.4"/>
<polyline fill="none" stroke="none" marker-start="url(#r4)" marker-mid="url(#r4)" marker-end="url(#r4)" points="199.9,798.7 259.2,792.3 89.0,785.9 79.8,823.1 215.4,779.5 89.1,785.9 200.8,718.0 255.6,782.1 93.2,753.9 269.3,720.6 160.2,780.8 168.4,782.1 123.6,819.3 245.6,806.4 186.4,792.3 73.8,816.7 186.3,785.9 80.5,824.4 211.9,737.2 228.0,815.4 271.7,721.8 207.5,741.1 245.6,721.8 255.4,718.0 82.6,777.0 210.0,709.0 80.9,785.9 207.5,815.4 159.7,778.2 163.4,770.5 273.9,806.4 207.8,785.9 236.4,721.8 201.1,778.2 94.5,793.6 79.7,785.9 253.3,779.5 224.9,821.8 204.9,778.2 243.8,739.8 244.3,732.1 217.4,719.3 79.0,825.7 106.9,785.9 231.9,733.4 185.2,770.5 181.0,785.9 244.9,780.8 272.0,720.6 202.9,778.2 281.3,802.6 192.6,785.9 176.5,733.4 114.8,785.9 229.6,778.2 235.0,798.7 84.5,793.6 223.8,723.1 243.6,733.4 157.6,785.9 84.8,770.5 276.3,778.2 213.4,782.1 208.0,815.4 195.3,778.2 206.4,741.1 202.4,785.9 216.3,814.1 93.9,785.9 247.9,807.7 234.1,800.0 186.1,716.7 207.4,739.8 260.0,770.5 248.1,798.7 97.6,785.9 251.2,814.1 210.9,785.9 242.9,737.2 105.4,816.7 257.6,721.8 184.0,785.9 141.5,820.5 161.5,716.7 111.6,785.9 233.8,779.5 232.3,755.2 204.8,805.2 263.0,721.8 148.8,785.9 89.4,753.9 96.3,753.9 212.1,801.3 151.7,785.9 109.7,783.4 268.6,785.9 121.7,816.7 157.2,780.8 258.7,816.7 202.9,778.2 224.6,780.8 180.8,783.4 218.8,783.4 156.6,778.2 252.5,737.2 248.0,818.0 133.1,785.9 85.8,785.9 154.0,782.1 259.8,778.2 170.7,783.4 223.2,819.3 205.2,798.7 272.7,782.1 146.6,777.0 269.4,779.5 198.3,800.0 257.9,785.9 227.0,801.3 115.5,777.0 230.6,807.7 181.6,783.4 256.5,805.2 129.0,798.7 245.8,806.4 252.2,735.9 145.7,820.5 235.0,780.8 267.7,777.0 180.4,801.3 106.9,816.7 269.2,720.6 125.1,811.6 207.1,807.7 124.0,760.3 272.8,770.5 91.5,807.7 227.8,723.1 249.2,782.1 206.2,720.6 85.4,811.6 119.5,782.1 258.5,719.3 188.5,785.9 207.6,800.0 143.8,782.1 277.6,803.9 200.5,782.1 201.2,739.8 197.9,801.3 236.6,723.1 234.4,716.7 171.4,724.4 251.9,785.9 187.2,730.8 150.1,777.0 263.4,785.9 199.3,785.9 233.0,801.3 180.1,732.1 222.5,719.3 186.9,718.0 243.2,800.0 211.7,780.8 237.5,720.6 142.9,785.9 269.6,720.6 193.6,801.3 180.0,716.7 265.6,801.3 179.6,716.7 247.9,737.2 221.0,775.7 198.4,730.8 231.7,785.9 264.4,719.3 251.4,783.4 250.3,782.1 185.6,721.8 258.4,785.9 179.2,735.9 94.4,785.9 283.1,800.0 270.5,783.4 128.0,806.4 196.2,719.3 82.2,785.9 202.3,800.0 260.8,718.0 106.3,788.5 249.8,777.0 187.8,782.1 241.4,814.1 185.1,783.4 234.1,785.9 72.2,770.5 128.6,785.9 239.9,785.9 104.2,751.3 208.4,785.9 216.2,801.3 230.9,716.7 244.6,716.7 208.4,779.5 165.6,802.6 211.4,785.9 274.1,806.4 188.0,739.8 79.3,823.1 259.1,782.1 197.8,755.2 263.7,800.0 252.1,779.5 248.1,779.5 189.2,816.7 149.6,777.0 223.5,820.5 143.8,755.2 148.4,783.4 231.5,714.1 184.7,777.0 73.7,801.3 186.1,735.9 249.4,778.2 158.6,788.5 110.0,785.9 248.7,800.0 71.1,801.3 251.2,718.0 109.2,782.1 239.5,805.2 89.9,752.6 198.2,719.3 124.9,782.1 90.4,785.9 84.4,788.5 179.6,730.8 224.4,815.4 177.3,753.9 151.0,785.9 189.8,777.0 217.9,718.0 227.4,735.9 145.5,777.0 92.1,785.9 198.8,719.3 65.1,785.9 171.3,821.8 151.1,783.4 276.7,809.0 165.6,783.4 236.4,800.0 189.1,785.9 89.5,809.0 91.3,785.9 206.1,783.4 136.0,821.8 281.1,800.0 148.0,783.4 160.8,741.1 69.2,770.5 114.0,784.6 229.8,782.1 113.1,782.1 188.9,783.4 278.0,806.4 222.6,814.1 230.0,785.9 190.3,801.3 172.6,801.3 190.1,755.2 191.0,785.9 209.1,720.6 89.5,785.9 214.3,783.4 229.0,778.2 121.7,785.9 219.1,792.3 226.4,807.7 186.7,721.8 223.7,814.1 174.7,802.6 225.6,805.2 121.7,785.9 186.5,782.1 233.3,801.3 236.9,801.3 238.9,801.3 242.9,718.0 252.4,785.9 174.9,785.9 94.1,785.9 200.0,718.0 274.1,720.6 189.5,779.5 224.1,798.7 239.8,779.5 258.2,798.7 206.6,783.4 191.4,802.6"/>
<polyline fill="none" stroke="none" marker-start="url(#b4)" marker-mid="url(#b4)" marker-end="url(#b4)" points="263.0,803.9 274.5,815.4 282.4,814.1 276.0,809.0 269.8,809.0 267.9,818.0 280.9,812.8 268.9,823.1 266.8,801.3 283.4,807.7"/>
<polyline fill="none" stroke="none" marker-start="url(#r4)" marker-mid="url(#r4)" marker-end="url(#r4)" points="233.9,777.0 227.8,801.3 174.8,730.8 214.8,806.4 206.7,785.9 118.1,785.9 153.9,755.2 107.7,782.1 257.3,801.3 67.0,802.6 167.3,780.8 143.8,819.3 197.2,723.1 264.8,718.0 247.8,805.2 160.8,716.7 103.4,784.6 283.5,801.3 232.6,778.2 254.2,739.8 270.3,784.6 239.2,779.5 231.2,782.1 234.2,716.7 154.7,770.5 264.1,783.4 263.1,778.2 132.1,783.4 223.1,732.1 76.3,805.2 188.8,777.0 175.8,716.7 241.1,805.2 126.0,819.3 241.4,721.8 62.3,816.7 118.6,756.4 186.5,797.5 169.7,721.8 250.1,785.9 67.6,770.5 159.1,770.5 262.6,783.4 97.2,770.5 225.9,814.1 201.1,716.7 251.9,806.4 187.6,733.4 207.0,738.5 156.8,778.2 113.9,785.9 231.6,716.7 90.6,823.1 205.0,719.3 178.7,770.5 171.1,801.3 130.6,819.3 250.6,780.8 234.1,723.1 273.5,806.4 203.3,805.2 183.8,770.5 186.2,718.0 117.6,821.8 72.9,785.9 186.9,737.2 251.6,720.6 146.5,779.5 245.3,815.4 236.1,778.2 255.7,739.8 173.2,716.7 159.2,770.5 248.4,785.9 90.4,785.9 158.0,780.8 190.9,743.6 245.0,719.3 219.7,720.6 258.9,785.9 194.2,755.2 219.8,778.2 129.9,802.6 189.7,802.6 261.8,719.3 190.8,716.7 144.7,819.3 68.3,755.2 239.2,709.0 135.0,770.5 267.6,727.0 187.9,720.6 188.6,780.8 218.2,718.0 249.4,783.4 257.1,807.7 160.8,820.5 260.4,741.1 169.8,723.1 175.3,793.6 217.1,821.8 158.7,770.5 207.5,802.6 80.1,820.5 268.5,780.8 193.1,814.1 251.0,738.5 171.5,785.9 257.6,807.7 204.6,785.9 96.8,778.2 209.0,815.4 244.2,738.5 218.2,719.3 142.0,820.5 187.3,798.7 90.3,785.9 248.0,785.9 133.5,785.9 261.8,734.7 103.6,753.9 276.4,779.5 266.6,815.4 190.8,755.2 263.4,785.9 187.6,728.2 234.1,809.0 241.2,782.1 253.2,800.0 190.8,720.6 269.0,720.6 138.2,821.8 228.0,730.8 186.4,802.6 112.1,780.8 220.0,720.6 132.9,780.8 185.7,735.9 247.5,798.7 255.1,720.6 251.5,785.9 155.6,809.0 259.9,824.4 184.0,777.0 155.6,785.9 62.4,785.9 82.1,825.7 261.0,737.2 203.8,709.0 210.8,738.5 175.3,816.7 229.5,719.3 214.3,800.0 77.6,823.1 239.7,782.1 205.6,779.5 248.8,718.0 120.8,783.4 166.6,752.6 239.4,737.2 178.4,778.2 170.5,821.8 151.7,782.1 180.2,770.5 204.9,779.5 203.5,800.0 198.1,775.7 214.5,785.9 224.9,815.4 71.1,770.5 203.5,805.2 271.7,719.3 212.0,782.1 193.0,732.1 239.4,800.0 124.7,820.5 227.4,738.5 220.9,783.4 62.0,823.1 278.5,807.7 207.7,732.1 248.3,719.3 280.6,728.2 151.1,780.8 220.7,718.0 209.2,735.9 80.6,821.8 229.5,778.2 192.7,719.3 212.8,800.0 190.4,821.8 240.4,730.8 221.3,792.3 150.5,785.9 260.8,785.9 189.9,777.0 278.2,753.9 272.9,809.0 254.4,802.6 273.0,800.0 207.8,797.5 194.2,719.3 214.7,737.2 243.6,809.0 239.2,815.4 142.1,820.5 245.3,735.9 159.6,770.5 77.9,785.9 178.0,782.1 203.2,783.4 165.8,785.9 256.5,802.6 214.8,801.3 129.9,793.6 89.9,785.9 233.9,777.0 192.3,738.5 117.5,785.9 209.0,719.3 244.1,737.2 264.8,783.4 169.4,762.9 196.3,720.6 211.6,779.5 119.5,820.5 281.3,752.6 149.6,816.7 187.2,812.8 159.7,816.7 278.4,780.8 195.0,782.1 260.5,719.3 216.2,782.1 66.9,802.6 231.7,800.0 131.1,819.3 205.7,716.7 208.7,733.4 192.4,780.8 210.2,782.1 194.9,801.3 97.6,778.2 229.9,718.0 220.1,800.0 204.2,778.2 252.0,807.7 220.9,797.5 201.0,800.0 123.2,820.5 189.0,755.2 106.2,777.0 239.9,798.7 144.8,820.5 260.5,814.1 273.8,809.0 213.5,800.0 188.9,718.0 258.1,718.0 261.7,807.7 257.0,809.0 250.1,721.8 125.5,816.7 195.2,721.8 216.7,735.9"/>
<polyline fill="none" stroke="none" marker-start="url(#b4)" marker-mid="url(#b4)" marker-end="url(#b4)" points="283.4,809.0 277.3,806.4 269.8,807.7 275.9,803.9 281.2,820.5 276.6,809.0 262.8,803.9 271.4,802.6 265.0,819.3 264.7,819.3 249.5,809.0 282.6,820.5 279.6,810.3 282.9,820.5 256.9,800.0 281.2,802.6 281.3,803.9 283.7,823.1 275.4,821.8 253.9,803.9 270.6,819.3 277.7,801.3 272.7,820.5 273.9,820.5 259.4,798.7 281.7,815.4 264.8,815.4 273.9,805.2 277.8,812.8 268.6,805.2 280.5,816.7 273.1,805.2 270.1,801.3 281.8,807.7 280.7,816.7 278.9,816.7 271.9,800.0 274.9,815.4 280.3,812.8 268.6,815.4 282.6,811.6 280.4,816.7 251.8,800.0 253.4,814.1 265.0,810.3"/>
<path d="M59.5 847.2C60.5 847.2 63.9 847.3 65.5 846.9C67.1 846.5 66.1 845.8 69.0 844.9C71.9 844.0 78.1 843.1 82.9 841.7C87.7 840.3 92.9 838.8 97.9 836.7C102.9 834.6 107.5 832.2 113.0 829.1C118.5 826.0 125.2 821.6 130.6 817.8C136.0 814.0 140.6 810.7 145.6 806.5C150.6 802.3 157.3 796.0 160.7 792.7C164.1 789.4 162.1 791.0 166.2 786.9C170.3 782.8 178.9 774.6 185.2 768.3C191.5 761.9 198.2 754.8 204.1 748.8C210.0 742.8 215.2 737.9 220.5 732.4C225.8 726.9 231.3 720.3 235.7 716.0C240.1 711.7 243.9 708.3 246.8 706.6C249.7 704.9 251.0 707.1 253.3 705.9C255.7 704.7 257.9 702.0 260.9 699.5C263.8 697.0 268.5 692.2 271.0 690.7C273.5 689.2 274.1 691.2 276.1 690.5C278.1 689.8 281.8 687.3 282.9 686.7" fill="none" stroke="#454545" stroke-width="1.5" stroke-linejoin="round"/>
<path d="M282.9 686.7 L283.1 696.3" fill="none" stroke="#2a2a2a" stroke-width="1.5"/>
<circle cx="59.5" cy="847.2" r="1.75" fill="#000"/>
<circle cx="166.2" cy="786.9" r="1.75" fill="#000"/>
<circle cx="246.8" cy="706.6" r="1.75" fill="#000"/>
<circle cx="282.9" cy="686.7" r="1.75" fill="#000"/>
<circle cx="283.1" cy="696.3" r="1.75" fill="#000"/>
<g stroke="#333" stroke-width="1.15" fill="none">
<path d="M59.5 637.3 V847.2 H315.3 V637.3"/>
<path d="M59.5 847.2h-4.0M59.5 821.0h-2.2M59.5 794.7h-4.0M59.5 768.5h-2.2M59.5 742.2h-4.0M59.5 716.0h-2.2M59.5 689.7h-4.0M59.5 663.5h-2.2M59.5 637.2h-4.0M315.3 847.2h4.0M315.3 826.2h2.2M315.3 805.2h4.0M315.3 784.2h2.2M315.3 763.2h4.0M315.3 742.2h2.2M315.3 721.2h4.0M315.3 700.2h2.2M315.3 679.2h4.0M315.3 658.2h2.2M315.3 637.2h4.0M59.5 847.2v4.0M91.5 847.2v2.2M123.4 847.2v4.0M155.4 847.2v2.2M187.3 847.2v4.0M219.2 847.2v2.2M251.2 847.2v4.0M283.1 847.2v2.2M315.1 847.2v4.0"/>
</g>
<line x1="59.7" y1="690.2" x2="59.7" y2="847.2" stroke="#1d2f63" stroke-width="1.3"/>
<g font-size="11.5">
<text transform="translate(53.2 850.5) scale(.93 1)" text-anchor="end">0</text>
<text transform="translate(53.2 798.0) scale(.93 1)" text-anchor="end">40</text>
<text transform="translate(53.2 745.5) scale(.93 1)" text-anchor="end">80</text>
<text transform="translate(53.2 693.0) scale(.93 1)" text-anchor="end">120</text>
<text transform="translate(53.2 640.5) scale(.93 1)" text-anchor="end">160</text>
<text transform="translate(322.0 851.1) scale(.93 1)">0</text>
<text transform="translate(322.0 809.1) scale(.93 1)">20</text>
<text transform="translate(322.0 767.1) scale(.93 1)">40</text>
<text transform="translate(322.0 725.1) scale(.93 1)">60</text>
<text transform="translate(322.0 683.1) scale(.93 1)">80</text>
<text transform="translate(322.0 641.1) scale(.93 1)">100</text>
<text transform="translate(59.5 862.5) scale(.93 1)" text-anchor="middle">0</text>
<text transform="translate(123.4 862.5) scale(.93 1)" text-anchor="middle">50</text>
<text transform="translate(187.3 862.5) scale(.93 1)" text-anchor="middle">100</text>
<text transform="translate(251.2 862.5) scale(.93 1)" text-anchor="middle">150</text>
<text transform="translate(315.1 862.5) scale(.93 1)" text-anchor="middle">200</text>
</g>
<text x="187.4" y="878.2" font-size="11" text-anchor="middle">Time/s</text>
<text transform="translate(33.0 742.2) rotate(-90)" font-size="11" text-anchor="middle">Peak frequency/kHz</text>
<rect x="79.3" y="641.8" width="48.4" height="15.3" fill="#0d31fb"/>
<rect x="127.7" y="641.8" width="48.4" height="15.3" fill="#fd0a1a"/>
<text x="127.7" y="638.6" font-size="11" text-anchor="middle">Amplitude/dB</text>
<g font-size="10" text-anchor="middle"><text x="79.7" y="665.5">90.0</text><text x="128.1" y="665.5">75.0</text><text x="176.5" y="665.5">60.0</text></g>
<line x1="191.5" y1="647.3" x2="216.0" y2="647.3" stroke="#454545" stroke-width="1.5"/>
<text x="219.5" y="651.0" font-size="11">Stress</text>
<g font-size="14.6">
<text transform="translate(62.9 839.6) scale(.89 1)">O</text>
<text transform="translate(166.6 797.7) scale(.89 1)">A</text>
<text transform="translate(240.8 702.8) scale(.89 1)">B</text>
<text transform="translate(276.4 683.3) scale(.89 1)">C</text>
<text transform="translate(281.5 709.8) scale(.89 1)">D</text>
<text transform="translate(299.3 740.0) scale(.89 1)" font-size="12.2">HF</text>
<text transform="translate(301.8 792.4) scale(.89 1)" font-size="12.2">IF</text>
<text transform="translate(300.0 843.0) scale(.89 1)" font-size="12.2">LF</text>
</g>
<text x="192.1" y="905.5" font-size="19.8" text-anchor="middle">(e) FT-40</text>
</g>
<g>
<g stroke="#505050" stroke-width="1.2" fill="none">
<path d="M407.7 647.1 V846.6 H652.8"/>
<path d="M407.7 846.6h-4.0M407.7 830.0h-2.2M407.7 813.4h-4.0M407.7 796.7h-2.2M407.7 780.1h-4.0M407.7 763.5h-2.2M407.7 746.9h-4.0M407.7 730.2h-2.2M407.7 713.6h-4.0M407.7 697.0h-2.2M407.7 680.4h-4.0M407.7 663.7h-2.2M407.7 647.1h-4.0M435.2 846.6v4.0M462.3 846.6v2.2M489.4 846.6v4.0M516.6 846.6v2.2M543.7 846.6v4.0M570.8 846.6v2.2M598.0 846.6v4.0M625.1 846.6v2.2M652.2 846.6v4.0"/>
</g>
<g font-size="12">
<text x="401.2" y="850.6" text-anchor="end">0</text>
<text x="401.2" y="817.4" text-anchor="end">1</text>
<text x="401.2" y="784.1" text-anchor="end">2</text>
<text x="401.2" y="750.9" text-anchor="end">3</text>
<text x="401.2" y="717.6" text-anchor="end">4</text>
<text x="401.2" y="684.4" text-anchor="end">5</text>
<text x="401.2" y="651.1" text-anchor="end">6</text>
<text x="435.2" y="861.6" text-anchor="middle">0</text>
<text x="489.4" y="861.6" text-anchor="middle">10</text>
<text x="543.7" y="861.6" text-anchor="middle">20</text>
<text x="598.0" y="861.6" text-anchor="middle">30</text>
<text x="652.2" y="861.6" text-anchor="middle">40</text>
</g>
<text x="530.5" y="877.0" font-size="11.2" text-anchor="middle">The number of F-T cycles</text>
<text transform="translate(376.0 742.0) rotate(-90)" font-size="11.3" text-anchor="middle">Stress/MPa</text>
<text transform="translate(389.0 746.4) rotate(-90)" font-size="11.6" text-anchor="middle">LF-HA signal radio/%</text>
<g fill="none" stroke="#2f8df5" stroke-width="1.25"><path d="M417.0 704.6h103.0M417.0 793.0h103.0" stroke-dasharray="4.3 2.9"/><path d="M417.0 704.6v88.4M520.0 704.6v88.4" stroke-dasharray="3.6 2.35"/></g>
<g fill="none" stroke="#ea763b" stroke-width="1.25"><path d="M523.2 686.5h155.5M523.2 748.8h155.5" stroke-dasharray="4.3 2.9"/><path d="M523.2 686.5v62.3M678.7 686.5v62.3" stroke-dasharray="3.6 2.35"/></g>
<polyline points="435.2,776.1 489.4,720.9 543.7,705.6 598.0,711.9 652.2,712.9" fill="none" stroke="#3fb521" stroke-width="1.3"/>
<rect x="432.8" y="773.7" width="4.8" height="4.8" fill="#3fb521"/>
<rect x="487.1" y="718.5" width="4.8" height="4.8" fill="#3fb521"/>
<rect x="541.3" y="703.2" width="4.8" height="4.8" fill="#3fb521"/>
<rect x="595.6" y="709.5" width="4.8" height="4.8" fill="#3fb521"/>
<rect x="649.8" y="710.5" width="4.8" height="4.8" fill="#3fb521"/>
<circle cx="435.2" cy="763.5" r="1.7" fill="#f5101f"/>
<circle cx="435.2" cy="772.1" r="1.7" fill="#f5101f"/>
<circle cx="435.2" cy="788.4" r="1.7" fill="#f5101f"/>
<circle cx="489.4" cy="710.3" r="1.7" fill="#f5101f"/>
<circle cx="489.4" cy="725.2" r="1.7" fill="#f5101f"/>
<circle cx="489.4" cy="728.6" r="1.7" fill="#f5101f"/>
<circle cx="489.4" cy="722.9" r="1.7" fill="#f5101f"/>
<circle cx="543.7" cy="701.3" r="1.7" fill="#f5101f"/>
<circle cx="543.7" cy="704.3" r="1.7" fill="#f5101f"/>
<circle cx="543.7" cy="711.6" r="1.7" fill="#f5101f"/>
<circle cx="598.0" cy="706.3" r="1.7" fill="#f5101f"/>
<circle cx="598.0" cy="711.9" r="1.7" fill="#f5101f"/>
<circle cx="598.0" cy="718.3" r="1.7" fill="#f5101f"/>
<circle cx="652.2" cy="705.3" r="1.7" fill="#f5101f"/>
<circle cx="652.2" cy="711.3" r="1.7" fill="#f5101f"/>
<circle cx="652.2" cy="721.9" r="1.7" fill="#f5101f"/>
<g font-size="13.2" fill="#111">
<text x="442.4" y="786">2.12%</text><text x="478" y="743.5">3.78%</text><text x="528.6" y="729.8">4.24%</text><text x="581.5" y="740.8">4.05%</text><text x="631.8" y="740.8">4.02%</text>
</g>
<line x1="413.5" y1="652.6" x2="438.6" y2="652.6" stroke="#3fb521" stroke-width="1.3"/>
<rect x="423.3" y="649.9" width="5.4" height="5.4" fill="#3fb521"/>
<circle cx="426" cy="666.9" r="2.4" fill="#f5101f"/>
<g font-size="11.5"><text x="441.6" y="656.5">Average</text><text x="441.6" y="671">LF-HA</text></g>
<text x="403.6" y="905.2" font-size="19.45">(f) Percentage of LF-HA signal at</text>
<text x="403.6" y="927.5" font-size="19.45">different freeze-thaw times</text>
</g>
</svg></body></html>
